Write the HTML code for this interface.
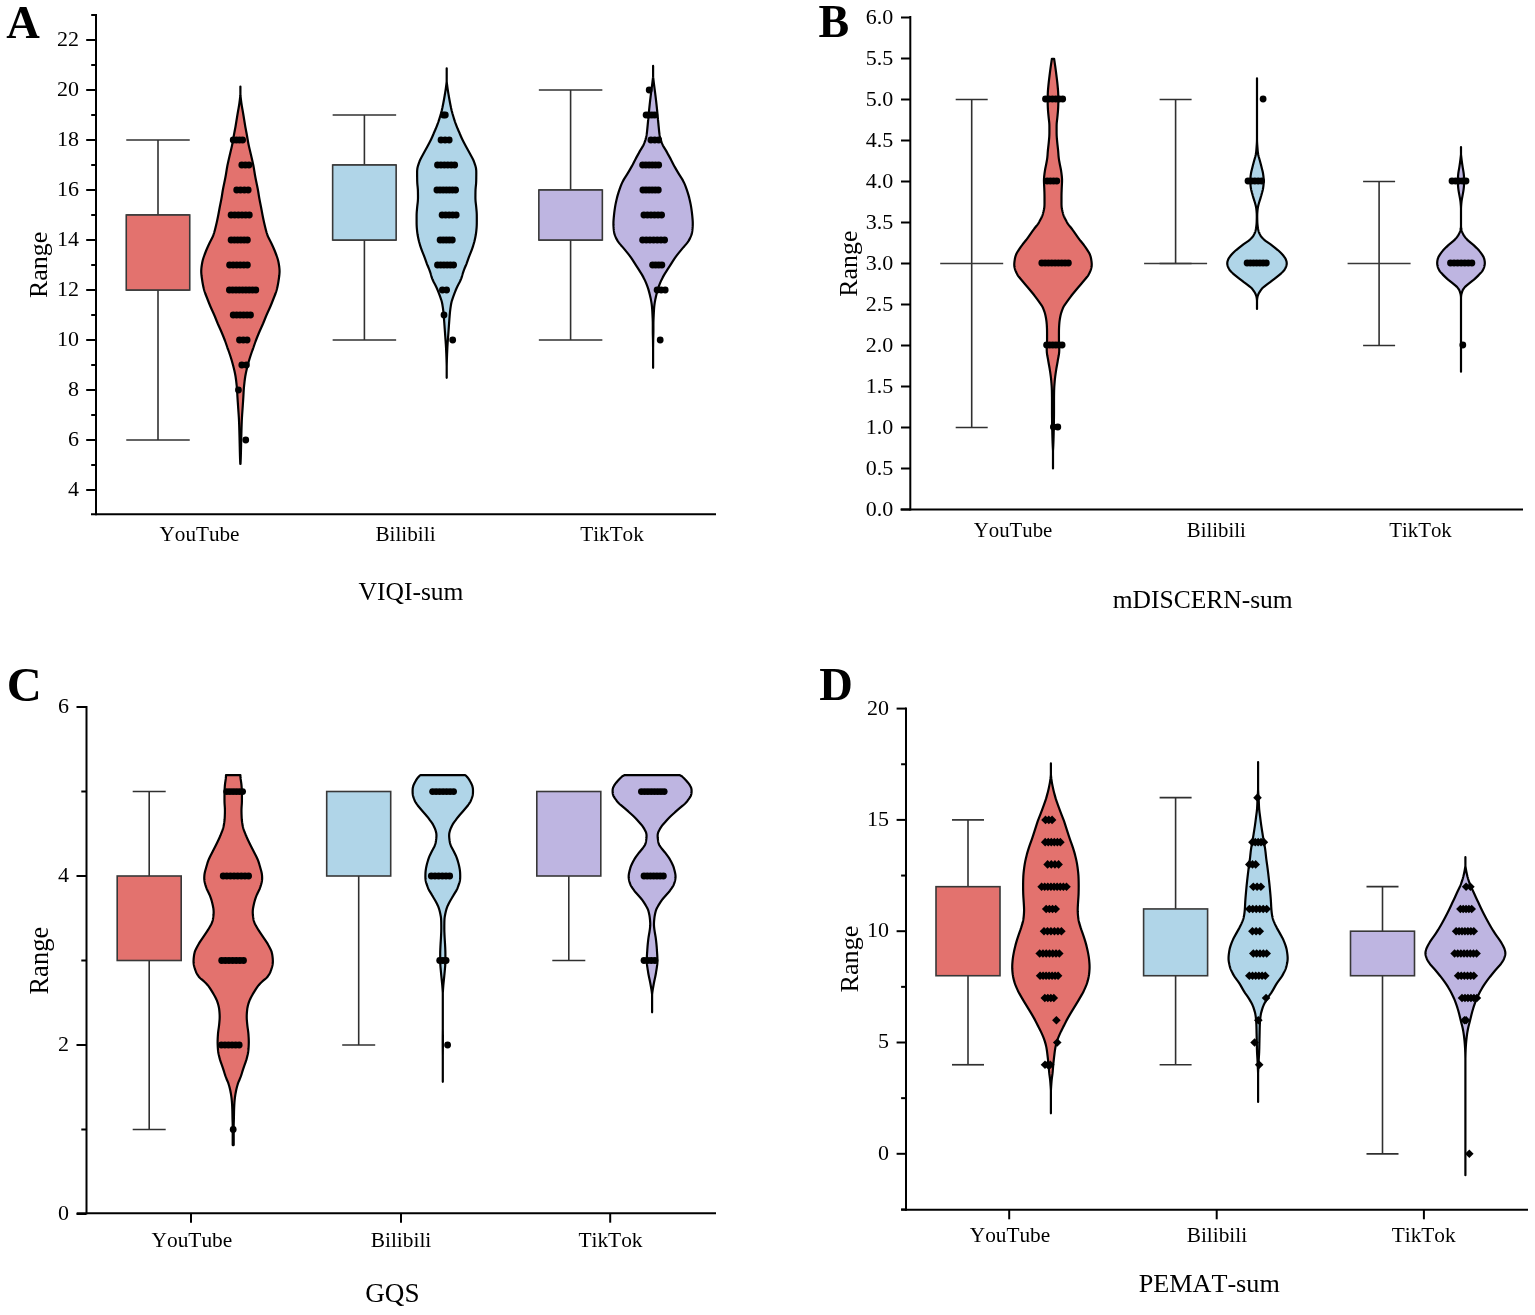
<!DOCTYPE html>
<html><head><meta charset="utf-8"><title>Violin plots</title>
<style>
html,body{margin:0;padding:0;background:#fff;}
body{width:1535px;height:1315px;overflow:hidden;}
svg{display:block;font-family:'Liberation Serif', 'Times New Roman', serif;fill:#000;font-kerning:none;}
</style></head><body>
<svg width="1535" height="1315" viewBox="0 0 1535 1315">
<rect width="1535" height="1315" fill="#fff"/>
<line x1="158" y1="140" x2="158" y2="215" stroke="#303030" stroke-width="1.6"/>
<line x1="126.25" y1="140" x2="189.75" y2="140" stroke="#303030" stroke-width="1.7"/>
<line x1="126.25" y1="215" x2="189.75" y2="215" stroke="#303030" stroke-width="1.7"/>
<line x1="158" y1="290" x2="158" y2="440" stroke="#303030" stroke-width="1.6"/>
<line x1="126.25" y1="290" x2="189.75" y2="290" stroke="#303030" stroke-width="1.7"/>
<line x1="126.25" y1="440" x2="189.75" y2="440" stroke="#303030" stroke-width="1.7"/>
<rect x="126.25" y="215" width="63.5" height="75" fill="#E3726E" stroke="#383838" stroke-width="1.6"/>
<line x1="364.4" y1="115" x2="364.4" y2="165" stroke="#303030" stroke-width="1.6"/>
<line x1="332.65" y1="115" x2="396.15" y2="115" stroke="#303030" stroke-width="1.7"/>
<line x1="332.65" y1="165" x2="396.15" y2="165" stroke="#303030" stroke-width="1.7"/>
<line x1="364.4" y1="240" x2="364.4" y2="340" stroke="#303030" stroke-width="1.6"/>
<line x1="332.65" y1="240" x2="396.15" y2="240" stroke="#303030" stroke-width="1.7"/>
<line x1="332.65" y1="340" x2="396.15" y2="340" stroke="#303030" stroke-width="1.7"/>
<rect x="332.65" y="165" width="63.5" height="75" fill="#B0D5E8" stroke="#383838" stroke-width="1.6"/>
<line x1="570.6" y1="90" x2="570.6" y2="190" stroke="#303030" stroke-width="1.6"/>
<line x1="538.85" y1="90" x2="602.35" y2="90" stroke="#303030" stroke-width="1.7"/>
<line x1="538.85" y1="190" x2="602.35" y2="190" stroke="#303030" stroke-width="1.7"/>
<line x1="570.6" y1="240" x2="570.6" y2="340" stroke="#303030" stroke-width="1.6"/>
<line x1="538.85" y1="240" x2="602.35" y2="240" stroke="#303030" stroke-width="1.7"/>
<line x1="538.85" y1="340" x2="602.35" y2="340" stroke="#303030" stroke-width="1.7"/>
<rect x="538.85" y="190" width="63.5" height="50" fill="#BEB5E1" stroke="#383838" stroke-width="1.6"/>
<path d="M240.4 86.5 L240.4 87.25 L240.4 88 L240.4 88.75 L240.4 89.5 L240.4 90.25 L240.4 91 L240.4 91.75 L240.4 92.5 L240.4 93.25 L240.4 94 L240.4 94.75 L240.44 95.5 L240.53 96.25 L240.62 97 L240.71 97.75 L240.8 98.5 L240.89 99.25 L240.98 100 L241.07 100.75 L241.17 101.5 L241.27 102.25 L241.37 103 L241.48 103.75 L241.59 104.5 L241.71 105.25 L241.83 106 L241.96 106.75 L242.09 107.5 L242.22 108.25 L242.36 109 L242.5 109.75 L242.63 110.5 L242.76 111.25 L242.89 112 L243.02 112.75 L243.15 113.5 L243.27 114.25 L243.4 115 L243.52 115.75 L243.65 116.5 L243.77 117.25 L243.89 118 L244.01 118.75 L244.13 119.5 L244.26 120.25 L244.38 121 L244.5 121.75 L244.62 122.5 L244.75 123.25 L244.87 124 L244.99 124.75 L245.11 125.5 L245.23 126.25 L245.36 127 L245.5 127.75 L245.65 128.5 L245.79 129.25 L245.93 130 L246.07 130.75 L246.21 131.5 L246.36 132.25 L246.5 133 L246.64 133.75 L246.78 134.5 L246.91 135.25 L247.05 136 L247.18 136.75 L247.31 137.5 L247.44 138.25 L247.56 139 L247.69 139.75 L247.82 140.5 L247.95 141.25 L248.08 142 L248.22 142.75 L248.36 143.5 L248.51 144.25 L248.67 145 L248.83 145.75 L249 146.5 L249.17 147.25 L249.34 148 L249.52 148.75 L249.7 149.5 L249.88 150.25 L250.06 151 L250.24 151.75 L250.42 152.5 L250.59 153.25 L250.77 154 L250.95 154.75 L251.13 155.5 L251.3 156.25 L251.48 157 L251.65 157.75 L251.83 158.5 L252 159.25 L252.17 160 L252.34 160.75 L252.51 161.5 L252.67 162.25 L252.84 163 L253 163.75 L253.17 164.5 L253.33 165.25 L253.47 166 L253.61 166.75 L253.74 167.5 L253.87 168.25 L254 169 L254.12 169.75 L254.24 170.5 L254.36 171.25 L254.48 172 L254.6 172.75 L254.72 173.5 L254.84 174.25 L254.97 175 L255.1 175.75 L255.24 176.5 L255.38 177.25 L255.52 178 L255.67 178.75 L255.82 179.5 L255.97 180.25 L256.12 181 L256.28 181.75 L256.43 182.5 L256.59 183.25 L256.74 184 L256.9 184.75 L257.06 185.5 L257.22 186.25 L257.37 187 L257.52 187.75 L257.67 188.5 L257.81 189.25 L257.95 190 L258.08 190.75 L258.21 191.5 L258.33 192.25 L258.45 193 L258.56 193.75 L258.68 194.5 L258.8 195.25 L258.92 196 L259.04 196.75 L259.17 197.5 L259.3 198.25 L259.44 199 L259.58 199.75 L259.72 200.5 L259.87 201.25 L260.02 202 L260.17 202.75 L260.32 203.5 L260.47 204.25 L260.62 205 L260.77 205.75 L260.92 206.5 L261.07 207.25 L261.21 208 L261.35 208.75 L261.49 209.5 L261.63 210.25 L261.77 211 L261.9 211.75 L262.04 212.5 L262.18 213.25 L262.32 214 L262.46 214.75 L262.61 215.5 L262.76 216.25 L262.91 217 L263.06 217.75 L263.21 218.5 L263.37 219.25 L263.53 220 L263.69 220.75 L263.86 221.5 L264.02 222.25 L264.19 223 L264.37 223.75 L264.54 224.5 L264.72 225.25 L264.9 226 L265.08 226.75 L265.26 227.5 L265.45 228.25 L265.63 229 L265.82 229.75 L266.02 230.5 L266.23 231.25 L266.44 232 L266.66 232.75 L266.9 233.5 L267.15 234.25 L267.42 235 L267.71 235.75 L268.03 236.5 L268.36 237.25 L268.72 238 L269.09 238.75 L269.47 239.5 L269.86 240.25 L270.24 241 L270.63 241.75 L271 242.5 L271.37 243.25 L271.73 244 L272.08 244.75 L272.42 245.5 L272.76 246.25 L273.1 247 L273.43 247.75 L273.76 248.5 L274.08 249.25 L274.4 250 L274.71 250.75 L275.01 251.5 L275.3 252.25 L275.59 253 L275.87 253.75 L276.15 254.5 L276.43 255.25 L276.7 256 L276.97 256.75 L277.23 257.5 L277.47 258.25 L277.7 259 L277.92 259.75 L278.12 260.5 L278.29 261.25 L278.45 262 L278.6 262.75 L278.73 263.5 L278.86 264.25 L278.98 265 L279.1 265.75 L279.2 266.5 L279.3 267.25 L279.38 268 L279.45 268.75 L279.5 269.5 L279.54 270.25 L279.56 271 L279.56 271.75 L279.53 272.5 L279.49 273.25 L279.44 274 L279.37 274.75 L279.29 275.5 L279.19 276.25 L279.09 277 L278.99 277.75 L278.88 278.5 L278.77 279.25 L278.66 280 L278.54 280.75 L278.43 281.5 L278.31 282.25 L278.18 283 L278.05 283.75 L277.91 284.5 L277.77 285.25 L277.62 286 L277.46 286.75 L277.29 287.5 L277.12 288.25 L276.93 289 L276.74 289.75 L276.53 290.5 L276.3 291.25 L276.06 292 L275.8 292.75 L275.53 293.5 L275.24 294.25 L274.95 295 L274.66 295.75 L274.36 296.5 L274.06 297.25 L273.76 298 L273.47 298.75 L273.18 299.5 L272.89 300.25 L272.6 301 L272.3 301.75 L272.01 302.5 L271.71 303.25 L271.41 304 L271.1 304.75 L270.79 305.5 L270.48 306.25 L270.16 307 L269.83 307.75 L269.5 308.5 L269.16 309.25 L268.82 310 L268.47 310.75 L268.13 311.5 L267.78 312.25 L267.44 313 L267.11 313.75 L266.78 314.5 L266.45 315.25 L266.13 316 L265.82 316.75 L265.52 317.5 L265.22 318.25 L264.92 319 L264.62 319.75 L264.32 320.5 L264.02 321.25 L263.71 322 L263.4 322.75 L263.09 323.5 L262.76 324.25 L262.44 325 L262.11 325.75 L261.77 326.5 L261.43 327.25 L261.09 328 L260.75 328.75 L260.42 329.5 L260.08 330.25 L259.75 331 L259.43 331.75 L259.11 332.5 L258.79 333.25 L258.48 334 L258.17 334.75 L257.86 335.5 L257.55 336.25 L257.25 337 L256.95 337.75 L256.66 338.5 L256.37 339.25 L256.08 340 L255.8 340.75 L255.53 341.5 L255.26 342.25 L254.99 343 L254.73 343.75 L254.47 344.5 L254.21 345.25 L253.96 346 L253.71 346.75 L253.46 347.5 L253.19 348.25 L252.91 349 L252.63 349.75 L252.36 350.5 L252.09 351.25 L251.82 352 L251.56 352.75 L251.3 353.5 L251.04 354.25 L250.79 355 L250.54 355.75 L250.3 356.5 L250.06 357.25 L249.82 358 L249.59 358.75 L249.37 359.5 L249.14 360.25 L248.92 361 L248.71 361.75 L248.5 362.5 L248.29 363.25 L248.08 364 L247.88 364.75 L247.68 365.5 L247.49 366.25 L247.3 367 L247.11 367.75 L246.92 368.5 L246.74 369.25 L246.56 370 L246.38 370.75 L246.21 371.5 L246.05 372.25 L245.9 373 L245.74 373.75 L245.6 374.5 L245.46 375.25 L245.32 376 L245.2 376.75 L245.09 377.5 L244.99 378.25 L244.88 379 L244.78 379.75 L244.69 380.5 L244.59 381.25 L244.51 382 L244.42 382.75 L244.34 383.5 L244.25 384.25 L244.18 385 L244.1 385.75 L244.03 386.5 L243.96 387.25 L243.89 388 L243.83 388.75 L243.77 389.5 L243.72 390.25 L243.67 391 L243.63 391.75 L243.58 392.5 L243.55 393.25 L243.51 394 L243.47 394.75 L243.43 395.5 L243.39 396.25 L243.34 397 L243.3 397.75 L243.25 398.5 L243.2 399.25 L243.16 400 L243.11 400.75 L243.06 401.5 L243 402.25 L242.95 403 L242.9 403.75 L242.85 404.5 L242.8 405.25 L242.75 406 L242.7 406.75 L242.65 407.5 L242.6 408.25 L242.54 409 L242.49 409.75 L242.44 410.5 L242.39 411.25 L242.33 412 L242.28 412.75 L242.22 413.5 L242.17 414.25 L242.12 415 L242.07 415.75 L242.02 416.5 L241.97 417.25 L241.93 418 L241.89 418.75 L241.85 419.5 L241.81 420.25 L241.78 421 L241.75 421.75 L241.72 422.5 L241.69 423.25 L241.66 424 L241.64 424.75 L241.61 425.5 L241.59 426.25 L241.56 427 L241.54 427.75 L241.52 428.5 L241.5 429.25 L241.47 430 L241.45 430.75 L241.43 431.5 L241.41 432.25 L241.39 433 L241.37 433.75 L241.35 434.5 L241.33 435.25 L241.31 436 L241.29 436.75 L241.27 437.5 L241.25 438.25 L241.24 439 L241.22 439.75 L241.2 440.5 L241.18 441.25 L241.17 442 L241.15 442.75 L241.13 443.5 L241.11 444.25 L241.09 445 L241.08 445.75 L241.06 446.5 L241.04 447.25 L241.02 448 L241.01 448.75 L240.99 449.5 L240.97 450.25 L240.96 451 L240.94 451.75 L240.92 452.5 L240.9 453.25 L240.88 454 L240.86 454.75 L240.84 455.5 L240.82 456.25 L240.79 457 L240.77 457.75 L240.74 458.5 L240.71 459.25 L240.68 460 L240.65 460.75 L240.62 461.5 L240.58 462.25 L240.55 463 L240.51 463.75 L240.5 463.9 L240.3 463.9 L240.29 463.75 L240.25 463 L240.22 462.25 L240.18 461.5 L240.15 460.75 L240.12 460 L240.09 459.25 L240.06 458.5 L240.03 457.75 L240.01 457 L239.98 456.25 L239.96 455.5 L239.94 454.75 L239.92 454 L239.9 453.25 L239.88 452.5 L239.86 451.75 L239.84 451 L239.83 450.25 L239.81 449.5 L239.79 448.75 L239.78 448 L239.76 447.25 L239.74 446.5 L239.72 445.75 L239.71 445 L239.69 444.25 L239.67 443.5 L239.65 442.75 L239.63 442 L239.62 441.25 L239.6 440.5 L239.58 439.75 L239.56 439 L239.55 438.25 L239.53 437.5 L239.51 436.75 L239.49 436 L239.47 435.25 L239.45 434.5 L239.43 433.75 L239.41 433 L239.39 432.25 L239.37 431.5 L239.35 430.75 L239.33 430 L239.3 429.25 L239.28 428.5 L239.26 427.75 L239.24 427 L239.21 426.25 L239.19 425.5 L239.16 424.75 L239.14 424 L239.11 423.25 L239.08 422.5 L239.05 421.75 L239.02 421 L238.99 420.25 L238.95 419.5 L238.91 418.75 L238.87 418 L238.83 417.25 L238.78 416.5 L238.73 415.75 L238.68 415 L238.63 414.25 L238.58 413.5 L238.52 412.75 L238.47 412 L238.41 411.25 L238.36 410.5 L238.31 409.75 L238.26 409 L238.2 408.25 L238.15 407.5 L238.1 406.75 L238.05 406 L238 405.25 L237.95 404.5 L237.9 403.75 L237.85 403 L237.8 402.25 L237.74 401.5 L237.69 400.75 L237.64 400 L237.6 399.25 L237.55 398.5 L237.5 397.75 L237.46 397 L237.41 396.25 L237.37 395.5 L237.33 394.75 L237.29 394 L237.25 393.25 L237.22 392.5 L237.17 391.75 L237.13 391 L237.08 390.25 L237.03 389.5 L236.97 388.75 L236.91 388 L236.84 387.25 L236.77 386.5 L236.7 385.75 L236.62 385 L236.55 384.25 L236.46 383.5 L236.38 382.75 L236.29 382 L236.21 381.25 L236.11 380.5 L236.02 379.75 L235.92 379 L235.81 378.25 L235.71 377.5 L235.6 376.75 L235.48 376 L235.34 375.25 L235.2 374.5 L235.06 373.75 L234.9 373 L234.75 372.25 L234.59 371.5 L234.42 370.75 L234.24 370 L234.06 369.25 L233.88 368.5 L233.69 367.75 L233.5 367 L233.31 366.25 L233.12 365.5 L232.92 364.75 L232.72 364 L232.51 363.25 L232.3 362.5 L232.09 361.75 L231.88 361 L231.66 360.25 L231.43 359.5 L231.21 358.75 L230.98 358 L230.74 357.25 L230.5 356.5 L230.26 355.75 L230.01 355 L229.76 354.25 L229.5 353.5 L229.24 352.75 L228.98 352 L228.71 351.25 L228.44 350.5 L228.17 349.75 L227.89 349 L227.61 348.25 L227.34 347.5 L227.09 346.75 L226.84 346 L226.59 345.25 L226.33 344.5 L226.07 343.75 L225.81 343 L225.54 342.25 L225.27 341.5 L225 340.75 L224.72 340 L224.43 339.25 L224.14 338.5 L223.85 337.75 L223.55 337 L223.25 336.25 L222.94 335.5 L222.63 334.75 L222.32 334 L222.01 333.25 L221.69 332.5 L221.37 331.75 L221.05 331 L220.72 330.25 L220.38 329.5 L220.05 328.75 L219.71 328 L219.37 327.25 L219.03 326.5 L218.69 325.75 L218.36 325 L218.04 324.25 L217.71 323.5 L217.4 322.75 L217.09 322 L216.78 321.25 L216.48 320.5 L216.18 319.75 L215.88 319 L215.58 318.25 L215.28 317.5 L214.98 316.75 L214.67 316 L214.35 315.25 L214.02 314.5 L213.69 313.75 L213.36 313 L213.02 312.25 L212.67 311.5 L212.33 310.75 L211.98 310 L211.64 309.25 L211.3 308.5 L210.97 307.75 L210.64 307 L210.32 306.25 L210.01 305.5 L209.7 304.75 L209.39 304 L209.09 303.25 L208.79 302.5 L208.5 301.75 L208.2 301 L207.91 300.25 L207.62 299.5 L207.33 298.75 L207.04 298 L206.74 297.25 L206.44 296.5 L206.14 295.75 L205.85 295 L205.56 294.25 L205.27 293.5 L205 292.75 L204.74 292 L204.5 291.25 L204.27 290.5 L204.06 289.75 L203.87 289 L203.68 288.25 L203.51 287.5 L203.34 286.75 L203.18 286 L203.03 285.25 L202.89 284.5 L202.75 283.75 L202.62 283 L202.49 282.25 L202.37 281.5 L202.26 280.75 L202.14 280 L202.03 279.25 L201.92 278.5 L201.81 277.75 L201.71 277 L201.61 276.25 L201.51 275.5 L201.43 274.75 L201.36 274 L201.31 273.25 L201.27 272.5 L201.24 271.75 L201.24 271 L201.26 270.25 L201.3 269.5 L201.35 268.75 L201.42 268 L201.5 267.25 L201.6 266.5 L201.7 265.75 L201.82 265 L201.94 264.25 L202.07 263.5 L202.2 262.75 L202.35 262 L202.51 261.25 L202.68 260.5 L202.88 259.75 L203.1 259 L203.33 258.25 L203.57 257.5 L203.83 256.75 L204.1 256 L204.37 255.25 L204.65 254.5 L204.93 253.75 L205.21 253 L205.5 252.25 L205.79 251.5 L206.09 250.75 L206.4 250 L206.72 249.25 L207.04 248.5 L207.37 247.75 L207.7 247 L208.04 246.25 L208.38 245.5 L208.72 244.75 L209.07 244 L209.43 243.25 L209.8 242.5 L210.17 241.75 L210.56 241 L210.94 240.25 L211.33 239.5 L211.71 238.75 L212.08 238 L212.44 237.25 L212.77 236.5 L213.09 235.75 L213.38 235 L213.65 234.25 L213.9 233.5 L214.14 232.75 L214.36 232 L214.57 231.25 L214.78 230.5 L214.98 229.75 L215.17 229 L215.35 228.25 L215.54 227.5 L215.72 226.75 L215.9 226 L216.08 225.25 L216.26 224.5 L216.43 223.75 L216.61 223 L216.78 222.25 L216.94 221.5 L217.11 220.75 L217.27 220 L217.43 219.25 L217.59 218.5 L217.74 217.75 L217.89 217 L218.04 216.25 L218.19 215.5 L218.34 214.75 L218.48 214 L218.62 213.25 L218.76 212.5 L218.9 211.75 L219.03 211 L219.17 210.25 L219.31 209.5 L219.45 208.75 L219.59 208 L219.73 207.25 L219.88 206.5 L220.03 205.75 L220.18 205 L220.33 204.25 L220.48 203.5 L220.63 202.75 L220.78 202 L220.93 201.25 L221.08 200.5 L221.22 199.75 L221.36 199 L221.5 198.25 L221.63 197.5 L221.76 196.75 L221.88 196 L222 195.25 L222.12 194.5 L222.24 193.75 L222.35 193 L222.47 192.25 L222.59 191.5 L222.72 190.75 L222.85 190 L222.99 189.25 L223.13 188.5 L223.28 187.75 L223.43 187 L223.58 186.25 L223.74 185.5 L223.9 184.75 L224.06 184 L224.21 183.25 L224.37 182.5 L224.52 181.75 L224.68 181 L224.83 180.25 L224.98 179.5 L225.13 178.75 L225.28 178 L225.42 177.25 L225.56 176.5 L225.7 175.75 L225.83 175 L225.96 174.25 L226.08 173.5 L226.2 172.75 L226.32 172 L226.44 171.25 L226.56 170.5 L226.68 169.75 L226.8 169 L226.93 168.25 L227.06 167.5 L227.19 166.75 L227.33 166 L227.47 165.25 L227.63 164.5 L227.8 163.75 L227.96 163 L228.13 162.25 L228.29 161.5 L228.46 160.75 L228.63 160 L228.8 159.25 L228.97 158.5 L229.15 157.75 L229.32 157 L229.5 156.25 L229.67 155.5 L229.85 154.75 L230.03 154 L230.21 153.25 L230.38 152.5 L230.56 151.75 L230.74 151 L230.92 150.25 L231.1 149.5 L231.28 148.75 L231.46 148 L231.63 147.25 L231.8 146.5 L231.97 145.75 L232.13 145 L232.29 144.25 L232.44 143.5 L232.58 142.75 L232.72 142 L232.85 141.25 L232.98 140.5 L233.11 139.75 L233.24 139 L233.36 138.25 L233.49 137.5 L233.62 136.75 L233.75 136 L233.89 135.25 L234.02 134.5 L234.16 133.75 L234.3 133 L234.44 132.25 L234.59 131.5 L234.73 130.75 L234.87 130 L235.01 129.25 L235.15 128.5 L235.3 127.75 L235.44 127 L235.57 126.25 L235.69 125.5 L235.81 124.75 L235.93 124 L236.05 123.25 L236.18 122.5 L236.3 121.75 L236.42 121 L236.54 120.25 L236.67 119.5 L236.79 118.75 L236.91 118 L237.03 117.25 L237.15 116.5 L237.28 115.75 L237.4 115 L237.53 114.25 L237.65 113.5 L237.78 112.75 L237.91 112 L238.04 111.25 L238.17 110.5 L238.3 109.75 L238.44 109 L238.58 108.25 L238.71 107.5 L238.84 106.75 L238.97 106 L239.09 105.25 L239.21 104.5 L239.32 103.75 L239.43 103 L239.53 102.25 L239.63 101.5 L239.73 100.75 L239.82 100 L239.91 99.25 L240 98.5 L240.09 97.75 L240.18 97 L240.27 96.25 L240.36 95.5 L240.4 94.75 L240.4 94 L240.4 93.25 L240.4 92.5 L240.4 91.75 L240.4 91 L240.4 90.25 L240.4 89.5 L240.4 88.75 L240.4 88 L240.4 87.25 L240.4 86.5 Z" fill="#E3726E" stroke="#000" stroke-width="2.2" stroke-linejoin="round"/>
<circle cx="233.2" cy="140" r="3.4"/>
<circle cx="236.33" cy="140" r="3.4"/>
<circle cx="239.47" cy="140" r="3.4"/>
<circle cx="242.6" cy="140" r="3.4"/>
<circle cx="241.8" cy="165" r="3.4"/>
<circle cx="245.4" cy="165" r="3.4"/>
<circle cx="249" cy="165" r="3.4"/>
<circle cx="236.7" cy="190" r="3.4"/>
<circle cx="240.53" cy="190" r="3.4"/>
<circle cx="244.37" cy="190" r="3.4"/>
<circle cx="248.2" cy="190" r="3.4"/>
<circle cx="231.1" cy="215" r="3.4"/>
<circle cx="234.74" cy="215" r="3.4"/>
<circle cx="238.38" cy="215" r="3.4"/>
<circle cx="242.02" cy="215" r="3.4"/>
<circle cx="245.66" cy="215" r="3.4"/>
<circle cx="249.3" cy="215" r="3.4"/>
<circle cx="231.1" cy="240" r="3.4"/>
<circle cx="234.36" cy="240" r="3.4"/>
<circle cx="237.62" cy="240" r="3.4"/>
<circle cx="240.88" cy="240" r="3.4"/>
<circle cx="244.14" cy="240" r="3.4"/>
<circle cx="247.4" cy="240" r="3.4"/>
<circle cx="229.6" cy="265" r="3.4"/>
<circle cx="233.16" cy="265" r="3.4"/>
<circle cx="236.72" cy="265" r="3.4"/>
<circle cx="240.28" cy="265" r="3.4"/>
<circle cx="243.84" cy="265" r="3.4"/>
<circle cx="247.4" cy="265" r="3.4"/>
<circle cx="229.4" cy="290" r="3.4"/>
<circle cx="232.7" cy="290" r="3.4"/>
<circle cx="236" cy="290" r="3.4"/>
<circle cx="239.3" cy="290" r="3.4"/>
<circle cx="242.6" cy="290" r="3.4"/>
<circle cx="245.9" cy="290" r="3.4"/>
<circle cx="249.2" cy="290" r="3.4"/>
<circle cx="252.5" cy="290" r="3.4"/>
<circle cx="255.8" cy="290" r="3.4"/>
<circle cx="233.2" cy="315" r="3.4"/>
<circle cx="236.66" cy="315" r="3.4"/>
<circle cx="240.12" cy="315" r="3.4"/>
<circle cx="243.58" cy="315" r="3.4"/>
<circle cx="247.04" cy="315" r="3.4"/>
<circle cx="250.5" cy="315" r="3.4"/>
<circle cx="239.5" cy="340" r="3.4"/>
<circle cx="243.3" cy="340" r="3.4"/>
<circle cx="247.1" cy="340" r="3.4"/>
<circle cx="241.8" cy="365" r="3.4"/>
<circle cx="246.4" cy="365" r="3.4"/>
<circle cx="238.45" cy="390" r="3.4"/>
<circle cx="245.75" cy="440" r="3.4"/>
<path d="M446.7 68.3 L446.7 69.05 L446.7 69.8 L446.7 70.55 L446.7 71.3 L446.7 72.05 L446.7 72.8 L446.7 73.55 L446.7 74.3 L446.7 75.05 L446.7 75.8 L446.7 76.55 L446.7 77.3 L446.7 78.05 L446.7 78.8 L446.7 79.55 L446.7 80.3 L446.7 81.05 L446.73 81.8 L446.82 82.55 L446.91 83.3 L447 84.05 L447.1 84.8 L447.2 85.55 L447.3 86.3 L447.4 87.05 L447.5 87.8 L447.61 88.55 L447.72 89.3 L447.83 90.05 L447.94 90.8 L448.06 91.55 L448.18 92.3 L448.3 93.05 L448.42 93.8 L448.54 94.55 L448.67 95.3 L448.8 96.05 L448.92 96.8 L449.05 97.55 L449.18 98.3 L449.32 99.05 L449.45 99.8 L449.59 100.55 L449.73 101.3 L449.87 102.05 L450.01 102.8 L450.16 103.55 L450.3 104.3 L450.45 105.05 L450.6 105.8 L450.76 106.55 L450.92 107.3 L451.07 108.05 L451.24 108.8 L451.4 109.55 L451.57 110.3 L451.76 111.05 L451.96 111.8 L452.17 112.55 L452.37 113.3 L452.59 114.05 L452.8 114.8 L453.02 115.55 L453.25 116.3 L453.48 117.05 L453.71 117.8 L453.95 118.55 L454.19 119.3 L454.44 120.05 L454.69 120.8 L454.94 121.55 L455.21 122.3 L455.47 123.05 L455.75 123.8 L456.03 124.55 L456.31 125.3 L456.6 126.05 L456.89 126.8 L457.19 127.55 L457.5 128.3 L457.8 129.05 L458.12 129.8 L458.43 130.55 L458.75 131.3 L459.08 132.05 L459.42 132.8 L459.75 133.55 L460.05 134.3 L460.35 135.05 L460.67 135.8 L460.99 136.55 L461.32 137.3 L461.66 138.05 L462.01 138.8 L462.37 139.55 L462.74 140.3 L463.12 141.05 L463.5 141.8 L463.89 142.55 L464.29 143.3 L464.68 144.05 L465.08 144.8 L465.48 145.55 L465.88 146.3 L466.29 147.05 L466.7 147.8 L467.11 148.55 L467.53 149.3 L467.94 150.05 L468.36 150.8 L468.77 151.55 L469.18 152.3 L469.59 153.05 L470 153.8 L470.4 154.55 L470.81 155.3 L471.22 156.05 L471.63 156.8 L472.04 157.55 L472.43 158.3 L472.82 159.05 L473.18 159.8 L473.52 160.55 L473.84 161.3 L474.14 162.05 L474.41 162.8 L474.67 163.55 L474.92 164.3 L475.16 165.05 L475.38 165.8 L475.59 166.55 L475.78 167.3 L475.94 168.05 L476.07 168.8 L476.16 169.55 L476.23 170.3 L476.27 171.05 L476.28 171.8 L476.29 172.55 L476.29 173.3 L476.29 174.05 L476.28 174.8 L476.28 175.55 L476.27 176.3 L476.26 177.05 L476.25 177.8 L476.25 178.55 L476.23 179.3 L476.22 180.05 L476.21 180.8 L476.18 181.55 L476.15 182.3 L476.11 183.05 L476.05 183.8 L475.99 184.55 L475.92 185.3 L475.84 186.05 L475.76 186.8 L475.69 187.55 L475.63 188.3 L475.57 189.05 L475.53 189.8 L475.5 190.55 L475.48 191.3 L475.47 192.05 L475.45 192.8 L475.44 193.55 L475.43 194.3 L475.42 195.05 L475.42 195.8 L475.41 196.55 L475.41 197.3 L475.42 198.05 L475.43 198.8 L475.46 199.55 L475.51 200.3 L475.56 201.05 L475.63 201.8 L475.71 202.55 L475.8 203.3 L475.89 204.05 L475.98 204.8 L476.06 205.55 L476.14 206.3 L476.22 207.05 L476.29 207.8 L476.36 208.55 L476.43 209.3 L476.49 210.05 L476.56 210.8 L476.62 211.55 L476.67 212.3 L476.71 213.05 L476.75 213.8 L476.77 214.55 L476.79 215.3 L476.79 216.05 L476.8 216.8 L476.8 217.55 L476.8 218.3 L476.8 219.05 L476.8 219.8 L476.8 220.55 L476.8 221.3 L476.8 222.05 L476.79 222.8 L476.79 223.55 L476.77 224.3 L476.75 225.05 L476.72 225.8 L476.68 226.55 L476.63 227.3 L476.57 228.05 L476.5 228.8 L476.43 229.55 L476.36 230.3 L476.28 231.05 L476.2 231.8 L476.11 232.55 L476.01 233.3 L475.9 234.05 L475.79 234.8 L475.66 235.55 L475.52 236.3 L475.38 237.05 L475.23 237.8 L475.07 238.55 L474.91 239.3 L474.74 240.05 L474.56 240.8 L474.38 241.55 L474.18 242.3 L473.97 243.05 L473.75 243.8 L473.52 244.55 L473.29 245.3 L473.05 246.05 L472.8 246.8 L472.55 247.55 L472.29 248.3 L472.02 249.05 L471.75 249.8 L471.47 250.55 L471.18 251.3 L470.88 252.05 L470.58 252.8 L470.28 253.55 L469.97 254.3 L469.67 255.05 L469.38 255.8 L469.09 256.55 L468.8 257.3 L468.53 258.05 L468.26 258.8 L468 259.55 L467.73 260.3 L467.47 261.05 L467.21 261.8 L466.94 262.55 L466.67 263.3 L466.4 264.05 L466.11 264.8 L465.81 265.55 L465.49 266.3 L465.17 267.05 L464.85 267.8 L464.53 268.55 L464.22 269.3 L463.93 270.05 L463.66 270.8 L463.4 271.55 L463.16 272.3 L462.94 273.05 L462.71 273.8 L462.5 274.55 L462.27 275.3 L462.05 276.05 L461.81 276.8 L461.56 277.55 L461.3 278.3 L461.01 279.05 L460.71 279.8 L460.39 280.55 L460.05 281.3 L459.71 282.05 L459.31 282.8 L458.9 283.55 L458.5 284.3 L458.11 285.05 L457.73 285.8 L457.37 286.55 L457.02 287.3 L456.67 288.05 L456.34 288.8 L456.01 289.55 L455.69 290.3 L455.38 291.05 L455.07 291.8 L454.77 292.55 L454.48 293.3 L454.2 294.05 L453.92 294.8 L453.64 295.55 L453.37 296.3 L453.11 297.05 L452.84 297.8 L452.59 298.55 L452.34 299.3 L452.1 300.05 L451.87 300.8 L451.66 301.55 L451.48 302.3 L451.31 303.05 L451.16 303.8 L451.02 304.55 L450.89 305.3 L450.77 306.05 L450.65 306.8 L450.54 307.55 L450.43 308.3 L450.33 309.05 L450.24 309.8 L450.15 310.55 L450.06 311.3 L449.98 312.05 L449.91 312.8 L449.84 313.55 L449.77 314.3 L449.7 315.05 L449.64 315.8 L449.58 316.55 L449.52 317.3 L449.46 318.05 L449.41 318.8 L449.35 319.55 L449.29 320.3 L449.24 321.05 L449.18 321.8 L449.13 322.55 L449.07 323.3 L449.02 324.05 L448.97 324.8 L448.91 325.55 L448.86 326.3 L448.81 327.05 L448.76 327.8 L448.7 328.55 L448.65 329.3 L448.6 330.05 L448.54 330.8 L448.49 331.55 L448.43 332.3 L448.38 333.05 L448.32 333.8 L448.27 334.55 L448.22 335.3 L448.16 336.05 L448.11 336.8 L448.05 337.55 L448 338.3 L447.94 339.05 L447.88 339.8 L447.83 340.55 L447.77 341.3 L447.72 342.05 L447.67 342.8 L447.61 343.55 L447.57 344.3 L447.52 345.05 L447.48 345.8 L447.43 346.55 L447.39 347.3 L447.35 348.05 L447.32 348.8 L447.28 349.55 L447.25 350.3 L447.21 351.05 L447.18 351.8 L447.15 352.55 L447.11 353.3 L447.08 354.05 L447.05 354.8 L447.02 355.55 L446.99 356.3 L446.97 357.05 L446.94 357.8 L446.91 358.55 L446.89 359.3 L446.86 360.05 L446.84 360.8 L446.82 361.55 L446.8 362.3 L446.78 363.05 L446.76 363.8 L446.74 364.55 L446.73 365.3 L446.71 366.05 L446.7 366.8 L446.7 367.55 L446.7 368.3 L446.7 369.05 L446.7 369.8 L446.7 370.55 L446.7 371.3 L446.7 372.05 L446.7 372.8 L446.7 373.55 L446.7 374.3 L446.7 375.05 L446.7 375.8 L446.7 376.55 L446.7 377.3 L446.7 377.8 L446.7 377.8 L446.7 377.3 L446.7 376.55 L446.7 375.8 L446.7 375.05 L446.7 374.3 L446.7 373.55 L446.7 372.8 L446.7 372.05 L446.7 371.3 L446.7 370.55 L446.7 369.8 L446.7 369.05 L446.7 368.3 L446.7 367.55 L446.7 366.8 L446.69 366.05 L446.67 365.3 L446.66 364.55 L446.64 363.8 L446.62 363.05 L446.6 362.3 L446.58 361.55 L446.56 360.8 L446.54 360.05 L446.51 359.3 L446.49 358.55 L446.46 357.8 L446.43 357.05 L446.41 356.3 L446.38 355.55 L446.35 354.8 L446.32 354.05 L446.29 353.3 L446.25 352.55 L446.22 351.8 L446.19 351.05 L446.15 350.3 L446.12 349.55 L446.08 348.8 L446.05 348.05 L446.01 347.3 L445.97 346.55 L445.92 345.8 L445.88 345.05 L445.83 344.3 L445.79 343.55 L445.73 342.8 L445.68 342.05 L445.63 341.3 L445.57 340.55 L445.52 339.8 L445.46 339.05 L445.4 338.3 L445.35 337.55 L445.29 336.8 L445.24 336.05 L445.18 335.3 L445.13 334.55 L445.08 333.8 L445.02 333.05 L444.97 332.3 L444.91 331.55 L444.86 330.8 L444.8 330.05 L444.75 329.3 L444.7 328.55 L444.64 327.8 L444.59 327.05 L444.54 326.3 L444.49 325.55 L444.43 324.8 L444.38 324.05 L444.33 323.3 L444.27 322.55 L444.22 321.8 L444.16 321.05 L444.11 320.3 L444.05 319.55 L443.99 318.8 L443.94 318.05 L443.88 317.3 L443.82 316.55 L443.76 315.8 L443.7 315.05 L443.63 314.3 L443.56 313.55 L443.49 312.8 L443.42 312.05 L443.34 311.3 L443.25 310.55 L443.16 309.8 L443.07 309.05 L442.97 308.3 L442.86 307.55 L442.75 306.8 L442.63 306.05 L442.51 305.3 L442.38 304.55 L442.24 303.8 L442.09 303.05 L441.92 302.3 L441.74 301.55 L441.53 300.8 L441.3 300.05 L441.06 299.3 L440.81 298.55 L440.56 297.8 L440.29 297.05 L440.03 296.3 L439.76 295.55 L439.48 294.8 L439.2 294.05 L438.92 293.3 L438.63 292.55 L438.33 291.8 L438.02 291.05 L437.71 290.3 L437.39 289.55 L437.06 288.8 L436.73 288.05 L436.38 287.3 L436.03 286.55 L435.67 285.8 L435.29 285.05 L434.9 284.3 L434.5 283.55 L434.09 282.8 L433.69 282.05 L433.35 281.3 L433.01 280.55 L432.69 279.8 L432.39 279.05 L432.1 278.3 L431.84 277.55 L431.59 276.8 L431.35 276.05 L431.13 275.3 L430.9 274.55 L430.69 273.8 L430.46 273.05 L430.24 272.3 L430 271.55 L429.74 270.8 L429.47 270.05 L429.18 269.3 L428.87 268.55 L428.55 267.8 L428.23 267.05 L427.91 266.3 L427.59 265.55 L427.29 264.8 L427 264.05 L426.73 263.3 L426.46 262.55 L426.19 261.8 L425.93 261.05 L425.67 260.3 L425.4 259.55 L425.14 258.8 L424.87 258.05 L424.6 257.3 L424.31 256.55 L424.02 255.8 L423.73 255.05 L423.43 254.3 L423.12 253.55 L422.82 252.8 L422.52 252.05 L422.22 251.3 L421.93 250.55 L421.65 249.8 L421.38 249.05 L421.11 248.3 L420.85 247.55 L420.6 246.8 L420.35 246.05 L420.11 245.3 L419.88 244.55 L419.65 243.8 L419.43 243.05 L419.22 242.3 L419.02 241.55 L418.84 240.8 L418.66 240.05 L418.49 239.3 L418.33 238.55 L418.17 237.8 L418.02 237.05 L417.88 236.3 L417.74 235.55 L417.61 234.8 L417.5 234.05 L417.39 233.3 L417.29 232.55 L417.2 231.8 L417.12 231.05 L417.04 230.3 L416.97 229.55 L416.9 228.8 L416.83 228.05 L416.77 227.3 L416.72 226.55 L416.68 225.8 L416.65 225.05 L416.63 224.3 L416.61 223.55 L416.61 222.8 L416.6 222.05 L416.6 221.3 L416.6 220.55 L416.6 219.8 L416.6 219.05 L416.6 218.3 L416.6 217.55 L416.6 216.8 L416.61 216.05 L416.61 215.3 L416.63 214.55 L416.65 213.8 L416.69 213.05 L416.73 212.3 L416.78 211.55 L416.84 210.8 L416.91 210.05 L416.97 209.3 L417.04 208.55 L417.11 207.8 L417.18 207.05 L417.26 206.3 L417.34 205.55 L417.42 204.8 L417.51 204.05 L417.6 203.3 L417.69 202.55 L417.77 201.8 L417.84 201.05 L417.89 200.3 L417.94 199.55 L417.97 198.8 L417.98 198.05 L417.99 197.3 L417.99 196.55 L417.98 195.8 L417.98 195.05 L417.97 194.3 L417.96 193.55 L417.95 192.8 L417.93 192.05 L417.92 191.3 L417.9 190.55 L417.87 189.8 L417.83 189.05 L417.77 188.3 L417.71 187.55 L417.64 186.8 L417.56 186.05 L417.48 185.3 L417.41 184.55 L417.35 183.8 L417.29 183.05 L417.25 182.3 L417.22 181.55 L417.19 180.8 L417.18 180.05 L417.17 179.3 L417.15 178.55 L417.15 177.8 L417.14 177.05 L417.13 176.3 L417.12 175.55 L417.12 174.8 L417.11 174.05 L417.11 173.3 L417.11 172.55 L417.12 171.8 L417.13 171.05 L417.17 170.3 L417.24 169.55 L417.33 168.8 L417.46 168.05 L417.62 167.3 L417.81 166.55 L418.02 165.8 L418.24 165.05 L418.48 164.3 L418.73 163.55 L418.99 162.8 L419.26 162.05 L419.56 161.3 L419.88 160.55 L420.22 159.8 L420.58 159.05 L420.97 158.3 L421.36 157.55 L421.77 156.8 L422.18 156.05 L422.59 155.3 L423 154.55 L423.4 153.8 L423.81 153.05 L424.22 152.3 L424.63 151.55 L425.04 150.8 L425.46 150.05 L425.87 149.3 L426.29 148.55 L426.7 147.8 L427.11 147.05 L427.52 146.3 L427.92 145.55 L428.32 144.8 L428.72 144.05 L429.11 143.3 L429.51 142.55 L429.9 141.8 L430.28 141.05 L430.66 140.3 L431.03 139.55 L431.39 138.8 L431.74 138.05 L432.08 137.3 L432.41 136.55 L432.73 135.8 L433.05 135.05 L433.35 134.3 L433.65 133.55 L433.98 132.8 L434.32 132.05 L434.65 131.3 L434.97 130.55 L435.28 129.8 L435.6 129.05 L435.9 128.3 L436.21 127.55 L436.51 126.8 L436.8 126.05 L437.09 125.3 L437.37 124.55 L437.65 123.8 L437.93 123.05 L438.19 122.3 L438.46 121.55 L438.71 120.8 L438.96 120.05 L439.21 119.3 L439.45 118.55 L439.69 117.8 L439.92 117.05 L440.15 116.3 L440.38 115.55 L440.6 114.8 L440.81 114.05 L441.03 113.3 L441.23 112.55 L441.44 111.8 L441.64 111.05 L441.83 110.3 L442 109.55 L442.16 108.8 L442.33 108.05 L442.48 107.3 L442.64 106.55 L442.8 105.8 L442.95 105.05 L443.1 104.3 L443.24 103.55 L443.39 102.8 L443.53 102.05 L443.67 101.3 L443.81 100.55 L443.95 99.8 L444.08 99.05 L444.22 98.3 L444.35 97.55 L444.48 96.8 L444.6 96.05 L444.73 95.3 L444.86 94.55 L444.98 93.8 L445.1 93.05 L445.22 92.3 L445.34 91.55 L445.46 90.8 L445.57 90.05 L445.68 89.3 L445.79 88.55 L445.9 87.8 L446 87.05 L446.1 86.3 L446.2 85.55 L446.3 84.8 L446.4 84.05 L446.49 83.3 L446.58 82.55 L446.67 81.8 L446.7 81.05 L446.7 80.3 L446.7 79.55 L446.7 78.8 L446.7 78.05 L446.7 77.3 L446.7 76.55 L446.7 75.8 L446.7 75.05 L446.7 74.3 L446.7 73.55 L446.7 72.8 L446.7 72.05 L446.7 71.3 L446.7 70.55 L446.7 69.8 L446.7 69.05 L446.7 68.3 Z" fill="#B0D5E8" stroke="#000" stroke-width="2.2" stroke-linejoin="round"/>
<circle cx="443.4" cy="115" r="3.4"/>
<circle cx="445.3" cy="115" r="3.4"/>
<circle cx="441" cy="140" r="3.4"/>
<circle cx="445.1" cy="140" r="3.4"/>
<circle cx="449.2" cy="140" r="3.4"/>
<circle cx="437.5" cy="165" r="3.4"/>
<circle cx="440.94" cy="165" r="3.4"/>
<circle cx="444.38" cy="165" r="3.4"/>
<circle cx="447.82" cy="165" r="3.4"/>
<circle cx="451.26" cy="165" r="3.4"/>
<circle cx="454.7" cy="165" r="3.4"/>
<circle cx="436.9" cy="190" r="3.4"/>
<circle cx="440.02" cy="190" r="3.4"/>
<circle cx="443.13" cy="190" r="3.4"/>
<circle cx="446.25" cy="190" r="3.4"/>
<circle cx="449.37" cy="190" r="3.4"/>
<circle cx="452.48" cy="190" r="3.4"/>
<circle cx="455.6" cy="190" r="3.4"/>
<circle cx="442.1" cy="215" r="3.4"/>
<circle cx="445.62" cy="215" r="3.4"/>
<circle cx="449.15" cy="215" r="3.4"/>
<circle cx="452.68" cy="215" r="3.4"/>
<circle cx="456.2" cy="215" r="3.4"/>
<circle cx="440.1" cy="240" r="3.4"/>
<circle cx="443.15" cy="240" r="3.4"/>
<circle cx="446.2" cy="240" r="3.4"/>
<circle cx="449.25" cy="240" r="3.4"/>
<circle cx="452.3" cy="240" r="3.4"/>
<circle cx="437.5" cy="265" r="3.4"/>
<circle cx="440.72" cy="265" r="3.4"/>
<circle cx="443.94" cy="265" r="3.4"/>
<circle cx="447.16" cy="265" r="3.4"/>
<circle cx="450.38" cy="265" r="3.4"/>
<circle cx="453.6" cy="265" r="3.4"/>
<circle cx="442.4" cy="290" r="3.4"/>
<circle cx="446.6" cy="290" r="3.4"/>
<circle cx="444" cy="315" r="3.4"/>
<circle cx="452.7" cy="340" r="3.4"/>
<path d="M653.1 65.9 L653.1 66.65 L653.1 67.4 L653.1 68.15 L653.1 68.9 L653.1 69.65 L653.1 70.4 L653.1 71.15 L653.1 71.9 L653.1 72.65 L653.1 73.4 L653.1 74.15 L653.1 74.9 L653.1 75.65 L653.1 76.4 L653.15 77.15 L653.24 77.9 L653.32 78.65 L653.41 79.4 L653.5 80.15 L653.59 80.9 L653.68 81.65 L653.77 82.4 L653.86 83.15 L653.95 83.9 L654.05 84.65 L654.14 85.4 L654.24 86.15 L654.33 86.9 L654.43 87.65 L654.53 88.4 L654.63 89.15 L654.73 89.9 L654.83 90.65 L654.93 91.4 L655.02 92.15 L655.12 92.9 L655.22 93.65 L655.31 94.4 L655.4 95.15 L655.5 95.9 L655.59 96.65 L655.68 97.4 L655.77 98.15 L655.86 98.9 L655.95 99.65 L656.04 100.4 L656.12 101.15 L656.21 101.9 L656.29 102.65 L656.38 103.4 L656.46 104.15 L656.54 104.9 L656.62 105.65 L656.7 106.4 L656.78 107.15 L656.86 107.9 L656.94 108.65 L657.02 109.4 L657.09 110.15 L657.17 110.9 L657.24 111.65 L657.32 112.4 L657.39 113.15 L657.46 113.9 L657.53 114.65 L657.61 115.4 L657.68 116.15 L657.74 116.9 L657.81 117.65 L657.88 118.4 L657.95 119.15 L658.01 119.9 L658.09 120.65 L658.16 121.4 L658.23 122.15 L658.3 122.9 L658.38 123.65 L658.45 124.4 L658.52 125.15 L658.59 125.9 L658.67 126.65 L658.74 127.4 L658.82 128.15 L658.89 128.9 L658.96 129.65 L659.03 130.4 L659.11 131.15 L659.19 131.9 L659.28 132.65 L659.37 133.4 L659.47 134.15 L659.59 134.9 L659.71 135.65 L659.86 136.4 L660.02 137.15 L660.2 137.9 L660.4 138.65 L660.61 139.4 L660.84 140.15 L661.09 140.9 L661.35 141.65 L661.62 142.4 L661.92 143.15 L662.23 143.9 L662.57 144.65 L662.93 145.4 L663.33 146.15 L663.75 146.9 L664.19 147.65 L664.65 148.4 L665.12 149.15 L665.59 149.9 L666.06 150.65 L666.47 151.4 L666.88 152.15 L667.29 152.9 L667.69 153.65 L668.1 154.4 L668.52 155.15 L668.94 155.9 L669.35 156.65 L669.77 157.4 L670.18 158.15 L670.59 158.9 L670.99 159.65 L671.38 160.4 L671.77 161.15 L672.15 161.9 L672.52 162.65 L672.9 163.4 L673.28 164.15 L673.67 164.9 L674.07 165.65 L674.47 166.4 L674.88 167.15 L675.3 167.9 L675.73 168.65 L676.16 169.4 L676.59 170.15 L677.03 170.9 L677.47 171.65 L677.92 172.4 L678.37 173.15 L678.83 173.9 L679.29 174.65 L679.77 175.4 L680.25 176.15 L680.73 176.9 L681.22 177.65 L681.69 178.4 L682.15 179.15 L682.59 179.9 L683.01 180.65 L683.4 181.4 L683.77 182.15 L684.12 182.9 L684.46 183.65 L684.78 184.4 L685.08 185.15 L685.38 185.9 L685.67 186.65 L685.94 187.4 L686.21 188.15 L686.48 188.9 L686.74 189.65 L686.99 190.4 L687.24 191.15 L687.49 191.9 L687.73 192.65 L687.96 193.4 L688.19 194.15 L688.42 194.9 L688.63 195.65 L688.84 196.4 L689.04 197.15 L689.24 197.9 L689.42 198.65 L689.6 199.4 L689.78 200.15 L689.95 200.9 L690.11 201.65 L690.27 202.4 L690.43 203.15 L690.57 203.9 L690.72 204.65 L690.85 205.4 L690.98 206.15 L691.11 206.9 L691.23 207.65 L691.34 208.4 L691.45 209.15 L691.56 209.9 L691.66 210.65 L691.76 211.4 L691.86 212.15 L691.95 212.9 L692.03 213.65 L692.11 214.4 L692.19 215.15 L692.27 215.9 L692.34 216.65 L692.41 217.4 L692.48 218.15 L692.54 218.9 L692.6 219.65 L692.66 220.4 L692.7 221.15 L692.74 221.9 L692.76 222.65 L692.77 223.4 L692.77 224.15 L692.76 224.9 L692.73 225.65 L692.7 226.4 L692.65 227.15 L692.6 227.9 L692.54 228.65 L692.46 229.4 L692.39 230.15 L692.3 230.9 L692.19 231.65 L692.06 232.4 L691.9 233.15 L691.71 233.9 L691.49 234.65 L691.23 235.4 L690.94 236.15 L690.63 236.9 L690.29 237.65 L689.93 238.4 L689.56 239.15 L689.15 239.9 L688.72 240.65 L688.25 241.4 L687.73 242.15 L687.17 242.9 L686.58 243.65 L685.95 244.4 L685.3 245.15 L684.65 245.9 L683.99 246.65 L683.34 247.4 L682.7 248.15 L682.07 248.9 L681.45 249.65 L680.83 250.4 L680.22 251.15 L679.6 251.9 L678.99 252.65 L678.39 253.4 L677.79 254.15 L677.2 254.9 L676.63 255.65 L676.07 256.4 L675.53 257.15 L675 257.9 L674.48 258.65 L673.98 259.4 L673.49 260.15 L673.01 260.9 L672.53 261.65 L672.06 262.4 L671.59 263.15 L671.11 263.9 L670.64 264.65 L670.16 265.4 L669.68 266.15 L669.19 266.9 L668.7 267.65 L668.21 268.4 L667.73 269.15 L667.25 269.9 L666.78 270.65 L666.32 271.4 L665.85 272.15 L665.36 272.9 L664.89 273.65 L664.43 274.4 L663.99 275.15 L663.57 275.9 L663.16 276.65 L662.75 277.4 L662.37 278.15 L661.99 278.9 L661.62 279.65 L661.27 280.4 L660.93 281.15 L660.6 281.9 L660.28 282.65 L659.97 283.4 L659.67 284.15 L659.38 284.9 L659.09 285.65 L658.82 286.4 L658.55 287.15 L658.28 287.9 L658.03 288.65 L657.81 289.4 L657.59 290.15 L657.38 290.9 L657.17 291.65 L656.97 292.4 L656.77 293.15 L656.57 293.9 L656.38 294.65 L656.2 295.4 L656.02 296.15 L655.85 296.9 L655.69 297.65 L655.53 298.4 L655.38 299.15 L655.24 299.9 L655.1 300.65 L654.97 301.4 L654.84 302.15 L654.71 302.9 L654.6 303.65 L654.49 304.4 L654.4 305.15 L654.31 305.9 L654.23 306.65 L654.16 307.4 L654.1 308.15 L654.05 308.9 L653.99 309.65 L653.95 310.4 L653.9 311.15 L653.86 311.9 L653.82 312.65 L653.79 313.4 L653.75 314.15 L653.71 314.9 L653.68 315.65 L653.64 316.4 L653.61 317.15 L653.57 317.9 L653.54 318.65 L653.51 319.4 L653.48 320.15 L653.46 320.9 L653.44 321.65 L653.42 322.4 L653.41 323.15 L653.41 323.9 L653.4 324.65 L653.4 325.4 L653.4 326.15 L653.4 326.9 L653.4 327.65 L653.4 328.4 L653.4 329.15 L653.4 329.9 L653.4 330.65 L653.4 331.4 L653.39 332.15 L653.38 332.9 L653.37 333.65 L653.36 334.4 L653.34 335.15 L653.32 335.9 L653.3 336.65 L653.28 337.4 L653.26 338.15 L653.24 338.9 L653.22 339.65 L653.2 340.4 L653.19 341.15 L653.18 341.9 L653.17 342.65 L653.16 343.4 L653.15 344.15 L653.15 344.9 L653.14 345.65 L653.13 346.4 L653.12 347.15 L653.11 347.9 L653.1 348.65 L653.1 349.4 L653.1 350.15 L653.1 350.9 L653.1 351.65 L653.1 352.4 L653.1 353.15 L653.1 353.9 L653.1 354.65 L653.1 355.4 L653.1 356.15 L653.1 356.9 L653.1 357.65 L653.1 358.4 L653.1 359.15 L653.1 359.9 L653.1 360.65 L653.1 361.4 L653.1 362.15 L653.1 362.9 L653.1 363.65 L653.1 364.4 L653.1 365.15 L653.1 365.9 L653.1 366.65 L653.1 367.4 L653.1 367.8 L653.1 367.8 L653.1 367.4 L653.1 366.65 L653.1 365.9 L653.1 365.15 L653.1 364.4 L653.1 363.65 L653.1 362.9 L653.1 362.15 L653.1 361.4 L653.1 360.65 L653.1 359.9 L653.1 359.15 L653.1 358.4 L653.1 357.65 L653.1 356.9 L653.1 356.15 L653.1 355.4 L653.1 354.65 L653.1 353.9 L653.1 353.15 L653.1 352.4 L653.1 351.65 L653.1 350.9 L653.1 350.15 L653.1 349.4 L653.1 348.65 L653.09 347.9 L653.08 347.15 L653.07 346.4 L653.06 345.65 L653.05 344.9 L653.05 344.15 L653.04 343.4 L653.03 342.65 L653.02 341.9 L653.01 341.15 L653 340.4 L652.98 339.65 L652.96 338.9 L652.94 338.15 L652.92 337.4 L652.9 336.65 L652.88 335.9 L652.86 335.15 L652.84 334.4 L652.83 333.65 L652.82 332.9 L652.81 332.15 L652.8 331.4 L652.8 330.65 L652.8 329.9 L652.8 329.15 L652.8 328.4 L652.8 327.65 L652.8 326.9 L652.8 326.15 L652.8 325.4 L652.8 324.65 L652.79 323.9 L652.79 323.15 L652.78 322.4 L652.76 321.65 L652.74 320.9 L652.72 320.15 L652.69 319.4 L652.66 318.65 L652.63 317.9 L652.59 317.15 L652.56 316.4 L652.52 315.65 L652.49 314.9 L652.45 314.15 L652.41 313.4 L652.38 312.65 L652.34 311.9 L652.3 311.15 L652.25 310.4 L652.21 309.65 L652.15 308.9 L652.1 308.15 L652.04 307.4 L651.97 306.65 L651.89 305.9 L651.8 305.15 L651.71 304.4 L651.6 303.65 L651.49 302.9 L651.36 302.15 L651.23 301.4 L651.1 300.65 L650.96 299.9 L650.82 299.15 L650.67 298.4 L650.51 297.65 L650.35 296.9 L650.18 296.15 L650 295.4 L649.82 294.65 L649.63 293.9 L649.43 293.15 L649.23 292.4 L649.03 291.65 L648.82 290.9 L648.61 290.15 L648.39 289.4 L648.17 288.65 L647.92 287.9 L647.65 287.15 L647.38 286.4 L647.11 285.65 L646.82 284.9 L646.53 284.15 L646.23 283.4 L645.92 282.65 L645.6 281.9 L645.27 281.15 L644.93 280.4 L644.58 279.65 L644.21 278.9 L643.83 278.15 L643.45 277.4 L643.04 276.65 L642.63 275.9 L642.21 275.15 L641.77 274.4 L641.31 273.65 L640.84 272.9 L640.35 272.15 L639.88 271.4 L639.42 270.65 L638.95 269.9 L638.47 269.15 L637.99 268.4 L637.5 267.65 L637.01 266.9 L636.52 266.15 L636.04 265.4 L635.56 264.65 L635.09 263.9 L634.61 263.15 L634.14 262.4 L633.67 261.65 L633.19 260.9 L632.71 260.15 L632.22 259.4 L631.72 258.65 L631.2 257.9 L630.67 257.15 L630.13 256.4 L629.57 255.65 L629 254.9 L628.41 254.15 L627.81 253.4 L627.21 252.65 L626.6 251.9 L625.98 251.15 L625.37 250.4 L624.75 249.65 L624.13 248.9 L623.5 248.15 L622.86 247.4 L622.21 246.65 L621.55 245.9 L620.9 245.15 L620.25 244.4 L619.62 243.65 L619.03 242.9 L618.47 242.15 L617.95 241.4 L617.48 240.65 L617.05 239.9 L616.64 239.15 L616.27 238.4 L615.91 237.65 L615.57 236.9 L615.26 236.15 L614.97 235.4 L614.71 234.65 L614.49 233.9 L614.3 233.15 L614.14 232.4 L614.01 231.65 L613.9 230.9 L613.81 230.15 L613.74 229.4 L613.66 228.65 L613.6 227.9 L613.55 227.15 L613.5 226.4 L613.47 225.65 L613.44 224.9 L613.43 224.15 L613.43 223.4 L613.44 222.65 L613.46 221.9 L613.5 221.15 L613.54 220.4 L613.6 219.65 L613.66 218.9 L613.72 218.15 L613.79 217.4 L613.86 216.65 L613.93 215.9 L614.01 215.15 L614.09 214.4 L614.17 213.65 L614.25 212.9 L614.34 212.15 L614.44 211.4 L614.54 210.65 L614.64 209.9 L614.75 209.15 L614.86 208.4 L614.97 207.65 L615.09 206.9 L615.22 206.15 L615.35 205.4 L615.48 204.65 L615.63 203.9 L615.77 203.15 L615.93 202.4 L616.09 201.65 L616.25 200.9 L616.42 200.15 L616.6 199.4 L616.78 198.65 L616.96 197.9 L617.16 197.15 L617.36 196.4 L617.57 195.65 L617.78 194.9 L618.01 194.15 L618.24 193.4 L618.47 192.65 L618.71 191.9 L618.96 191.15 L619.21 190.4 L619.46 189.65 L619.72 188.9 L619.99 188.15 L620.26 187.4 L620.53 186.65 L620.82 185.9 L621.12 185.15 L621.42 184.4 L621.74 183.65 L622.08 182.9 L622.43 182.15 L622.8 181.4 L623.19 180.65 L623.61 179.9 L624.05 179.15 L624.51 178.4 L624.98 177.65 L625.47 176.9 L625.95 176.15 L626.43 175.4 L626.91 174.65 L627.37 173.9 L627.83 173.15 L628.28 172.4 L628.73 171.65 L629.17 170.9 L629.61 170.15 L630.04 169.4 L630.47 168.65 L630.9 167.9 L631.32 167.15 L631.73 166.4 L632.13 165.65 L632.53 164.9 L632.92 164.15 L633.3 163.4 L633.68 162.65 L634.05 161.9 L634.43 161.15 L634.82 160.4 L635.21 159.65 L635.61 158.9 L636.02 158.15 L636.43 157.4 L636.85 156.65 L637.26 155.9 L637.68 155.15 L638.1 154.4 L638.51 153.65 L638.91 152.9 L639.32 152.15 L639.73 151.4 L640.14 150.65 L640.61 149.9 L641.08 149.15 L641.55 148.4 L642.01 147.65 L642.45 146.9 L642.87 146.15 L643.27 145.4 L643.63 144.65 L643.97 143.9 L644.28 143.15 L644.58 142.4 L644.85 141.65 L645.11 140.9 L645.36 140.15 L645.59 139.4 L645.8 138.65 L646 137.9 L646.18 137.15 L646.34 136.4 L646.49 135.65 L646.61 134.9 L646.73 134.15 L646.83 133.4 L646.92 132.65 L647.01 131.9 L647.09 131.15 L647.17 130.4 L647.24 129.65 L647.31 128.9 L647.38 128.15 L647.46 127.4 L647.53 126.65 L647.61 125.9 L647.68 125.15 L647.75 124.4 L647.82 123.65 L647.9 122.9 L647.97 122.15 L648.04 121.4 L648.11 120.65 L648.19 119.9 L648.25 119.15 L648.32 118.4 L648.39 117.65 L648.46 116.9 L648.52 116.15 L648.59 115.4 L648.67 114.65 L648.74 113.9 L648.81 113.15 L648.88 112.4 L648.96 111.65 L649.03 110.9 L649.11 110.15 L649.18 109.4 L649.26 108.65 L649.34 107.9 L649.42 107.15 L649.5 106.4 L649.58 105.65 L649.66 104.9 L649.74 104.15 L649.82 103.4 L649.91 102.65 L649.99 101.9 L650.08 101.15 L650.16 100.4 L650.25 99.65 L650.34 98.9 L650.43 98.15 L650.52 97.4 L650.61 96.65 L650.7 95.9 L650.8 95.15 L650.89 94.4 L650.98 93.65 L651.08 92.9 L651.18 92.15 L651.27 91.4 L651.37 90.65 L651.47 89.9 L651.57 89.15 L651.67 88.4 L651.77 87.65 L651.87 86.9 L651.96 86.15 L652.06 85.4 L652.15 84.65 L652.25 83.9 L652.34 83.15 L652.43 82.4 L652.52 81.65 L652.61 80.9 L652.7 80.15 L652.79 79.4 L652.88 78.65 L652.96 77.9 L653.05 77.15 L653.1 76.4 L653.1 75.65 L653.1 74.9 L653.1 74.15 L653.1 73.4 L653.1 72.65 L653.1 71.9 L653.1 71.15 L653.1 70.4 L653.1 69.65 L653.1 68.9 L653.1 68.15 L653.1 67.4 L653.1 66.65 L653.1 65.9 Z" fill="#BEB5E1" stroke="#000" stroke-width="2.2" stroke-linejoin="round"/>
<circle cx="649.2" cy="90" r="3.4"/>
<circle cx="646.1" cy="115" r="3.4"/>
<circle cx="649" cy="115" r="3.4"/>
<circle cx="651.9" cy="115" r="3.4"/>
<circle cx="654.8" cy="115" r="3.4"/>
<circle cx="650.9" cy="140" r="3.4"/>
<circle cx="654.8" cy="140" r="3.4"/>
<circle cx="658.7" cy="140" r="3.4"/>
<circle cx="642.6" cy="165" r="3.4"/>
<circle cx="645.82" cy="165" r="3.4"/>
<circle cx="649.04" cy="165" r="3.4"/>
<circle cx="652.26" cy="165" r="3.4"/>
<circle cx="655.48" cy="165" r="3.4"/>
<circle cx="658.7" cy="165" r="3.4"/>
<circle cx="642.9" cy="190" r="3.4"/>
<circle cx="645.98" cy="190" r="3.4"/>
<circle cx="649.06" cy="190" r="3.4"/>
<circle cx="652.14" cy="190" r="3.4"/>
<circle cx="655.22" cy="190" r="3.4"/>
<circle cx="658.3" cy="190" r="3.4"/>
<circle cx="643.9" cy="215" r="3.4"/>
<circle cx="647.44" cy="215" r="3.4"/>
<circle cx="650.98" cy="215" r="3.4"/>
<circle cx="654.52" cy="215" r="3.4"/>
<circle cx="658.06" cy="215" r="3.4"/>
<circle cx="661.6" cy="215" r="3.4"/>
<circle cx="642.6" cy="240" r="3.4"/>
<circle cx="646.27" cy="240" r="3.4"/>
<circle cx="649.93" cy="240" r="3.4"/>
<circle cx="653.6" cy="240" r="3.4"/>
<circle cx="657.27" cy="240" r="3.4"/>
<circle cx="660.93" cy="240" r="3.4"/>
<circle cx="664.6" cy="240" r="3.4"/>
<circle cx="652.6" cy="265" r="3.4"/>
<circle cx="655.7" cy="265" r="3.4"/>
<circle cx="658.8" cy="265" r="3.4"/>
<circle cx="661.9" cy="265" r="3.4"/>
<circle cx="657.1" cy="290" r="3.4"/>
<circle cx="661.15" cy="290" r="3.4"/>
<circle cx="665.2" cy="290" r="3.4"/>
<circle cx="660.2" cy="340" r="3.4"/>
<line x1="96" y1="14" x2="96" y2="515.3" stroke="#000" stroke-width="2"/>
<line x1="86.2" y1="490" x2="96" y2="490" stroke="#000" stroke-width="2"/>
<line x1="86.2" y1="440" x2="96" y2="440" stroke="#000" stroke-width="2"/>
<line x1="86.2" y1="390" x2="96" y2="390" stroke="#000" stroke-width="2"/>
<line x1="86.2" y1="340" x2="96" y2="340" stroke="#000" stroke-width="2"/>
<line x1="86.2" y1="290" x2="96" y2="290" stroke="#000" stroke-width="2"/>
<line x1="86.2" y1="240" x2="96" y2="240" stroke="#000" stroke-width="2"/>
<line x1="86.2" y1="190" x2="96" y2="190" stroke="#000" stroke-width="2"/>
<line x1="86.2" y1="140" x2="96" y2="140" stroke="#000" stroke-width="2"/>
<line x1="86.2" y1="90" x2="96" y2="90" stroke="#000" stroke-width="2"/>
<line x1="86.2" y1="40" x2="96" y2="40" stroke="#000" stroke-width="2"/>
<line x1="91.2" y1="465" x2="96" y2="465" stroke="#000" stroke-width="2"/>
<line x1="91.2" y1="415" x2="96" y2="415" stroke="#000" stroke-width="2"/>
<line x1="91.2" y1="365" x2="96" y2="365" stroke="#000" stroke-width="2"/>
<line x1="91.2" y1="315" x2="96" y2="315" stroke="#000" stroke-width="2"/>
<line x1="91.2" y1="265" x2="96" y2="265" stroke="#000" stroke-width="2"/>
<line x1="91.2" y1="215" x2="96" y2="215" stroke="#000" stroke-width="2"/>
<line x1="91.2" y1="165" x2="96" y2="165" stroke="#000" stroke-width="2"/>
<line x1="91.2" y1="115" x2="96" y2="115" stroke="#000" stroke-width="2"/>
<line x1="91.2" y1="65" x2="96" y2="65" stroke="#000" stroke-width="2"/>
<line x1="91.2" y1="15" x2="96" y2="15" stroke="#000" stroke-width="2"/>
<text x="78.9" y="496.1" text-anchor="end" font-size="22">4</text>
<text x="78.9" y="446.1" text-anchor="end" font-size="22">6</text>
<text x="78.9" y="396.1" text-anchor="end" font-size="22">8</text>
<text x="78.9" y="346.1" text-anchor="end" font-size="22">10</text>
<text x="78.9" y="296.1" text-anchor="end" font-size="22">12</text>
<text x="78.9" y="246.1" text-anchor="end" font-size="22">14</text>
<text x="78.9" y="196.1" text-anchor="end" font-size="22">16</text>
<text x="78.9" y="146.1" text-anchor="end" font-size="22">18</text>
<text x="78.9" y="96.1" text-anchor="end" font-size="22">20</text>
<text x="78.9" y="46.1" text-anchor="end" font-size="22">22</text>
<line x1="91" y1="514.3" x2="716" y2="514.3" stroke="#000" stroke-width="2"/>
<text x="199.5" y="541.2" text-anchor="middle" font-size="21.2">YouTube</text>
<text x="405.5" y="541.2" text-anchor="middle" font-size="21.2">Bilibili</text>
<text x="612" y="541.2" text-anchor="middle" font-size="21.2">TikTok</text>
<text x="411" y="600.3" text-anchor="middle" font-size="25.5">VIQI-sum</text>
<text x="47.2" y="264.8" text-anchor="middle" font-size="26" transform="rotate(-90 47.2 264.8)">Range</text>
<text x="6.3" y="37.7" text-anchor="start" font-size="46.5" font-weight="bold">A</text>
<line x1="971.7" y1="99.5" x2="971.7" y2="427.5" stroke="#303030" stroke-width="1.6"/>
<line x1="955.7" y1="99.5" x2="987.7" y2="99.5" stroke="#303030" stroke-width="1.7"/>
<line x1="955.7" y1="427.5" x2="987.7" y2="427.5" stroke="#303030" stroke-width="1.7"/>
<line x1="940.2" y1="263.5" x2="1003.2" y2="263.5" stroke="#383838" stroke-width="1.7"/>
<line x1="1175.6" y1="99.5" x2="1175.6" y2="263.5" stroke="#303030" stroke-width="1.6"/>
<line x1="1159.6" y1="99.5" x2="1191.6" y2="99.5" stroke="#303030" stroke-width="1.7"/>
<line x1="1159.6" y1="263.5" x2="1191.6" y2="263.5" stroke="#303030" stroke-width="1.7"/>
<line x1="1144.1" y1="263.5" x2="1207.1" y2="263.5" stroke="#383838" stroke-width="1.7"/>
<line x1="1379.1" y1="181.5" x2="1379.1" y2="345.5" stroke="#303030" stroke-width="1.6"/>
<line x1="1363.1" y1="181.5" x2="1395.1" y2="181.5" stroke="#303030" stroke-width="1.7"/>
<line x1="1363.1" y1="345.5" x2="1395.1" y2="345.5" stroke="#303030" stroke-width="1.7"/>
<line x1="1347.6" y1="263.5" x2="1410.6" y2="263.5" stroke="#383838" stroke-width="1.7"/>
<path d="M1054.1 58.8 L1054.23 59.55 L1054.35 60.3 L1054.46 61.05 L1054.57 61.8 L1054.69 62.55 L1054.8 63.3 L1054.91 64.05 L1055.02 64.8 L1055.13 65.55 L1055.24 66.3 L1055.35 67.05 L1055.45 67.8 L1055.55 68.55 L1055.65 69.3 L1055.75 70.05 L1055.85 70.8 L1055.95 71.55 L1056.05 72.3 L1056.14 73.05 L1056.24 73.8 L1056.33 74.55 L1056.43 75.3 L1056.52 76.05 L1056.61 76.8 L1056.71 77.55 L1056.8 78.3 L1056.89 79.05 L1056.98 79.8 L1057.07 80.55 L1057.16 81.3 L1057.24 82.05 L1057.32 82.8 L1057.4 83.55 L1057.48 84.3 L1057.56 85.05 L1057.63 85.8 L1057.7 86.55 L1057.77 87.3 L1057.84 88.05 L1057.9 88.8 L1057.97 89.55 L1058.03 90.3 L1058.08 91.05 L1058.12 91.8 L1058.16 92.55 L1058.19 93.3 L1058.22 94.05 L1058.25 94.8 L1058.27 95.55 L1058.3 96.3 L1058.31 97.05 L1058.33 97.8 L1058.34 98.55 L1058.35 99.3 L1058.35 100.05 L1058.35 100.8 L1058.35 101.55 L1058.34 102.3 L1058.32 103.05 L1058.3 103.8 L1058.28 104.55 L1058.26 105.3 L1058.23 106.05 L1058.2 106.8 L1058.17 107.55 L1058.13 108.3 L1058.09 109.05 L1058.04 109.8 L1057.99 110.55 L1057.92 111.3 L1057.86 112.05 L1057.79 112.8 L1057.72 113.55 L1057.65 114.3 L1057.58 115.05 L1057.5 115.8 L1057.43 116.55 L1057.35 117.3 L1057.27 118.05 L1057.19 118.8 L1057.1 119.55 L1057.01 120.3 L1056.92 121.05 L1056.84 121.8 L1056.77 122.55 L1056.71 123.3 L1056.67 124.05 L1056.64 124.8 L1056.62 125.55 L1056.61 126.3 L1056.6 127.05 L1056.6 127.8 L1056.6 128.55 L1056.6 129.3 L1056.6 130.05 L1056.6 130.8 L1056.6 131.55 L1056.6 132.3 L1056.61 133.05 L1056.62 133.8 L1056.64 134.55 L1056.66 135.3 L1056.7 136.05 L1056.75 136.8 L1056.8 137.55 L1056.86 138.3 L1056.93 139.05 L1057 139.8 L1057.07 140.55 L1057.14 141.3 L1057.21 142.05 L1057.28 142.8 L1057.36 143.55 L1057.44 144.3 L1057.53 145.05 L1057.61 145.8 L1057.7 146.55 L1057.78 147.3 L1057.86 148.05 L1057.95 148.8 L1058.03 149.55 L1058.1 150.3 L1058.17 151.05 L1058.23 151.8 L1058.29 152.55 L1058.34 153.3 L1058.39 154.05 L1058.44 154.8 L1058.5 155.55 L1058.57 156.3 L1058.65 157.05 L1058.73 157.8 L1058.83 158.55 L1058.94 159.3 L1059.06 160.05 L1059.18 160.8 L1059.31 161.55 L1059.44 162.3 L1059.58 163.05 L1059.72 163.8 L1059.87 164.55 L1060.02 165.3 L1060.17 166.05 L1060.33 166.8 L1060.49 167.55 L1060.64 168.3 L1060.79 169.05 L1060.93 169.8 L1061.06 170.55 L1061.18 171.3 L1061.29 172.05 L1061.4 172.8 L1061.5 173.55 L1061.59 174.3 L1061.68 175.05 L1061.77 175.8 L1061.84 176.55 L1061.91 177.3 L1061.96 178.05 L1062 178.8 L1062.03 179.55 L1062.04 180.3 L1062.03 181.05 L1062.02 181.8 L1062 182.55 L1061.97 183.3 L1061.93 184.05 L1061.9 184.8 L1061.86 185.55 L1061.82 186.3 L1061.79 187.05 L1061.75 187.8 L1061.72 188.55 L1061.69 189.3 L1061.66 190.05 L1061.64 190.8 L1061.61 191.55 L1061.58 192.3 L1061.56 193.05 L1061.54 193.8 L1061.52 194.55 L1061.51 195.3 L1061.5 196.05 L1061.49 196.8 L1061.49 197.55 L1061.49 198.3 L1061.49 199.05 L1061.49 199.8 L1061.49 200.55 L1061.49 201.3 L1061.49 202.05 L1061.49 202.8 L1061.49 203.55 L1061.5 204.3 L1061.52 205.05 L1061.55 205.8 L1061.6 206.55 L1061.67 207.3 L1061.77 208.05 L1061.89 208.8 L1062.03 209.55 L1062.19 210.3 L1062.36 211.05 L1062.54 211.8 L1062.74 212.55 L1062.94 213.3 L1063.16 214.05 L1063.4 214.8 L1063.67 215.55 L1063.96 216.3 L1064.27 217.05 L1064.61 217.8 L1064.98 218.55 L1065.37 219.3 L1065.77 220.05 L1066.18 220.8 L1066.57 221.55 L1067 222.3 L1067.46 223.05 L1067.95 223.8 L1068.48 224.55 L1069.04 225.3 L1069.62 226.05 L1070.22 226.8 L1070.82 227.55 L1071.42 228.3 L1072.01 229.05 L1072.59 229.8 L1073.15 230.55 L1073.69 231.3 L1074.23 232.05 L1074.75 232.8 L1075.28 233.55 L1075.79 234.3 L1076.31 235.05 L1076.83 235.8 L1077.35 236.55 L1077.88 237.3 L1078.42 238.05 L1078.96 238.8 L1079.52 239.55 L1080.09 240.3 L1080.68 241.05 L1081.28 241.8 L1081.88 242.55 L1082.49 243.3 L1083.1 244.05 L1083.69 244.8 L1084.27 245.55 L1084.84 246.3 L1085.38 247.05 L1085.9 247.8 L1086.41 248.55 L1086.9 249.3 L1087.38 250.05 L1087.85 250.8 L1088.31 251.55 L1088.75 252.3 L1089.17 253.05 L1089.55 253.8 L1089.89 254.55 L1090.19 255.3 L1090.44 256.05 L1090.66 256.8 L1090.84 257.55 L1091 258.3 L1091.14 259.05 L1091.27 259.8 L1091.39 260.55 L1091.5 261.3 L1091.58 262.05 L1091.65 262.8 L1091.7 263.55 L1091.73 264.3 L1091.72 265.05 L1091.68 265.8 L1091.6 266.55 L1091.47 267.3 L1091.3 268.05 L1091.1 268.8 L1090.86 269.55 L1090.59 270.3 L1090.31 271.05 L1090 271.8 L1089.68 272.55 L1089.32 273.3 L1088.94 274.05 L1088.51 274.8 L1088.04 275.55 L1087.52 276.3 L1086.96 277.05 L1086.36 277.8 L1085.75 278.55 L1085.12 279.3 L1084.48 280.05 L1083.85 280.8 L1083.22 281.55 L1082.59 282.3 L1081.97 283.05 L1081.34 283.8 L1080.71 284.55 L1080.07 285.3 L1079.43 286.05 L1078.78 286.8 L1078.14 287.55 L1077.5 288.3 L1076.87 289.05 L1076.24 289.8 L1075.62 290.55 L1074.99 291.3 L1074.38 292.05 L1073.76 292.8 L1073.14 293.55 L1072.54 294.3 L1071.93 295.05 L1071.34 295.8 L1070.76 296.55 L1070.18 297.3 L1069.62 298.05 L1069.06 298.8 L1068.51 299.55 L1067.96 300.3 L1067.42 301.05 L1066.88 301.8 L1066.36 302.55 L1065.83 303.3 L1065.28 304.05 L1064.76 304.8 L1064.29 305.55 L1063.85 306.3 L1063.45 307.05 L1063.09 307.8 L1062.75 308.55 L1062.44 309.3 L1062.15 310.05 L1061.87 310.8 L1061.62 311.55 L1061.38 312.3 L1061.15 313.05 L1060.95 313.8 L1060.76 314.55 L1060.58 315.3 L1060.42 316.05 L1060.27 316.8 L1060.12 317.55 L1059.99 318.3 L1059.86 319.05 L1059.74 319.8 L1059.63 320.55 L1059.53 321.3 L1059.45 322.05 L1059.37 322.8 L1059.31 323.55 L1059.25 324.3 L1059.2 325.05 L1059.16 325.8 L1059.12 326.55 L1059.08 327.3 L1059.04 328.05 L1059.02 328.8 L1058.99 329.55 L1058.97 330.3 L1058.96 331.05 L1058.95 331.8 L1058.95 332.55 L1058.94 333.3 L1058.94 334.05 L1058.94 334.8 L1058.94 335.55 L1058.94 336.3 L1058.94 337.05 L1058.94 337.8 L1058.94 338.55 L1058.94 339.3 L1058.95 340.05 L1058.96 340.8 L1058.97 341.55 L1058.99 342.3 L1059.02 343.05 L1059.05 343.8 L1059.08 344.55 L1059.12 345.3 L1059.15 346.05 L1059.19 346.8 L1059.21 347.55 L1059.24 348.3 L1059.25 349.05 L1059.26 349.8 L1059.25 350.55 L1059.22 351.3 L1059.17 352.05 L1059.1 352.8 L1059.01 353.55 L1058.91 354.3 L1058.79 355.05 L1058.67 355.8 L1058.53 356.55 L1058.39 357.3 L1058.25 358.05 L1058.1 358.8 L1057.96 359.55 L1057.83 360.3 L1057.71 361.05 L1057.59 361.8 L1057.46 362.55 L1057.33 363.3 L1057.19 364.05 L1057.06 364.8 L1056.92 365.55 L1056.78 366.3 L1056.64 367.05 L1056.51 367.8 L1056.37 368.55 L1056.25 369.3 L1056.13 370.05 L1056.01 370.8 L1055.89 371.55 L1055.78 372.3 L1055.67 373.05 L1055.57 373.8 L1055.46 374.55 L1055.36 375.3 L1055.26 376.05 L1055.16 376.8 L1055.07 377.55 L1054.98 378.3 L1054.9 379.05 L1054.83 379.8 L1054.76 380.55 L1054.69 381.3 L1054.63 382.05 L1054.57 382.8 L1054.51 383.55 L1054.46 384.3 L1054.4 385.05 L1054.35 385.8 L1054.3 386.55 L1054.26 387.3 L1054.22 388.05 L1054.19 388.8 L1054.16 389.55 L1054.13 390.3 L1054.11 391.05 L1054.1 391.8 L1054.08 392.55 L1054.07 393.3 L1054.06 394.05 L1054.05 394.8 L1054.04 395.55 L1054.03 396.3 L1054.02 397.05 L1054.02 397.8 L1054.01 398.55 L1054.01 399.3 L1054.01 400.05 L1054 400.8 L1054 401.55 L1054 402.3 L1054 403.05 L1054 403.8 L1054 404.55 L1054 405.3 L1054 406.05 L1054 406.8 L1054 407.55 L1054 408.3 L1054 409.05 L1054 409.8 L1054 410.55 L1054 411.3 L1054 412.05 L1054 412.8 L1053.99 413.55 L1053.99 414.3 L1053.98 415.05 L1053.98 415.8 L1053.97 416.55 L1053.96 417.3 L1053.95 418.05 L1053.94 418.8 L1053.93 419.55 L1053.92 420.3 L1053.91 421.05 L1053.9 421.8 L1053.89 422.55 L1053.88 423.3 L1053.87 424.05 L1053.86 424.8 L1053.84 425.55 L1053.83 426.3 L1053.82 427.05 L1053.8 427.8 L1053.79 428.55 L1053.77 429.3 L1053.75 430.05 L1053.74 430.8 L1053.72 431.55 L1053.7 432.3 L1053.68 433.05 L1053.67 433.8 L1053.65 434.55 L1053.63 435.3 L1053.61 436.05 L1053.59 436.8 L1053.57 437.55 L1053.54 438.3 L1053.52 439.05 L1053.5 439.8 L1053.47 440.55 L1053.45 441.3 L1053.42 442.05 L1053.39 442.8 L1053.36 443.55 L1053.33 444.3 L1053.3 445.05 L1053.27 445.8 L1053.23 446.55 L1053.2 447.3 L1053.16 448.05 L1053.12 448.8 L1053.08 449.55 L1053.04 450.3 L1053 451.05 L1053 451.8 L1053 452.55 L1053 453.3 L1053 454.05 L1053 454.8 L1053 455.55 L1053 456.3 L1053 457.05 L1053 457.8 L1053 458.55 L1053 459.3 L1053 460.05 L1053 460.8 L1053 461.55 L1053 462.3 L1053 463.05 L1053 463.8 L1053 464.55 L1053 465.3 L1053 466.05 L1053 466.8 L1053 467.55 L1053 468.3 L1053 468.4 L1053 468.4 L1053 468.3 L1053 467.55 L1053 466.8 L1053 466.05 L1053 465.3 L1053 464.55 L1053 463.8 L1053 463.05 L1053 462.3 L1053 461.55 L1053 460.8 L1053 460.05 L1053 459.3 L1053 458.55 L1053 457.8 L1053 457.05 L1053 456.3 L1053 455.55 L1053 454.8 L1053 454.05 L1053 453.3 L1053 452.55 L1053 451.8 L1053 451.05 L1052.96 450.3 L1052.92 449.55 L1052.88 448.8 L1052.84 448.05 L1052.8 447.3 L1052.77 446.55 L1052.73 445.8 L1052.7 445.05 L1052.67 444.3 L1052.64 443.55 L1052.61 442.8 L1052.58 442.05 L1052.55 441.3 L1052.53 440.55 L1052.5 439.8 L1052.48 439.05 L1052.46 438.3 L1052.43 437.55 L1052.41 436.8 L1052.39 436.05 L1052.37 435.3 L1052.35 434.55 L1052.33 433.8 L1052.32 433.05 L1052.3 432.3 L1052.28 431.55 L1052.26 430.8 L1052.25 430.05 L1052.23 429.3 L1052.21 428.55 L1052.2 427.8 L1052.18 427.05 L1052.17 426.3 L1052.16 425.55 L1052.14 424.8 L1052.13 424.05 L1052.12 423.3 L1052.11 422.55 L1052.1 421.8 L1052.09 421.05 L1052.08 420.3 L1052.07 419.55 L1052.06 418.8 L1052.05 418.05 L1052.04 417.3 L1052.03 416.55 L1052.02 415.8 L1052.02 415.05 L1052.01 414.3 L1052.01 413.55 L1052 412.8 L1052 412.05 L1052 411.3 L1052 410.55 L1052 409.8 L1052 409.05 L1052 408.3 L1052 407.55 L1052 406.8 L1052 406.05 L1052 405.3 L1052 404.55 L1052 403.8 L1052 403.05 L1052 402.3 L1052 401.55 L1052 400.8 L1051.99 400.05 L1051.99 399.3 L1051.99 398.55 L1051.98 397.8 L1051.98 397.05 L1051.97 396.3 L1051.96 395.55 L1051.95 394.8 L1051.94 394.05 L1051.93 393.3 L1051.92 392.55 L1051.9 391.8 L1051.89 391.05 L1051.87 390.3 L1051.84 389.55 L1051.81 388.8 L1051.78 388.05 L1051.74 387.3 L1051.7 386.55 L1051.65 385.8 L1051.6 385.05 L1051.54 384.3 L1051.49 383.55 L1051.43 382.8 L1051.37 382.05 L1051.31 381.3 L1051.24 380.55 L1051.17 379.8 L1051.1 379.05 L1051.02 378.3 L1050.93 377.55 L1050.84 376.8 L1050.74 376.05 L1050.64 375.3 L1050.54 374.55 L1050.43 373.8 L1050.33 373.05 L1050.22 372.3 L1050.11 371.55 L1049.99 370.8 L1049.87 370.05 L1049.75 369.3 L1049.63 368.55 L1049.49 367.8 L1049.36 367.05 L1049.22 366.3 L1049.08 365.55 L1048.94 364.8 L1048.81 364.05 L1048.67 363.3 L1048.54 362.55 L1048.41 361.8 L1048.29 361.05 L1048.17 360.3 L1048.04 359.55 L1047.9 358.8 L1047.75 358.05 L1047.61 357.3 L1047.47 356.55 L1047.33 355.8 L1047.21 355.05 L1047.09 354.3 L1046.99 353.55 L1046.9 352.8 L1046.83 352.05 L1046.78 351.3 L1046.75 350.55 L1046.74 349.8 L1046.75 349.05 L1046.76 348.3 L1046.79 347.55 L1046.81 346.8 L1046.85 346.05 L1046.88 345.3 L1046.92 344.55 L1046.95 343.8 L1046.98 343.05 L1047.01 342.3 L1047.03 341.55 L1047.04 340.8 L1047.05 340.05 L1047.06 339.3 L1047.06 338.55 L1047.06 337.8 L1047.06 337.05 L1047.06 336.3 L1047.06 335.55 L1047.06 334.8 L1047.06 334.05 L1047.06 333.3 L1047.05 332.55 L1047.05 331.8 L1047.04 331.05 L1047.03 330.3 L1047.01 329.55 L1046.98 328.8 L1046.96 328.05 L1046.92 327.3 L1046.88 326.55 L1046.84 325.8 L1046.8 325.05 L1046.75 324.3 L1046.69 323.55 L1046.63 322.8 L1046.55 322.05 L1046.47 321.3 L1046.37 320.55 L1046.26 319.8 L1046.14 319.05 L1046.01 318.3 L1045.88 317.55 L1045.73 316.8 L1045.58 316.05 L1045.42 315.3 L1045.24 314.55 L1045.05 313.8 L1044.85 313.05 L1044.62 312.3 L1044.38 311.55 L1044.13 310.8 L1043.85 310.05 L1043.56 309.3 L1043.25 308.55 L1042.91 307.8 L1042.55 307.05 L1042.15 306.3 L1041.71 305.55 L1041.24 304.8 L1040.72 304.05 L1040.17 303.3 L1039.64 302.55 L1039.12 301.8 L1038.58 301.05 L1038.04 300.3 L1037.49 299.55 L1036.94 298.8 L1036.38 298.05 L1035.82 297.3 L1035.24 296.55 L1034.66 295.8 L1034.07 295.05 L1033.46 294.3 L1032.86 293.55 L1032.24 292.8 L1031.62 292.05 L1031.01 291.3 L1030.38 290.55 L1029.76 289.8 L1029.13 289.05 L1028.5 288.3 L1027.86 287.55 L1027.22 286.8 L1026.57 286.05 L1025.93 285.3 L1025.29 284.55 L1024.66 283.8 L1024.03 283.05 L1023.41 282.3 L1022.78 281.55 L1022.15 280.8 L1021.52 280.05 L1020.88 279.3 L1020.25 278.55 L1019.64 277.8 L1019.04 277.05 L1018.48 276.3 L1017.96 275.55 L1017.49 274.8 L1017.06 274.05 L1016.68 273.3 L1016.32 272.55 L1016 271.8 L1015.69 271.05 L1015.41 270.3 L1015.14 269.55 L1014.9 268.8 L1014.7 268.05 L1014.53 267.3 L1014.4 266.55 L1014.32 265.8 L1014.28 265.05 L1014.27 264.3 L1014.3 263.55 L1014.35 262.8 L1014.42 262.05 L1014.5 261.3 L1014.61 260.55 L1014.73 259.8 L1014.86 259.05 L1015 258.3 L1015.16 257.55 L1015.34 256.8 L1015.56 256.05 L1015.81 255.3 L1016.11 254.55 L1016.45 253.8 L1016.83 253.05 L1017.25 252.3 L1017.69 251.55 L1018.15 250.8 L1018.62 250.05 L1019.1 249.3 L1019.59 248.55 L1020.1 247.8 L1020.62 247.05 L1021.16 246.3 L1021.73 245.55 L1022.31 244.8 L1022.9 244.05 L1023.51 243.3 L1024.12 242.55 L1024.72 241.8 L1025.32 241.05 L1025.91 240.3 L1026.48 239.55 L1027.04 238.8 L1027.58 238.05 L1028.12 237.3 L1028.65 236.55 L1029.17 235.8 L1029.69 235.05 L1030.21 234.3 L1030.72 233.55 L1031.25 232.8 L1031.77 232.05 L1032.31 231.3 L1032.85 230.55 L1033.41 229.8 L1033.99 229.05 L1034.58 228.3 L1035.18 227.55 L1035.78 226.8 L1036.38 226.05 L1036.96 225.3 L1037.52 224.55 L1038.05 223.8 L1038.54 223.05 L1039 222.3 L1039.43 221.55 L1039.82 220.8 L1040.23 220.05 L1040.63 219.3 L1041.02 218.55 L1041.39 217.8 L1041.73 217.05 L1042.04 216.3 L1042.33 215.55 L1042.6 214.8 L1042.84 214.05 L1043.06 213.3 L1043.26 212.55 L1043.46 211.8 L1043.64 211.05 L1043.81 210.3 L1043.97 209.55 L1044.11 208.8 L1044.23 208.05 L1044.33 207.3 L1044.4 206.55 L1044.45 205.8 L1044.48 205.05 L1044.5 204.3 L1044.51 203.55 L1044.51 202.8 L1044.51 202.05 L1044.51 201.3 L1044.51 200.55 L1044.51 199.8 L1044.51 199.05 L1044.51 198.3 L1044.51 197.55 L1044.51 196.8 L1044.5 196.05 L1044.49 195.3 L1044.48 194.55 L1044.46 193.8 L1044.44 193.05 L1044.42 192.3 L1044.39 191.55 L1044.36 190.8 L1044.34 190.05 L1044.31 189.3 L1044.28 188.55 L1044.25 187.8 L1044.21 187.05 L1044.18 186.3 L1044.14 185.55 L1044.1 184.8 L1044.07 184.05 L1044.03 183.3 L1044 182.55 L1043.98 181.8 L1043.97 181.05 L1043.96 180.3 L1043.97 179.55 L1044 178.8 L1044.04 178.05 L1044.09 177.3 L1044.16 176.55 L1044.23 175.8 L1044.32 175.05 L1044.41 174.3 L1044.5 173.55 L1044.6 172.8 L1044.71 172.05 L1044.82 171.3 L1044.94 170.55 L1045.07 169.8 L1045.21 169.05 L1045.36 168.3 L1045.51 167.55 L1045.67 166.8 L1045.83 166.05 L1045.98 165.3 L1046.13 164.55 L1046.28 163.8 L1046.42 163.05 L1046.56 162.3 L1046.69 161.55 L1046.82 160.8 L1046.94 160.05 L1047.06 159.3 L1047.17 158.55 L1047.27 157.8 L1047.35 157.05 L1047.43 156.3 L1047.5 155.55 L1047.56 154.8 L1047.61 154.05 L1047.66 153.3 L1047.71 152.55 L1047.77 151.8 L1047.83 151.05 L1047.9 150.3 L1047.97 149.55 L1048.05 148.8 L1048.14 148.05 L1048.22 147.3 L1048.3 146.55 L1048.39 145.8 L1048.47 145.05 L1048.56 144.3 L1048.64 143.55 L1048.72 142.8 L1048.79 142.05 L1048.86 141.3 L1048.93 140.55 L1049 139.8 L1049.07 139.05 L1049.14 138.3 L1049.2 137.55 L1049.25 136.8 L1049.3 136.05 L1049.34 135.3 L1049.36 134.55 L1049.38 133.8 L1049.39 133.05 L1049.4 132.3 L1049.4 131.55 L1049.4 130.8 L1049.4 130.05 L1049.4 129.3 L1049.4 128.55 L1049.4 127.8 L1049.4 127.05 L1049.39 126.3 L1049.38 125.55 L1049.36 124.8 L1049.33 124.05 L1049.29 123.3 L1049.23 122.55 L1049.16 121.8 L1049.08 121.05 L1048.99 120.3 L1048.9 119.55 L1048.81 118.8 L1048.73 118.05 L1048.65 117.3 L1048.57 116.55 L1048.5 115.8 L1048.42 115.05 L1048.35 114.3 L1048.28 113.55 L1048.21 112.8 L1048.14 112.05 L1048.08 111.3 L1048.01 110.55 L1047.96 109.8 L1047.91 109.05 L1047.87 108.3 L1047.83 107.55 L1047.8 106.8 L1047.77 106.05 L1047.74 105.3 L1047.72 104.55 L1047.7 103.8 L1047.68 103.05 L1047.66 102.3 L1047.65 101.55 L1047.65 100.8 L1047.65 100.05 L1047.65 99.3 L1047.66 98.55 L1047.67 97.8 L1047.69 97.05 L1047.7 96.3 L1047.73 95.55 L1047.75 94.8 L1047.78 94.05 L1047.81 93.3 L1047.84 92.55 L1047.88 91.8 L1047.92 91.05 L1047.97 90.3 L1048.03 89.55 L1048.1 88.8 L1048.16 88.05 L1048.23 87.3 L1048.3 86.55 L1048.37 85.8 L1048.44 85.05 L1048.52 84.3 L1048.6 83.55 L1048.68 82.8 L1048.76 82.05 L1048.84 81.3 L1048.93 80.55 L1049.02 79.8 L1049.11 79.05 L1049.2 78.3 L1049.29 77.55 L1049.39 76.8 L1049.48 76.05 L1049.57 75.3 L1049.67 74.55 L1049.76 73.8 L1049.86 73.05 L1049.95 72.3 L1050.05 71.55 L1050.15 70.8 L1050.25 70.05 L1050.35 69.3 L1050.45 68.55 L1050.55 67.8 L1050.65 67.05 L1050.76 66.3 L1050.87 65.55 L1050.98 64.8 L1051.09 64.05 L1051.2 63.3 L1051.31 62.55 L1051.43 61.8 L1051.54 61.05 L1051.65 60.3 L1051.77 59.55 L1051.9 58.8 Z" fill="#E3726E" stroke="#000" stroke-width="2.2" stroke-linejoin="round"/>
<circle cx="1045.5" cy="99" r="3.4"/>
<circle cx="1048.94" cy="99" r="3.4"/>
<circle cx="1052.38" cy="99" r="3.4"/>
<circle cx="1055.82" cy="99" r="3.4"/>
<circle cx="1059.26" cy="99" r="3.4"/>
<circle cx="1062.7" cy="99" r="3.4"/>
<circle cx="1047.1" cy="181" r="3.4"/>
<circle cx="1050.33" cy="181" r="3.4"/>
<circle cx="1053.57" cy="181" r="3.4"/>
<circle cx="1056.8" cy="181" r="3.4"/>
<circle cx="1041.8" cy="263" r="3.4"/>
<circle cx="1045.13" cy="263" r="3.4"/>
<circle cx="1048.45" cy="263" r="3.4"/>
<circle cx="1051.78" cy="263" r="3.4"/>
<circle cx="1055.1" cy="263" r="3.4"/>
<circle cx="1058.42" cy="263" r="3.4"/>
<circle cx="1061.75" cy="263" r="3.4"/>
<circle cx="1065.07" cy="263" r="3.4"/>
<circle cx="1068.4" cy="263" r="3.4"/>
<circle cx="1046.6" cy="345" r="3.4"/>
<circle cx="1049.7" cy="345" r="3.4"/>
<circle cx="1052.8" cy="345" r="3.4"/>
<circle cx="1055.9" cy="345" r="3.4"/>
<circle cx="1059" cy="345" r="3.4"/>
<circle cx="1062.1" cy="345" r="3.4"/>
<circle cx="1053.4" cy="427" r="3.4"/>
<circle cx="1057.8" cy="427" r="3.4"/>
<path d="M1257 78.3 L1257 79.05 L1257 79.8 L1257 80.55 L1257 81.3 L1257 82.05 L1257 82.8 L1257 83.55 L1257 84.3 L1257 85.05 L1257 85.8 L1257 86.55 L1257 87.3 L1257 88.05 L1257 88.8 L1257 89.55 L1257 90.3 L1257 91.05 L1257 91.8 L1257 92.55 L1257 93.3 L1257 94.05 L1257 94.8 L1257 95.55 L1257 96.3 L1257 97.05 L1257 97.8 L1257 98.55 L1257 99.3 L1257 100.05 L1257 100.8 L1257 101.55 L1257 102.3 L1257 103.05 L1257 103.8 L1257 104.55 L1257 105.3 L1257 106.05 L1257 106.8 L1257 107.55 L1257 108.3 L1257 109.05 L1257 109.8 L1257 110.55 L1257 111.3 L1257 112.05 L1257 112.8 L1257 113.55 L1257 114.3 L1257 115.05 L1257 115.8 L1257 116.55 L1257 117.3 L1257 118.05 L1257 118.8 L1257 119.55 L1257 120.3 L1257 121.05 L1257 121.8 L1257 122.55 L1257 123.3 L1257 124.05 L1257 124.8 L1257 125.55 L1257 126.3 L1257 127.05 L1257 127.8 L1257 128.55 L1257 129.3 L1257 130.05 L1257 130.8 L1257 131.55 L1257 132.3 L1257 133.05 L1257 133.8 L1257 134.55 L1257 135.3 L1257 136.05 L1257 136.8 L1257 137.55 L1257 138.3 L1257 139.05 L1257.01 139.8 L1257.03 140.55 L1257.05 141.3 L1257.08 142.05 L1257.12 142.8 L1257.16 143.55 L1257.21 144.3 L1257.27 145.05 L1257.32 145.8 L1257.38 146.55 L1257.43 147.3 L1257.49 148.05 L1257.54 148.8 L1257.6 149.55 L1257.66 150.3 L1257.73 151.05 L1257.8 151.8 L1257.89 152.55 L1257.99 153.3 L1258.1 154.05 L1258.24 154.8 L1258.41 155.55 L1258.59 156.3 L1258.8 157.05 L1259.01 157.8 L1259.23 158.55 L1259.45 159.3 L1259.66 160.05 L1259.87 160.8 L1260.08 161.55 L1260.28 162.3 L1260.48 163.05 L1260.68 163.8 L1260.88 164.55 L1261.07 165.3 L1261.26 166.05 L1261.45 166.8 L1261.63 167.55 L1261.81 168.3 L1262 169.05 L1262.2 169.8 L1262.4 170.55 L1262.58 171.3 L1262.75 172.05 L1262.9 172.8 L1263.04 173.55 L1263.16 174.3 L1263.26 175.05 L1263.36 175.8 L1263.44 176.55 L1263.52 177.3 L1263.58 178.05 L1263.64 178.8 L1263.68 179.55 L1263.71 180.3 L1263.71 181.05 L1263.71 181.8 L1263.68 182.55 L1263.64 183.3 L1263.59 184.05 L1263.52 184.8 L1263.44 185.55 L1263.36 186.3 L1263.26 187.05 L1263.16 187.8 L1263.04 188.55 L1262.9 189.3 L1262.74 190.05 L1262.56 190.8 L1262.37 191.55 L1262.17 192.3 L1261.95 193.05 L1261.75 193.8 L1261.55 194.55 L1261.34 195.3 L1261.13 196.05 L1260.9 196.8 L1260.67 197.55 L1260.43 198.3 L1260.19 199.05 L1259.96 199.8 L1259.72 200.55 L1259.5 201.3 L1259.27 202.05 L1259.05 202.8 L1258.84 203.55 L1258.63 204.3 L1258.42 205.05 L1258.24 205.8 L1258.07 206.55 L1257.92 207.3 L1257.79 208.05 L1257.68 208.8 L1257.59 209.55 L1257.51 210.3 L1257.44 211.05 L1257.38 211.8 L1257.32 212.55 L1257.28 213.3 L1257.25 214.05 L1257.23 214.8 L1257.22 215.55 L1257.21 216.3 L1257.21 217.05 L1257.22 217.8 L1257.23 218.55 L1257.24 219.3 L1257.26 220.05 L1257.28 220.8 L1257.3 221.55 L1257.33 222.3 L1257.37 223.05 L1257.43 223.8 L1257.49 224.55 L1257.57 225.3 L1257.66 226.05 L1257.75 226.8 L1257.86 227.55 L1257.98 228.3 L1258.11 229.05 L1258.26 229.8 L1258.43 230.55 L1258.63 231.3 L1258.87 232.05 L1259.15 232.8 L1259.47 233.55 L1259.85 234.3 L1260.27 235.05 L1260.73 235.8 L1261.24 236.55 L1261.79 237.3 L1262.46 238.05 L1263.21 238.8 L1264.03 239.55 L1264.94 240.3 L1265.93 241.05 L1266.99 241.8 L1268.09 242.55 L1269.22 243.3 L1270.3 244.05 L1271.28 244.8 L1272.23 245.55 L1273.18 246.3 L1274.13 247.05 L1275.06 247.8 L1275.99 248.55 L1276.9 249.3 L1277.79 250.05 L1278.64 250.8 L1279.46 251.55 L1280.24 252.3 L1280.99 253.05 L1281.71 253.8 L1282.4 254.55 L1283.07 255.3 L1283.69 256.05 L1284.26 256.8 L1284.78 257.55 L1285.23 258.3 L1285.62 259.05 L1285.95 259.8 L1286.23 260.55 L1286.45 261.3 L1286.61 262.05 L1286.71 262.8 L1286.73 263.55 L1286.67 264.3 L1286.54 265.05 L1286.35 265.8 L1286.1 266.55 L1285.8 267.3 L1285.46 268.05 L1285.07 268.8 L1284.62 269.55 L1284.1 270.3 L1283.49 271.05 L1282.8 271.8 L1282.03 272.55 L1281.2 273.3 L1280.32 274.05 L1279.42 274.8 L1278.5 275.55 L1277.58 276.3 L1276.64 277.05 L1275.68 277.8 L1274.71 278.55 L1273.72 279.3 L1272.73 280.05 L1271.74 280.8 L1270.78 281.55 L1269.82 282.3 L1268.77 283.05 L1267.75 283.8 L1266.76 284.55 L1265.79 285.3 L1264.86 286.05 L1263.96 286.8 L1263.11 287.55 L1262.31 288.3 L1261.62 289.05 L1261.04 289.8 L1260.5 290.55 L1260 291.3 L1259.54 292.05 L1259.1 292.8 L1258.71 293.55 L1258.35 294.3 L1258.04 295.05 L1257.78 295.8 L1257.57 296.55 L1257.41 297.3 L1257.28 298.05 L1257.18 298.8 L1257.09 299.55 L1257.02 300.3 L1257 301.05 L1257 301.8 L1257 302.55 L1257 303.3 L1257 304.05 L1257 304.8 L1257 305.55 L1257 306.3 L1257 307.05 L1257 307.8 L1257 308.55 L1257 309 L1257 309 L1257 308.55 L1257 307.8 L1257 307.05 L1257 306.3 L1257 305.55 L1257 304.8 L1257 304.05 L1257 303.3 L1257 302.55 L1257 301.8 L1257 301.05 L1256.98 300.3 L1256.91 299.55 L1256.82 298.8 L1256.72 298.05 L1256.59 297.3 L1256.43 296.55 L1256.22 295.8 L1255.96 295.05 L1255.65 294.3 L1255.29 293.55 L1254.9 292.8 L1254.46 292.05 L1254 291.3 L1253.5 290.55 L1252.96 289.8 L1252.38 289.05 L1251.69 288.3 L1250.89 287.55 L1250.04 286.8 L1249.14 286.05 L1248.21 285.3 L1247.24 284.55 L1246.25 283.8 L1245.23 283.05 L1244.18 282.3 L1243.22 281.55 L1242.26 280.8 L1241.27 280.05 L1240.28 279.3 L1239.29 278.55 L1238.32 277.8 L1237.36 277.05 L1236.42 276.3 L1235.5 275.55 L1234.58 274.8 L1233.68 274.05 L1232.8 273.3 L1231.97 272.55 L1231.2 271.8 L1230.51 271.05 L1229.9 270.3 L1229.38 269.55 L1228.93 268.8 L1228.54 268.05 L1228.2 267.3 L1227.9 266.55 L1227.65 265.8 L1227.46 265.05 L1227.33 264.3 L1227.27 263.55 L1227.29 262.8 L1227.39 262.05 L1227.55 261.3 L1227.77 260.55 L1228.05 259.8 L1228.38 259.05 L1228.77 258.3 L1229.22 257.55 L1229.74 256.8 L1230.31 256.05 L1230.93 255.3 L1231.6 254.55 L1232.29 253.8 L1233.01 253.05 L1233.76 252.3 L1234.54 251.55 L1235.36 250.8 L1236.21 250.05 L1237.1 249.3 L1238.01 248.55 L1238.94 247.8 L1239.87 247.05 L1240.82 246.3 L1241.77 245.55 L1242.72 244.8 L1243.7 244.05 L1244.78 243.3 L1245.91 242.55 L1247.01 241.8 L1248.07 241.05 L1249.06 240.3 L1249.97 239.55 L1250.79 238.8 L1251.54 238.05 L1252.21 237.3 L1252.76 236.55 L1253.27 235.8 L1253.73 235.05 L1254.15 234.3 L1254.53 233.55 L1254.85 232.8 L1255.13 232.05 L1255.37 231.3 L1255.57 230.55 L1255.74 229.8 L1255.89 229.05 L1256.02 228.3 L1256.14 227.55 L1256.25 226.8 L1256.34 226.05 L1256.43 225.3 L1256.51 224.55 L1256.57 223.8 L1256.63 223.05 L1256.67 222.3 L1256.7 221.55 L1256.72 220.8 L1256.74 220.05 L1256.76 219.3 L1256.77 218.55 L1256.78 217.8 L1256.79 217.05 L1256.79 216.3 L1256.78 215.55 L1256.77 214.8 L1256.75 214.05 L1256.72 213.3 L1256.68 212.55 L1256.62 211.8 L1256.56 211.05 L1256.49 210.3 L1256.41 209.55 L1256.32 208.8 L1256.21 208.05 L1256.08 207.3 L1255.93 206.55 L1255.76 205.8 L1255.58 205.05 L1255.37 204.3 L1255.16 203.55 L1254.95 202.8 L1254.73 202.05 L1254.5 201.3 L1254.28 200.55 L1254.04 199.8 L1253.81 199.05 L1253.57 198.3 L1253.33 197.55 L1253.1 196.8 L1252.87 196.05 L1252.66 195.3 L1252.45 194.55 L1252.25 193.8 L1252.05 193.05 L1251.83 192.3 L1251.63 191.55 L1251.44 190.8 L1251.26 190.05 L1251.1 189.3 L1250.96 188.55 L1250.84 187.8 L1250.74 187.05 L1250.64 186.3 L1250.56 185.55 L1250.48 184.8 L1250.41 184.05 L1250.36 183.3 L1250.32 182.55 L1250.29 181.8 L1250.29 181.05 L1250.29 180.3 L1250.32 179.55 L1250.36 178.8 L1250.42 178.05 L1250.48 177.3 L1250.56 176.55 L1250.64 175.8 L1250.74 175.05 L1250.84 174.3 L1250.96 173.55 L1251.1 172.8 L1251.25 172.05 L1251.42 171.3 L1251.6 170.55 L1251.8 169.8 L1252 169.05 L1252.19 168.3 L1252.37 167.55 L1252.55 166.8 L1252.74 166.05 L1252.93 165.3 L1253.12 164.55 L1253.32 163.8 L1253.52 163.05 L1253.72 162.3 L1253.92 161.55 L1254.13 160.8 L1254.34 160.05 L1254.55 159.3 L1254.77 158.55 L1254.99 157.8 L1255.2 157.05 L1255.41 156.3 L1255.59 155.55 L1255.76 154.8 L1255.9 154.05 L1256.01 153.3 L1256.11 152.55 L1256.2 151.8 L1256.27 151.05 L1256.34 150.3 L1256.4 149.55 L1256.46 148.8 L1256.51 148.05 L1256.57 147.3 L1256.62 146.55 L1256.68 145.8 L1256.73 145.05 L1256.79 144.3 L1256.84 143.55 L1256.88 142.8 L1256.92 142.05 L1256.95 141.3 L1256.97 140.55 L1256.99 139.8 L1257 139.05 L1257 138.3 L1257 137.55 L1257 136.8 L1257 136.05 L1257 135.3 L1257 134.55 L1257 133.8 L1257 133.05 L1257 132.3 L1257 131.55 L1257 130.8 L1257 130.05 L1257 129.3 L1257 128.55 L1257 127.8 L1257 127.05 L1257 126.3 L1257 125.55 L1257 124.8 L1257 124.05 L1257 123.3 L1257 122.55 L1257 121.8 L1257 121.05 L1257 120.3 L1257 119.55 L1257 118.8 L1257 118.05 L1257 117.3 L1257 116.55 L1257 115.8 L1257 115.05 L1257 114.3 L1257 113.55 L1257 112.8 L1257 112.05 L1257 111.3 L1257 110.55 L1257 109.8 L1257 109.05 L1257 108.3 L1257 107.55 L1257 106.8 L1257 106.05 L1257 105.3 L1257 104.55 L1257 103.8 L1257 103.05 L1257 102.3 L1257 101.55 L1257 100.8 L1257 100.05 L1257 99.3 L1257 98.55 L1257 97.8 L1257 97.05 L1257 96.3 L1257 95.55 L1257 94.8 L1257 94.05 L1257 93.3 L1257 92.55 L1257 91.8 L1257 91.05 L1257 90.3 L1257 89.55 L1257 88.8 L1257 88.05 L1257 87.3 L1257 86.55 L1257 85.8 L1257 85.05 L1257 84.3 L1257 83.55 L1257 82.8 L1257 82.05 L1257 81.3 L1257 80.55 L1257 79.8 L1257 79.05 L1257 78.3 Z" fill="#B0D5E8" stroke="#000" stroke-width="2.2" stroke-linejoin="round"/>
<circle cx="1263.1" cy="99" r="3.4"/>
<circle cx="1248" cy="181" r="3.4"/>
<circle cx="1251.4" cy="181" r="3.4"/>
<circle cx="1254.8" cy="181" r="3.4"/>
<circle cx="1258.2" cy="181" r="3.4"/>
<circle cx="1261.6" cy="181" r="3.4"/>
<circle cx="1247.1" cy="263" r="3.4"/>
<circle cx="1250.3" cy="263" r="3.4"/>
<circle cx="1253.5" cy="263" r="3.4"/>
<circle cx="1256.7" cy="263" r="3.4"/>
<circle cx="1259.9" cy="263" r="3.4"/>
<circle cx="1263.1" cy="263" r="3.4"/>
<circle cx="1266.3" cy="263" r="3.4"/>
<path d="M1461 147.1 L1461 147.85 L1461 148.6 L1461 149.35 L1461 150.1 L1461 150.85 L1461 151.6 L1461 152.35 L1461 153.1 L1461 153.85 L1461.01 154.6 L1461.1 155.35 L1461.19 156.1 L1461.27 156.85 L1461.36 157.6 L1461.45 158.35 L1461.53 159.1 L1461.63 159.85 L1461.72 160.6 L1461.82 161.35 L1461.92 162.1 L1462.03 162.85 L1462.13 163.6 L1462.24 164.35 L1462.35 165.1 L1462.47 165.85 L1462.58 166.6 L1462.7 167.35 L1462.83 168.1 L1462.96 168.85 L1463.09 169.6 L1463.22 170.35 L1463.35 171.1 L1463.47 171.85 L1463.58 172.6 L1463.68 173.35 L1463.77 174.1 L1463.84 174.85 L1463.91 175.6 L1463.97 176.35 L1464.02 177.1 L1464.07 177.85 L1464.11 178.6 L1464.14 179.35 L1464.16 180.1 L1464.17 180.85 L1464.17 181.6 L1464.16 182.35 L1464.13 183.1 L1464.1 183.85 L1464.05 184.6 L1464 185.35 L1463.94 186.1 L1463.88 186.85 L1463.81 187.6 L1463.73 188.35 L1463.64 189.1 L1463.54 189.85 L1463.43 190.6 L1463.31 191.35 L1463.18 192.1 L1463.05 192.85 L1462.91 193.6 L1462.78 194.35 L1462.64 195.1 L1462.5 195.85 L1462.36 196.6 L1462.22 197.35 L1462.07 198.1 L1461.94 198.85 L1461.81 199.6 L1461.69 200.35 L1461.59 201.1 L1461.49 201.85 L1461.41 202.6 L1461.34 203.35 L1461.27 204.1 L1461.21 204.85 L1461.15 205.6 L1461.1 206.35 L1461.06 207.1 L1461.03 207.85 L1461 208.6 L1461 209.35 L1461 210.1 L1461 210.85 L1461 211.6 L1461 212.35 L1461 213.1 L1461 213.85 L1461 214.6 L1461 215.35 L1461 216.1 L1461 216.85 L1461 217.6 L1461 218.35 L1461 219.1 L1461 219.85 L1461 220.6 L1461 221.35 L1461 222.1 L1461 222.85 L1461 223.6 L1461 224.35 L1461 225.1 L1461 225.85 L1461.02 226.6 L1461.08 227.35 L1461.17 228.1 L1461.29 228.85 L1461.45 229.6 L1461.63 230.35 L1461.85 231.1 L1462.1 231.85 L1462.39 232.6 L1462.72 233.35 L1463.11 234.1 L1463.54 234.85 L1464 235.6 L1464.51 236.35 L1465.04 237.1 L1465.6 237.85 L1466.24 238.6 L1466.97 239.35 L1467.74 240.1 L1468.56 240.85 L1469.42 241.6 L1470.31 242.35 L1471.22 243.1 L1472.13 243.85 L1473.03 244.6 L1473.92 245.35 L1474.69 246.1 L1475.45 246.85 L1476.21 247.6 L1476.95 248.35 L1477.68 249.1 L1478.39 249.85 L1479.07 250.6 L1479.71 251.35 L1480.31 252.1 L1480.88 252.85 L1481.42 253.6 L1481.93 254.35 L1482.42 255.1 L1482.88 255.85 L1483.29 256.6 L1483.65 257.35 L1483.96 258.1 L1484.2 258.85 L1484.4 259.6 L1484.55 260.35 L1484.67 261.1 L1484.75 261.85 L1484.8 262.6 L1484.8 263.35 L1484.76 264.1 L1484.66 264.85 L1484.53 265.6 L1484.35 266.35 L1484.13 267.1 L1483.87 267.85 L1483.58 268.6 L1483.25 269.35 L1482.86 270.1 L1482.4 270.85 L1481.86 271.6 L1481.26 272.35 L1480.61 273.1 L1479.91 273.85 L1479.18 274.6 L1478.43 275.35 L1477.68 276.1 L1476.91 276.85 L1476.12 277.6 L1475.32 278.35 L1474.5 279.1 L1473.61 279.85 L1472.64 280.6 L1471.69 281.35 L1470.74 282.1 L1469.81 282.85 L1468.89 283.6 L1467.97 284.35 L1467.06 285.1 L1466.17 285.85 L1465.39 286.6 L1464.69 287.35 L1464.07 288.1 L1463.52 288.85 L1463.06 289.6 L1462.68 290.35 L1462.35 291.1 L1462.07 291.85 L1461.83 292.6 L1461.62 293.35 L1461.44 294.1 L1461.29 294.85 L1461.17 295.6 L1461.09 296.35 L1461.03 297.1 L1461 297.85 L1461 298.6 L1461 299.35 L1461 300.1 L1461 300.85 L1461 301.6 L1461 302.35 L1461 303.1 L1461 303.85 L1461 304.6 L1461 305.35 L1461 306.1 L1461 306.85 L1461 307.6 L1461 308.35 L1461 309.1 L1461 309.85 L1461 310.6 L1461 311.35 L1461 312.1 L1461 312.85 L1461 313.6 L1461 314.35 L1461 315.1 L1461 315.85 L1461 316.6 L1461 317.35 L1461 318.1 L1461 318.85 L1461 319.6 L1461 320.35 L1461 321.1 L1461 321.85 L1461 322.6 L1461 323.35 L1461 324.1 L1461 324.85 L1461 325.6 L1461 326.35 L1461 327.1 L1461 327.85 L1461 328.6 L1461 329.35 L1461 330.1 L1461 330.85 L1461 331.6 L1461 332.35 L1461 333.1 L1461 333.85 L1461 334.6 L1461 335.35 L1461 336.1 L1461 336.85 L1461 337.6 L1461 338.35 L1461 339.1 L1461 339.85 L1461 340.6 L1461 341.35 L1461 342.1 L1461 342.85 L1461 343.6 L1461 344.35 L1461 345.1 L1461 345.85 L1461 346.6 L1461 347.35 L1461 348.1 L1461 348.85 L1461 349.6 L1461 350.35 L1461 351.1 L1461 351.85 L1461 352.6 L1461 353.35 L1461 354.1 L1461 354.85 L1461 355.6 L1461 356.35 L1461 357.1 L1461 357.85 L1461 358.6 L1461 359.35 L1461 360.1 L1461 360.85 L1461 361.6 L1461 362.35 L1461 363.1 L1461 363.85 L1461 364.6 L1461 365.35 L1461 366.1 L1461 366.85 L1461 367.6 L1461 368.35 L1461 369.1 L1461 369.85 L1461 370.6 L1461 371.35 L1461 371.7 L1461 371.7 L1461 371.35 L1461 370.6 L1461 369.85 L1461 369.1 L1461 368.35 L1461 367.6 L1461 366.85 L1461 366.1 L1461 365.35 L1461 364.6 L1461 363.85 L1461 363.1 L1461 362.35 L1461 361.6 L1461 360.85 L1461 360.1 L1461 359.35 L1461 358.6 L1461 357.85 L1461 357.1 L1461 356.35 L1461 355.6 L1461 354.85 L1461 354.1 L1461 353.35 L1461 352.6 L1461 351.85 L1461 351.1 L1461 350.35 L1461 349.6 L1461 348.85 L1461 348.1 L1461 347.35 L1461 346.6 L1461 345.85 L1461 345.1 L1461 344.35 L1461 343.6 L1461 342.85 L1461 342.1 L1461 341.35 L1461 340.6 L1461 339.85 L1461 339.1 L1461 338.35 L1461 337.6 L1461 336.85 L1461 336.1 L1461 335.35 L1461 334.6 L1461 333.85 L1461 333.1 L1461 332.35 L1461 331.6 L1461 330.85 L1461 330.1 L1461 329.35 L1461 328.6 L1461 327.85 L1461 327.1 L1461 326.35 L1461 325.6 L1461 324.85 L1461 324.1 L1461 323.35 L1461 322.6 L1461 321.85 L1461 321.1 L1461 320.35 L1461 319.6 L1461 318.85 L1461 318.1 L1461 317.35 L1461 316.6 L1461 315.85 L1461 315.1 L1461 314.35 L1461 313.6 L1461 312.85 L1461 312.1 L1461 311.35 L1461 310.6 L1461 309.85 L1461 309.1 L1461 308.35 L1461 307.6 L1461 306.85 L1461 306.1 L1461 305.35 L1461 304.6 L1461 303.85 L1461 303.1 L1461 302.35 L1461 301.6 L1461 300.85 L1461 300.1 L1461 299.35 L1461 298.6 L1461 297.85 L1460.97 297.1 L1460.91 296.35 L1460.83 295.6 L1460.71 294.85 L1460.56 294.1 L1460.38 293.35 L1460.17 292.6 L1459.93 291.85 L1459.65 291.1 L1459.32 290.35 L1458.94 289.6 L1458.48 288.85 L1457.93 288.1 L1457.31 287.35 L1456.61 286.6 L1455.83 285.85 L1454.94 285.1 L1454.03 284.35 L1453.11 283.6 L1452.19 282.85 L1451.26 282.1 L1450.31 281.35 L1449.36 280.6 L1448.39 279.85 L1447.5 279.1 L1446.68 278.35 L1445.88 277.6 L1445.09 276.85 L1444.32 276.1 L1443.57 275.35 L1442.82 274.6 L1442.09 273.85 L1441.39 273.1 L1440.74 272.35 L1440.14 271.6 L1439.6 270.85 L1439.14 270.1 L1438.75 269.35 L1438.42 268.6 L1438.13 267.85 L1437.87 267.1 L1437.65 266.35 L1437.47 265.6 L1437.34 264.85 L1437.24 264.1 L1437.2 263.35 L1437.2 262.6 L1437.25 261.85 L1437.33 261.1 L1437.45 260.35 L1437.6 259.6 L1437.8 258.85 L1438.04 258.1 L1438.35 257.35 L1438.71 256.6 L1439.12 255.85 L1439.58 255.1 L1440.07 254.35 L1440.58 253.6 L1441.12 252.85 L1441.69 252.1 L1442.29 251.35 L1442.93 250.6 L1443.61 249.85 L1444.32 249.1 L1445.05 248.35 L1445.79 247.6 L1446.55 246.85 L1447.31 246.1 L1448.08 245.35 L1448.97 244.6 L1449.87 243.85 L1450.78 243.1 L1451.69 242.35 L1452.58 241.6 L1453.44 240.85 L1454.26 240.1 L1455.03 239.35 L1455.76 238.6 L1456.4 237.85 L1456.96 237.1 L1457.49 236.35 L1458 235.6 L1458.46 234.85 L1458.89 234.1 L1459.28 233.35 L1459.61 232.6 L1459.9 231.85 L1460.15 231.1 L1460.37 230.35 L1460.55 229.6 L1460.71 228.85 L1460.83 228.1 L1460.92 227.35 L1460.98 226.6 L1461 225.85 L1461 225.1 L1461 224.35 L1461 223.6 L1461 222.85 L1461 222.1 L1461 221.35 L1461 220.6 L1461 219.85 L1461 219.1 L1461 218.35 L1461 217.6 L1461 216.85 L1461 216.1 L1461 215.35 L1461 214.6 L1461 213.85 L1461 213.1 L1461 212.35 L1461 211.6 L1461 210.85 L1461 210.1 L1461 209.35 L1461 208.6 L1460.97 207.85 L1460.94 207.1 L1460.9 206.35 L1460.85 205.6 L1460.79 204.85 L1460.73 204.1 L1460.66 203.35 L1460.59 202.6 L1460.51 201.85 L1460.41 201.1 L1460.31 200.35 L1460.19 199.6 L1460.06 198.85 L1459.93 198.1 L1459.78 197.35 L1459.64 196.6 L1459.5 195.85 L1459.36 195.1 L1459.22 194.35 L1459.09 193.6 L1458.95 192.85 L1458.82 192.1 L1458.69 191.35 L1458.57 190.6 L1458.46 189.85 L1458.36 189.1 L1458.27 188.35 L1458.19 187.6 L1458.12 186.85 L1458.06 186.1 L1458 185.35 L1457.95 184.6 L1457.9 183.85 L1457.87 183.1 L1457.84 182.35 L1457.83 181.6 L1457.83 180.85 L1457.84 180.1 L1457.86 179.35 L1457.89 178.6 L1457.93 177.85 L1457.98 177.1 L1458.03 176.35 L1458.09 175.6 L1458.16 174.85 L1458.23 174.1 L1458.32 173.35 L1458.42 172.6 L1458.53 171.85 L1458.65 171.1 L1458.78 170.35 L1458.91 169.6 L1459.04 168.85 L1459.17 168.1 L1459.3 167.35 L1459.42 166.6 L1459.53 165.85 L1459.65 165.1 L1459.76 164.35 L1459.87 163.6 L1459.97 162.85 L1460.08 162.1 L1460.18 161.35 L1460.28 160.6 L1460.37 159.85 L1460.47 159.1 L1460.55 158.35 L1460.64 157.6 L1460.73 156.85 L1460.81 156.1 L1460.9 155.35 L1460.99 154.6 L1461 153.85 L1461 153.1 L1461 152.35 L1461 151.6 L1461 150.85 L1461 150.1 L1461 149.35 L1461 148.6 L1461 147.85 L1461 147.1 Z" fill="#BEB5E1" stroke="#000" stroke-width="2.2" stroke-linejoin="round"/>
<circle cx="1452" cy="181" r="3.4"/>
<circle cx="1455.5" cy="181" r="3.4"/>
<circle cx="1459" cy="181" r="3.4"/>
<circle cx="1462.5" cy="181" r="3.4"/>
<circle cx="1466" cy="181" r="3.4"/>
<circle cx="1450.5" cy="263" r="3.4"/>
<circle cx="1454.07" cy="263" r="3.4"/>
<circle cx="1457.63" cy="263" r="3.4"/>
<circle cx="1461.2" cy="263" r="3.4"/>
<circle cx="1464.77" cy="263" r="3.4"/>
<circle cx="1468.33" cy="263" r="3.4"/>
<circle cx="1471.9" cy="263" r="3.4"/>
<circle cx="1462.8" cy="345" r="3.4"/>
<line x1="910.3" y1="16" x2="910.3" y2="510.6" stroke="#000" stroke-width="2"/>
<line x1="901" y1="509.5" x2="910.3" y2="509.5" stroke="#000" stroke-width="2"/>
<line x1="901" y1="468.5" x2="910.3" y2="468.5" stroke="#000" stroke-width="2"/>
<line x1="901" y1="427.5" x2="910.3" y2="427.5" stroke="#000" stroke-width="2"/>
<line x1="901" y1="386.5" x2="910.3" y2="386.5" stroke="#000" stroke-width="2"/>
<line x1="901" y1="345.5" x2="910.3" y2="345.5" stroke="#000" stroke-width="2"/>
<line x1="901" y1="304.5" x2="910.3" y2="304.5" stroke="#000" stroke-width="2"/>
<line x1="901" y1="263.5" x2="910.3" y2="263.5" stroke="#000" stroke-width="2"/>
<line x1="901" y1="222.5" x2="910.3" y2="222.5" stroke="#000" stroke-width="2"/>
<line x1="901" y1="181.5" x2="910.3" y2="181.5" stroke="#000" stroke-width="2"/>
<line x1="901" y1="140.5" x2="910.3" y2="140.5" stroke="#000" stroke-width="2"/>
<line x1="901" y1="99.5" x2="910.3" y2="99.5" stroke="#000" stroke-width="2"/>
<line x1="901" y1="58.5" x2="910.3" y2="58.5" stroke="#000" stroke-width="2"/>
<line x1="901" y1="17.5" x2="910.3" y2="17.5" stroke="#000" stroke-width="2"/>
<text x="893.3" y="515.6" text-anchor="end" font-size="22">0.0</text>
<text x="893.3" y="474.6" text-anchor="end" font-size="22">0.5</text>
<text x="893.3" y="433.6" text-anchor="end" font-size="22">1.0</text>
<text x="893.3" y="392.6" text-anchor="end" font-size="22">1.5</text>
<text x="893.3" y="351.6" text-anchor="end" font-size="22">2.0</text>
<text x="893.3" y="310.6" text-anchor="end" font-size="22">2.5</text>
<text x="893.3" y="269.6" text-anchor="end" font-size="22">3.0</text>
<text x="893.3" y="228.6" text-anchor="end" font-size="22">3.5</text>
<text x="893.3" y="187.6" text-anchor="end" font-size="22">4.0</text>
<text x="893.3" y="146.6" text-anchor="end" font-size="22">4.5</text>
<text x="893.3" y="105.6" text-anchor="end" font-size="22">5.0</text>
<text x="893.3" y="64.6" text-anchor="end" font-size="22">5.5</text>
<text x="893.3" y="23.6" text-anchor="end" font-size="22">6.0</text>
<line x1="900.5" y1="509.6" x2="1523" y2="509.6" stroke="#000" stroke-width="2"/>
<text x="1013" y="536.7" text-anchor="middle" font-size="20.8">YouTube</text>
<text x="1216.3" y="536.7" text-anchor="middle" font-size="20.8">Bilibili</text>
<text x="1420.5" y="536.7" text-anchor="middle" font-size="20.8">TikTok</text>
<text x="1202.7" y="607.5" text-anchor="middle" font-size="25.5">mDISCERN-sum</text>
<text x="857" y="263.6" text-anchor="middle" font-size="25.9" transform="rotate(-90 857 263.6)">Range</text>
<text x="818.5" y="37.3" text-anchor="start" font-size="46" font-weight="bold">B</text>
<line x1="149.2" y1="791.5" x2="149.2" y2="876" stroke="#303030" stroke-width="1.6"/>
<line x1="132.7" y1="791.5" x2="165.7" y2="791.5" stroke="#303030" stroke-width="1.7"/>
<line x1="149.2" y1="960.5" x2="149.2" y2="1129.5" stroke="#303030" stroke-width="1.6"/>
<line x1="132.7" y1="1129.5" x2="165.7" y2="1129.5" stroke="#303030" stroke-width="1.7"/>
<rect x="117.2" y="876" width="64" height="84.5" fill="#E3726E" stroke="#383838" stroke-width="1.6"/>
<line x1="358.7" y1="876" x2="358.7" y2="1045" stroke="#303030" stroke-width="1.6"/>
<line x1="342.2" y1="1045" x2="375.2" y2="1045" stroke="#303030" stroke-width="1.7"/>
<rect x="326.7" y="791.5" width="64" height="84.5" fill="#B0D5E8" stroke="#383838" stroke-width="1.6"/>
<line x1="568.8" y1="876" x2="568.8" y2="960.5" stroke="#303030" stroke-width="1.6"/>
<line x1="552.3" y1="960.5" x2="585.3" y2="960.5" stroke="#303030" stroke-width="1.7"/>
<rect x="536.8" y="791.5" width="64" height="84.5" fill="#BEB5E1" stroke="#383838" stroke-width="1.6"/>
<path d="M240.41 775.2 L240.42 775.95 L240.43 776.7 L240.48 777.45 L240.55 778.2 L240.64 778.95 L240.74 779.7 L240.85 780.45 L240.97 781.2 L241.08 781.95 L241.19 782.7 L241.29 783.45 L241.38 784.2 L241.46 784.95 L241.53 785.7 L241.59 786.45 L241.64 787.2 L241.7 787.95 L241.75 788.7 L241.79 789.45 L241.83 790.2 L241.86 790.95 L241.88 791.7 L241.9 792.45 L241.91 793.2 L241.91 793.95 L241.92 794.7 L241.92 795.45 L241.92 796.2 L241.92 796.95 L241.92 797.7 L241.92 798.45 L241.92 799.2 L241.92 799.95 L241.91 800.7 L241.9 801.45 L241.88 802.2 L241.86 802.95 L241.82 803.7 L241.77 804.45 L241.72 805.2 L241.67 805.95 L241.61 806.7 L241.56 807.45 L241.53 808.2 L241.5 808.95 L241.48 809.7 L241.47 810.45 L241.47 811.2 L241.48 811.95 L241.5 812.7 L241.51 813.45 L241.54 814.2 L241.56 814.95 L241.59 815.7 L241.62 816.45 L241.65 817.2 L241.69 817.95 L241.74 818.7 L241.79 819.45 L241.86 820.2 L241.94 820.95 L242.03 821.7 L242.13 822.45 L242.25 823.2 L242.37 823.95 L242.5 824.7 L242.64 825.45 L242.79 826.2 L242.96 826.95 L243.14 827.7 L243.34 828.45 L243.57 829.2 L243.81 829.95 L244.07 830.7 L244.35 831.45 L244.64 832.2 L244.94 832.95 L245.25 833.7 L245.56 834.45 L245.89 835.2 L246.23 835.95 L246.53 836.7 L246.85 837.45 L247.18 838.2 L247.52 838.95 L247.87 839.7 L248.23 840.45 L248.59 841.2 L248.95 841.95 L249.31 842.7 L249.68 843.45 L250.05 844.2 L250.42 844.95 L250.79 845.7 L251.17 846.45 L251.55 847.2 L251.94 847.95 L252.32 848.7 L252.71 849.45 L253.09 850.2 L253.47 850.95 L253.85 851.7 L254.24 852.45 L254.62 853.2 L255.01 853.95 L255.4 854.7 L255.78 855.45 L256.16 856.2 L256.53 856.95 L256.88 857.7 L257.22 858.45 L257.54 859.2 L257.84 859.95 L258.13 860.7 L258.4 861.45 L258.66 862.2 L258.9 862.95 L259.14 863.7 L259.37 864.45 L259.59 865.2 L259.81 865.95 L260.03 866.7 L260.24 867.45 L260.45 868.2 L260.66 868.95 L260.88 869.7 L261.09 870.45 L261.29 871.2 L261.47 871.95 L261.63 872.7 L261.77 873.45 L261.88 874.2 L261.97 874.95 L262.04 875.7 L262.09 876.45 L262.13 877.2 L262.14 877.95 L262.13 878.7 L262.09 879.45 L262.02 880.2 L261.91 880.95 L261.78 881.7 L261.63 882.45 L261.45 883.2 L261.26 883.95 L261.06 884.7 L260.84 885.45 L260.62 886.2 L260.37 886.95 L260.1 887.7 L259.81 888.45 L259.49 889.2 L259.14 889.95 L258.78 890.7 L258.42 891.45 L258.05 892.2 L257.68 892.95 L257.34 893.7 L257.01 894.45 L256.7 895.2 L256.4 895.95 L256.11 896.7 L255.84 897.45 L255.57 898.2 L255.32 898.95 L255.07 899.7 L254.83 900.45 L254.61 901.2 L254.4 901.95 L254.21 902.7 L254.03 903.45 L253.86 904.2 L253.69 904.95 L253.53 905.7 L253.38 906.45 L253.24 907.2 L253.11 907.95 L252.99 908.7 L252.9 909.45 L252.83 910.2 L252.78 910.95 L252.75 911.7 L252.75 912.45 L252.77 913.2 L252.81 913.95 L252.86 914.7 L252.93 915.45 L253.01 916.2 L253.11 916.95 L253.21 917.7 L253.33 918.45 L253.46 919.2 L253.61 919.95 L253.79 920.7 L254.01 921.45 L254.27 922.2 L254.57 922.95 L254.91 923.7 L255.28 924.45 L255.68 925.2 L256.09 925.95 L256.52 926.7 L256.94 927.45 L257.38 928.2 L257.82 928.95 L258.26 929.7 L258.72 930.45 L259.19 931.2 L259.68 931.95 L260.17 932.7 L260.68 933.45 L261.18 934.2 L261.69 934.95 L262.2 935.7 L262.7 936.45 L263.21 937.2 L263.72 937.95 L264.23 938.7 L264.74 939.45 L265.26 940.2 L265.77 940.95 L266.27 941.7 L266.76 942.45 L267.24 943.2 L267.7 943.95 L268.14 944.7 L268.56 945.45 L268.97 946.2 L269.37 946.95 L269.77 947.7 L270.15 948.45 L270.51 949.2 L270.86 949.95 L271.17 950.7 L271.45 951.45 L271.69 952.2 L271.89 952.95 L272.06 953.7 L272.2 954.45 L272.32 955.2 L272.43 955.95 L272.52 956.7 L272.61 957.45 L272.68 958.2 L272.75 958.95 L272.8 959.7 L272.83 960.45 L272.85 961.2 L272.84 961.95 L272.81 962.7 L272.74 963.45 L272.65 964.2 L272.52 964.95 L272.36 965.7 L272.18 966.45 L271.98 967.2 L271.76 967.95 L271.53 968.7 L271.29 969.45 L271.03 970.2 L270.76 970.95 L270.46 971.7 L270.13 972.45 L269.77 973.2 L269.37 973.95 L268.94 974.7 L268.46 975.45 L267.92 976.2 L267.31 976.95 L266.63 977.7 L265.86 978.45 L265.02 979.2 L264.13 979.95 L263.22 980.7 L262.33 981.45 L261.48 982.2 L260.69 982.95 L259.97 983.7 L259.3 984.45 L258.69 985.2 L258.11 985.95 L257.56 986.7 L257.04 987.45 L256.53 988.2 L256.03 988.95 L255.55 989.7 L255.08 990.45 L254.61 991.2 L254.15 991.95 L253.69 992.7 L253.23 993.45 L252.77 994.2 L252.33 994.95 L251.89 995.7 L251.48 996.45 L251.08 997.2 L250.7 997.95 L250.34 998.7 L250.01 999.45 L249.7 1000.2 L249.4 1000.95 L249.13 1001.7 L248.86 1002.45 L248.61 1003.2 L248.37 1003.95 L248.14 1004.7 L247.94 1005.45 L247.76 1006.2 L247.6 1006.95 L247.46 1007.7 L247.34 1008.45 L247.24 1009.2 L247.15 1009.95 L247.07 1010.7 L247 1011.45 L246.93 1012.2 L246.87 1012.95 L246.82 1013.7 L246.78 1014.45 L246.75 1015.2 L246.73 1015.95 L246.73 1016.7 L246.73 1017.45 L246.75 1018.2 L246.78 1018.95 L246.82 1019.7 L246.87 1020.45 L246.93 1021.2 L247 1021.95 L247.06 1022.7 L247.13 1023.45 L247.21 1024.2 L247.29 1024.95 L247.37 1025.7 L247.46 1026.45 L247.56 1027.2 L247.66 1027.95 L247.77 1028.7 L247.88 1029.45 L247.99 1030.2 L248.09 1030.95 L248.18 1031.7 L248.27 1032.45 L248.35 1033.2 L248.41 1033.95 L248.47 1034.7 L248.52 1035.45 L248.57 1036.2 L248.62 1036.95 L248.66 1037.7 L248.7 1038.45 L248.73 1039.2 L248.75 1039.95 L248.77 1040.7 L248.78 1041.45 L248.78 1042.2 L248.78 1042.95 L248.76 1043.7 L248.74 1044.45 L248.71 1045.2 L248.68 1045.95 L248.64 1046.7 L248.59 1047.45 L248.55 1048.2 L248.49 1048.95 L248.43 1049.7 L248.36 1050.45 L248.27 1051.2 L248.17 1051.95 L248.04 1052.7 L247.91 1053.45 L247.75 1054.2 L247.59 1054.95 L247.41 1055.7 L247.23 1056.45 L247.05 1057.2 L246.86 1057.95 L246.66 1058.7 L246.47 1059.45 L246.26 1060.2 L246.02 1060.95 L245.77 1061.7 L245.51 1062.45 L245.24 1063.2 L244.97 1063.95 L244.7 1064.7 L244.43 1065.45 L244.17 1066.2 L243.91 1066.95 L243.66 1067.7 L243.4 1068.45 L243.15 1069.2 L242.91 1069.95 L242.66 1070.7 L242.42 1071.45 L242.18 1072.2 L241.95 1072.95 L241.72 1073.7 L241.49 1074.45 L241.25 1075.2 L241 1075.95 L240.73 1076.7 L240.44 1077.45 L240.14 1078.2 L239.83 1078.95 L239.51 1079.7 L239.19 1080.45 L238.87 1081.2 L238.57 1081.95 L238.27 1082.7 L238 1083.45 L237.76 1084.2 L237.53 1084.95 L237.3 1085.7 L237.08 1086.45 L236.88 1087.2 L236.69 1087.95 L236.5 1088.7 L236.33 1089.45 L236.17 1090.2 L236.01 1090.95 L235.87 1091.7 L235.73 1092.45 L235.59 1093.2 L235.47 1093.95 L235.35 1094.7 L235.23 1095.45 L235.12 1096.2 L235.01 1096.95 L234.91 1097.7 L234.82 1098.45 L234.74 1099.2 L234.66 1099.95 L234.59 1100.7 L234.52 1101.45 L234.46 1102.2 L234.41 1102.95 L234.36 1103.7 L234.31 1104.45 L234.27 1105.2 L234.23 1105.95 L234.2 1106.7 L234.16 1107.45 L234.14 1108.2 L234.11 1108.95 L234.08 1109.7 L234.06 1110.45 L234.04 1111.2 L234.02 1111.95 L234 1112.7 L233.99 1113.45 L233.97 1114.2 L233.96 1114.95 L233.95 1115.7 L233.94 1116.45 L233.92 1117.2 L233.91 1117.95 L233.89 1118.7 L233.87 1119.45 L233.84 1120.2 L233.82 1120.95 L233.79 1121.7 L233.76 1122.45 L233.74 1123.2 L233.72 1123.95 L233.71 1124.7 L233.7 1125.45 L233.7 1126.2 L233.7 1126.95 L233.7 1127.7 L233.7 1128.45 L233.7 1129.2 L233.7 1129.95 L233.7 1130.7 L233.7 1131.45 L233.7 1132.2 L233.7 1132.95 L233.7 1133.7 L233.7 1134.45 L233.7 1135.2 L233.7 1135.95 L233.7 1136.7 L233.7 1137.45 L233.7 1138.2 L233.7 1138.95 L233.7 1139.7 L233.7 1140.45 L233.7 1141.2 L233.7 1141.95 L233.7 1142.7 L233.7 1143.45 L233.7 1144.2 L233.7 1144.95 L233.7 1145.1 L232.7 1145.1 L232.7 1144.95 L232.7 1144.2 L232.7 1143.45 L232.7 1142.7 L232.7 1141.95 L232.7 1141.2 L232.7 1140.45 L232.7 1139.7 L232.7 1138.95 L232.7 1138.2 L232.7 1137.45 L232.7 1136.7 L232.7 1135.95 L232.7 1135.2 L232.7 1134.45 L232.7 1133.7 L232.7 1132.95 L232.7 1132.2 L232.7 1131.45 L232.7 1130.7 L232.7 1129.95 L232.7 1129.2 L232.7 1128.45 L232.7 1127.7 L232.7 1126.95 L232.7 1126.2 L232.7 1125.45 L232.69 1124.7 L232.68 1123.95 L232.66 1123.2 L232.64 1122.45 L232.61 1121.7 L232.58 1120.95 L232.56 1120.2 L232.53 1119.45 L232.51 1118.7 L232.49 1117.95 L232.48 1117.2 L232.46 1116.45 L232.45 1115.7 L232.44 1114.95 L232.43 1114.2 L232.41 1113.45 L232.4 1112.7 L232.38 1111.95 L232.36 1111.2 L232.34 1110.45 L232.32 1109.7 L232.29 1108.95 L232.26 1108.2 L232.24 1107.45 L232.2 1106.7 L232.17 1105.95 L232.13 1105.2 L232.09 1104.45 L232.04 1103.7 L231.99 1102.95 L231.94 1102.2 L231.88 1101.45 L231.81 1100.7 L231.74 1099.95 L231.66 1099.2 L231.58 1098.45 L231.49 1097.7 L231.39 1096.95 L231.28 1096.2 L231.17 1095.45 L231.05 1094.7 L230.93 1093.95 L230.81 1093.2 L230.67 1092.45 L230.53 1091.7 L230.39 1090.95 L230.23 1090.2 L230.07 1089.45 L229.9 1088.7 L229.71 1087.95 L229.52 1087.2 L229.32 1086.45 L229.1 1085.7 L228.87 1084.95 L228.64 1084.2 L228.4 1083.45 L228.13 1082.7 L227.83 1081.95 L227.53 1081.2 L227.21 1080.45 L226.89 1079.7 L226.57 1078.95 L226.26 1078.2 L225.96 1077.45 L225.67 1076.7 L225.4 1075.95 L225.15 1075.2 L224.91 1074.45 L224.68 1073.7 L224.45 1072.95 L224.22 1072.2 L223.98 1071.45 L223.74 1070.7 L223.49 1069.95 L223.25 1069.2 L223 1068.45 L222.74 1067.7 L222.49 1066.95 L222.23 1066.2 L221.97 1065.45 L221.7 1064.7 L221.43 1063.95 L221.16 1063.2 L220.89 1062.45 L220.63 1061.7 L220.38 1060.95 L220.14 1060.2 L219.93 1059.45 L219.74 1058.7 L219.54 1057.95 L219.35 1057.2 L219.17 1056.45 L218.99 1055.7 L218.81 1054.95 L218.65 1054.2 L218.49 1053.45 L218.36 1052.7 L218.23 1051.95 L218.13 1051.2 L218.04 1050.45 L217.97 1049.7 L217.91 1048.95 L217.85 1048.2 L217.81 1047.45 L217.76 1046.7 L217.72 1045.95 L217.69 1045.2 L217.66 1044.45 L217.64 1043.7 L217.62 1042.95 L217.62 1042.2 L217.62 1041.45 L217.63 1040.7 L217.65 1039.95 L217.67 1039.2 L217.7 1038.45 L217.74 1037.7 L217.78 1036.95 L217.83 1036.2 L217.88 1035.45 L217.93 1034.7 L217.99 1033.95 L218.05 1033.2 L218.13 1032.45 L218.22 1031.7 L218.31 1030.95 L218.41 1030.2 L218.52 1029.45 L218.63 1028.7 L218.74 1027.95 L218.84 1027.2 L218.94 1026.45 L219.03 1025.7 L219.11 1024.95 L219.19 1024.2 L219.27 1023.45 L219.34 1022.7 L219.4 1021.95 L219.47 1021.2 L219.53 1020.45 L219.58 1019.7 L219.62 1018.95 L219.65 1018.2 L219.67 1017.45 L219.67 1016.7 L219.67 1015.95 L219.65 1015.2 L219.62 1014.45 L219.58 1013.7 L219.53 1012.95 L219.47 1012.2 L219.4 1011.45 L219.33 1010.7 L219.25 1009.95 L219.16 1009.2 L219.06 1008.45 L218.94 1007.7 L218.8 1006.95 L218.64 1006.2 L218.46 1005.45 L218.26 1004.7 L218.03 1003.95 L217.79 1003.2 L217.54 1002.45 L217.27 1001.7 L217 1000.95 L216.7 1000.2 L216.39 999.45 L216.06 998.7 L215.7 997.95 L215.32 997.2 L214.92 996.45 L214.51 995.7 L214.07 994.95 L213.63 994.2 L213.17 993.45 L212.71 992.7 L212.25 991.95 L211.79 991.2 L211.32 990.45 L210.85 989.7 L210.37 988.95 L209.87 988.2 L209.36 987.45 L208.84 986.7 L208.29 985.95 L207.71 985.2 L207.1 984.45 L206.43 983.7 L205.71 982.95 L204.92 982.2 L204.07 981.45 L203.18 980.7 L202.27 979.95 L201.38 979.2 L200.54 978.45 L199.77 977.7 L199.09 976.95 L198.48 976.2 L197.94 975.45 L197.46 974.7 L197.03 973.95 L196.63 973.2 L196.27 972.45 L195.94 971.7 L195.64 970.95 L195.37 970.2 L195.11 969.45 L194.87 968.7 L194.64 967.95 L194.42 967.2 L194.22 966.45 L194.04 965.7 L193.88 964.95 L193.75 964.2 L193.66 963.45 L193.59 962.7 L193.56 961.95 L193.55 961.2 L193.57 960.45 L193.6 959.7 L193.65 958.95 L193.72 958.2 L193.79 957.45 L193.88 956.7 L193.97 955.95 L194.08 955.2 L194.2 954.45 L194.34 953.7 L194.51 952.95 L194.71 952.2 L194.95 951.45 L195.23 950.7 L195.54 949.95 L195.89 949.2 L196.25 948.45 L196.63 947.7 L197.03 946.95 L197.43 946.2 L197.84 945.45 L198.26 944.7 L198.7 943.95 L199.16 943.2 L199.64 942.45 L200.13 941.7 L200.63 940.95 L201.14 940.2 L201.66 939.45 L202.17 938.7 L202.68 937.95 L203.19 937.2 L203.7 936.45 L204.2 935.7 L204.71 934.95 L205.22 934.2 L205.72 933.45 L206.23 932.7 L206.72 931.95 L207.21 931.2 L207.68 930.45 L208.14 929.7 L208.58 928.95 L209.02 928.2 L209.46 927.45 L209.88 926.7 L210.31 925.95 L210.72 925.2 L211.12 924.45 L211.49 923.7 L211.83 922.95 L212.13 922.2 L212.39 921.45 L212.61 920.7 L212.79 919.95 L212.94 919.2 L213.07 918.45 L213.19 917.7 L213.29 916.95 L213.39 916.2 L213.47 915.45 L213.54 914.7 L213.59 913.95 L213.63 913.2 L213.65 912.45 L213.65 911.7 L213.62 910.95 L213.57 910.2 L213.5 909.45 L213.41 908.7 L213.29 907.95 L213.16 907.2 L213.02 906.45 L212.87 905.7 L212.71 904.95 L212.54 904.2 L212.37 903.45 L212.19 902.7 L212 901.95 L211.79 901.2 L211.57 900.45 L211.33 899.7 L211.08 898.95 L210.83 898.2 L210.56 897.45 L210.29 896.7 L210 895.95 L209.7 895.2 L209.39 894.45 L209.06 893.7 L208.72 892.95 L208.35 892.2 L207.98 891.45 L207.62 890.7 L207.26 889.95 L206.91 889.2 L206.59 888.45 L206.3 887.7 L206.03 886.95 L205.78 886.2 L205.56 885.45 L205.34 884.7 L205.14 883.95 L204.95 883.2 L204.77 882.45 L204.62 881.7 L204.49 880.95 L204.38 880.2 L204.31 879.45 L204.27 878.7 L204.26 877.95 L204.27 877.2 L204.31 876.45 L204.36 875.7 L204.43 874.95 L204.52 874.2 L204.63 873.45 L204.77 872.7 L204.93 871.95 L205.11 871.2 L205.31 870.45 L205.52 869.7 L205.74 868.95 L205.95 868.2 L206.16 867.45 L206.37 866.7 L206.59 865.95 L206.81 865.2 L207.03 864.45 L207.26 863.7 L207.5 862.95 L207.74 862.2 L208 861.45 L208.27 860.7 L208.56 859.95 L208.86 859.2 L209.18 858.45 L209.52 857.7 L209.87 856.95 L210.24 856.2 L210.62 855.45 L211 854.7 L211.39 853.95 L211.78 853.2 L212.16 852.45 L212.55 851.7 L212.93 850.95 L213.31 850.2 L213.69 849.45 L214.08 848.7 L214.46 847.95 L214.85 847.2 L215.23 846.45 L215.61 845.7 L215.98 844.95 L216.35 844.2 L216.72 843.45 L217.09 842.7 L217.45 841.95 L217.81 841.2 L218.17 840.45 L218.53 839.7 L218.88 838.95 L219.22 838.2 L219.55 837.45 L219.87 836.7 L220.17 835.95 L220.51 835.2 L220.84 834.45 L221.15 833.7 L221.46 832.95 L221.76 832.2 L222.05 831.45 L222.33 830.7 L222.59 829.95 L222.83 829.2 L223.06 828.45 L223.26 827.7 L223.44 826.95 L223.61 826.2 L223.76 825.45 L223.9 824.7 L224.03 823.95 L224.15 823.2 L224.27 822.45 L224.37 821.7 L224.46 820.95 L224.54 820.2 L224.61 819.45 L224.66 818.7 L224.71 817.95 L224.75 817.2 L224.78 816.45 L224.81 815.7 L224.84 814.95 L224.86 814.2 L224.89 813.45 L224.9 812.7 L224.92 811.95 L224.93 811.2 L224.93 810.45 L224.92 809.7 L224.9 808.95 L224.87 808.2 L224.84 807.45 L224.79 806.7 L224.73 805.95 L224.68 805.2 L224.63 804.45 L224.58 803.7 L224.54 802.95 L224.52 802.2 L224.5 801.45 L224.49 800.7 L224.48 799.95 L224.48 799.2 L224.48 798.45 L224.48 797.7 L224.48 796.95 L224.48 796.2 L224.48 795.45 L224.48 794.7 L224.49 793.95 L224.49 793.2 L224.5 792.45 L224.52 791.7 L224.54 790.95 L224.57 790.2 L224.61 789.45 L224.65 788.7 L224.7 787.95 L224.76 787.2 L224.81 786.45 L224.87 785.7 L224.94 784.95 L225.02 784.2 L225.11 783.45 L225.21 782.7 L225.32 781.95 L225.43 781.2 L225.55 780.45 L225.66 779.7 L225.76 778.95 L225.85 778.2 L225.92 777.45 L225.97 776.7 L225.98 775.95 L225.99 775.2 Z" fill="#E3726E" stroke="#000" stroke-width="2.2" stroke-linejoin="round"/>
<circle cx="226.7" cy="791.6" r="3.4"/>
<circle cx="229.88" cy="791.6" r="3.4"/>
<circle cx="233.06" cy="791.6" r="3.4"/>
<circle cx="236.24" cy="791.6" r="3.4"/>
<circle cx="239.42" cy="791.6" r="3.4"/>
<circle cx="242.6" cy="791.6" r="3.4"/>
<circle cx="223.2" cy="876" r="3.4"/>
<circle cx="226.83" cy="876" r="3.4"/>
<circle cx="230.46" cy="876" r="3.4"/>
<circle cx="234.09" cy="876" r="3.4"/>
<circle cx="237.71" cy="876" r="3.4"/>
<circle cx="241.34" cy="876" r="3.4"/>
<circle cx="244.97" cy="876" r="3.4"/>
<circle cx="248.6" cy="876" r="3.4"/>
<circle cx="221.7" cy="960.5" r="3.4"/>
<circle cx="225.33" cy="960.5" r="3.4"/>
<circle cx="228.97" cy="960.5" r="3.4"/>
<circle cx="232.6" cy="960.5" r="3.4"/>
<circle cx="236.23" cy="960.5" r="3.4"/>
<circle cx="239.87" cy="960.5" r="3.4"/>
<circle cx="243.5" cy="960.5" r="3.4"/>
<circle cx="221.4" cy="1045" r="3.4"/>
<circle cx="224.96" cy="1045" r="3.4"/>
<circle cx="228.52" cy="1045" r="3.4"/>
<circle cx="232.08" cy="1045" r="3.4"/>
<circle cx="235.64" cy="1045" r="3.4"/>
<circle cx="239.2" cy="1045" r="3.4"/>
<circle cx="233.2" cy="1129.5" r="3.4"/>
<path d="M465.1 775.2 L466.2 775.95 L466.95 776.7 L467.56 777.45 L468.13 778.2 L468.65 778.95 L469.16 779.7 L469.64 780.45 L470.09 781.2 L470.52 781.95 L470.92 782.7 L471.29 783.45 L471.63 784.2 L471.94 784.95 L472.21 785.7 L472.45 786.45 L472.64 787.2 L472.79 787.95 L472.89 788.7 L472.95 789.45 L472.98 790.2 L472.99 790.95 L472.99 791.7 L472.97 792.45 L472.94 793.2 L472.88 793.95 L472.78 794.7 L472.64 795.45 L472.46 796.2 L472.25 796.95 L472.01 797.7 L471.74 798.45 L471.45 799.2 L471.14 799.95 L470.81 800.7 L470.45 801.45 L470.06 802.2 L469.62 802.95 L469.14 803.7 L468.61 804.45 L468.04 805.2 L467.44 805.95 L466.82 806.7 L466.19 807.45 L465.55 808.2 L464.92 808.95 L464.28 809.7 L463.65 810.45 L463.01 811.2 L462.36 811.95 L461.7 812.7 L461.04 813.45 L460.38 814.2 L459.73 814.95 L459.1 815.7 L458.48 816.45 L457.89 817.2 L457.32 817.95 L456.77 818.7 L456.24 819.45 L455.71 820.2 L455.13 820.95 L454.56 821.7 L454.01 822.45 L453.49 823.2 L453.01 823.95 L452.55 824.7 L452.14 825.45 L451.76 826.2 L451.41 826.95 L451.08 827.7 L450.77 828.45 L450.48 829.2 L450.2 829.95 L449.95 830.7 L449.72 831.45 L449.53 832.2 L449.37 832.95 L449.26 833.7 L449.19 834.45 L449.15 835.2 L449.15 835.95 L449.18 836.7 L449.23 837.45 L449.29 838.2 L449.37 838.95 L449.46 839.7 L449.56 840.45 L449.68 841.2 L449.81 841.95 L449.95 842.7 L450.13 843.45 L450.34 844.2 L450.59 844.95 L450.89 845.7 L451.22 846.45 L451.6 847.2 L451.99 847.95 L452.39 848.7 L452.8 849.45 L453.2 850.2 L453.6 850.95 L453.98 851.7 L454.35 852.45 L454.71 853.2 L455.08 853.95 L455.44 854.7 L455.79 855.45 L456.1 856.2 L456.39 856.95 L456.68 857.7 L456.95 858.45 L457.21 859.2 L457.46 859.95 L457.7 860.7 L457.93 861.45 L458.15 862.2 L458.36 862.95 L458.57 863.7 L458.76 864.45 L458.94 865.2 L459.11 865.95 L459.27 866.7 L459.42 867.45 L459.55 868.2 L459.67 868.95 L459.78 869.7 L459.88 870.45 L459.97 871.2 L460.05 871.95 L460.11 872.7 L460.15 873.45 L460.18 874.2 L460.19 874.95 L460.2 875.7 L460.2 876.45 L460.19 877.2 L460.17 877.95 L460.13 878.7 L460.07 879.45 L459.97 880.2 L459.84 880.95 L459.67 881.7 L459.48 882.45 L459.26 883.2 L459.03 883.95 L458.78 884.7 L458.52 885.45 L458.25 886.2 L457.97 886.95 L457.67 887.7 L457.35 888.45 L457.01 889.2 L456.64 889.95 L456.26 890.7 L455.86 891.45 L455.4 892.2 L454.93 892.95 L454.47 893.7 L454.01 894.45 L453.55 895.2 L453.1 895.95 L452.64 896.7 L452.19 897.45 L451.74 898.2 L451.29 898.95 L450.84 899.7 L450.4 900.45 L449.98 901.2 L449.57 901.95 L449.17 902.7 L448.79 903.45 L448.42 904.2 L448.07 904.95 L447.72 905.7 L447.42 906.45 L447.14 907.2 L446.87 907.95 L446.61 908.7 L446.37 909.45 L446.14 910.2 L445.94 910.95 L445.75 911.7 L445.58 912.45 L445.41 913.2 L445.25 913.95 L445.11 914.7 L444.97 915.45 L444.84 916.2 L444.73 916.95 L444.63 917.7 L444.55 918.45 L444.48 919.2 L444.44 919.95 L444.41 920.7 L444.38 921.45 L444.36 922.2 L444.35 922.95 L444.34 923.7 L444.33 924.45 L444.32 925.2 L444.31 925.95 L444.31 926.7 L444.31 927.45 L444.31 928.2 L444.31 928.95 L444.32 929.7 L444.34 930.45 L444.35 931.2 L444.38 931.95 L444.41 932.7 L444.44 933.45 L444.47 934.2 L444.51 934.95 L444.54 935.7 L444.58 936.45 L444.62 937.2 L444.66 937.95 L444.7 938.7 L444.75 939.45 L444.79 940.2 L444.84 940.95 L444.89 941.7 L444.94 942.45 L444.98 943.2 L445.02 943.95 L445.07 944.7 L445.1 945.45 L445.14 946.2 L445.18 946.95 L445.21 947.7 L445.25 948.45 L445.28 949.2 L445.31 949.95 L445.34 950.7 L445.36 951.45 L445.37 952.2 L445.39 952.95 L445.39 953.7 L445.4 954.45 L445.4 955.2 L445.4 955.95 L445.4 956.7 L445.4 957.45 L445.4 958.2 L445.4 958.95 L445.4 959.7 L445.4 960.45 L445.39 961.2 L445.39 961.95 L445.37 962.7 L445.35 963.45 L445.31 964.2 L445.27 964.95 L445.21 965.7 L445.15 966.45 L445.09 967.2 L445.02 967.95 L444.95 968.7 L444.89 969.45 L444.82 970.2 L444.75 970.95 L444.68 971.7 L444.61 972.45 L444.54 973.2 L444.47 973.95 L444.4 974.7 L444.32 975.45 L444.25 976.2 L444.17 976.95 L444.1 977.7 L444.02 978.45 L443.95 979.2 L443.87 979.95 L443.8 980.7 L443.72 981.45 L443.64 982.2 L443.57 982.95 L443.49 983.7 L443.42 984.45 L443.35 985.2 L443.29 985.95 L443.23 986.7 L443.17 987.45 L443.11 988.2 L443.06 988.95 L443 989.7 L442.95 990.45 L442.9 991.2 L442.85 991.95 L442.81 992.7 L442.8 993.45 L442.8 994.2 L442.8 994.95 L442.8 995.7 L442.8 996.45 L442.8 997.2 L442.8 997.95 L442.8 998.7 L442.8 999.45 L442.8 1000.2 L442.8 1000.95 L442.8 1001.7 L442.8 1002.45 L442.8 1003.2 L442.8 1003.95 L442.8 1004.7 L442.8 1005.45 L442.8 1006.2 L442.8 1006.95 L442.8 1007.7 L442.8 1008.45 L442.8 1009.2 L442.8 1009.95 L442.8 1010.7 L442.8 1011.45 L442.8 1012.2 L442.8 1012.95 L442.8 1013.7 L442.8 1014.45 L442.8 1015.2 L442.8 1015.95 L442.8 1016.7 L442.8 1017.45 L442.8 1018.2 L442.8 1018.95 L442.8 1019.7 L442.8 1020.45 L442.8 1021.2 L442.8 1021.95 L442.8 1022.7 L442.8 1023.45 L442.8 1024.2 L442.8 1024.95 L442.8 1025.7 L442.8 1026.45 L442.8 1027.2 L442.8 1027.95 L442.8 1028.7 L442.81 1029.45 L442.82 1030.2 L442.83 1030.95 L442.84 1031.7 L442.84 1032.45 L442.85 1033.2 L442.86 1033.95 L442.87 1034.7 L442.87 1035.45 L442.88 1036.2 L442.88 1036.95 L442.89 1037.7 L442.89 1038.45 L442.89 1039.2 L442.9 1039.95 L442.9 1040.7 L442.9 1041.45 L442.9 1042.2 L442.9 1042.95 L442.9 1043.7 L442.89 1044.45 L442.89 1045.2 L442.89 1045.95 L442.88 1046.7 L442.88 1047.45 L442.87 1048.2 L442.87 1048.95 L442.86 1049.7 L442.86 1050.45 L442.85 1051.2 L442.84 1051.95 L442.83 1052.7 L442.83 1053.45 L442.82 1054.2 L442.81 1054.95 L442.8 1055.7 L442.8 1056.45 L442.8 1057.2 L442.8 1057.95 L442.8 1058.7 L442.8 1059.45 L442.8 1060.2 L442.8 1060.95 L442.8 1061.7 L442.8 1062.45 L442.8 1063.2 L442.8 1063.95 L442.8 1064.7 L442.8 1065.45 L442.8 1066.2 L442.8 1066.95 L442.8 1067.7 L442.8 1068.45 L442.8 1069.2 L442.8 1069.95 L442.8 1070.7 L442.8 1071.45 L442.8 1072.2 L442.8 1072.95 L442.8 1073.7 L442.8 1074.45 L442.8 1075.2 L442.8 1075.95 L442.8 1076.7 L442.8 1077.45 L442.8 1078.2 L442.8 1078.95 L442.8 1079.7 L442.8 1080.45 L442.8 1081.2 L442.8 1081.8 L442.8 1081.8 L442.8 1081.2 L442.8 1080.45 L442.8 1079.7 L442.8 1078.95 L442.8 1078.2 L442.8 1077.45 L442.8 1076.7 L442.8 1075.95 L442.8 1075.2 L442.8 1074.45 L442.8 1073.7 L442.8 1072.95 L442.8 1072.2 L442.8 1071.45 L442.8 1070.7 L442.8 1069.95 L442.8 1069.2 L442.8 1068.45 L442.8 1067.7 L442.8 1066.95 L442.8 1066.2 L442.8 1065.45 L442.8 1064.7 L442.8 1063.95 L442.8 1063.2 L442.8 1062.45 L442.8 1061.7 L442.8 1060.95 L442.8 1060.2 L442.8 1059.45 L442.8 1058.7 L442.8 1057.95 L442.8 1057.2 L442.8 1056.45 L442.8 1055.7 L442.79 1054.95 L442.78 1054.2 L442.77 1053.45 L442.77 1052.7 L442.76 1051.95 L442.75 1051.2 L442.74 1050.45 L442.74 1049.7 L442.73 1048.95 L442.73 1048.2 L442.72 1047.45 L442.72 1046.7 L442.71 1045.95 L442.71 1045.2 L442.71 1044.45 L442.7 1043.7 L442.7 1042.95 L442.7 1042.2 L442.7 1041.45 L442.7 1040.7 L442.7 1039.95 L442.71 1039.2 L442.71 1038.45 L442.71 1037.7 L442.72 1036.95 L442.72 1036.2 L442.73 1035.45 L442.73 1034.7 L442.74 1033.95 L442.75 1033.2 L442.76 1032.45 L442.76 1031.7 L442.77 1030.95 L442.78 1030.2 L442.79 1029.45 L442.8 1028.7 L442.8 1027.95 L442.8 1027.2 L442.8 1026.45 L442.8 1025.7 L442.8 1024.95 L442.8 1024.2 L442.8 1023.45 L442.8 1022.7 L442.8 1021.95 L442.8 1021.2 L442.8 1020.45 L442.8 1019.7 L442.8 1018.95 L442.8 1018.2 L442.8 1017.45 L442.8 1016.7 L442.8 1015.95 L442.8 1015.2 L442.8 1014.45 L442.8 1013.7 L442.8 1012.95 L442.8 1012.2 L442.8 1011.45 L442.8 1010.7 L442.8 1009.95 L442.8 1009.2 L442.8 1008.45 L442.8 1007.7 L442.8 1006.95 L442.8 1006.2 L442.8 1005.45 L442.8 1004.7 L442.8 1003.95 L442.8 1003.2 L442.8 1002.45 L442.8 1001.7 L442.8 1000.95 L442.8 1000.2 L442.8 999.45 L442.8 998.7 L442.8 997.95 L442.8 997.2 L442.8 996.45 L442.8 995.7 L442.8 994.95 L442.8 994.2 L442.8 993.45 L442.79 992.7 L442.75 991.95 L442.7 991.2 L442.65 990.45 L442.6 989.7 L442.54 988.95 L442.49 988.2 L442.43 987.45 L442.37 986.7 L442.31 985.95 L442.25 985.2 L442.18 984.45 L442.11 983.7 L442.03 982.95 L441.96 982.2 L441.88 981.45 L441.8 980.7 L441.73 979.95 L441.65 979.2 L441.58 978.45 L441.5 977.7 L441.43 976.95 L441.35 976.2 L441.28 975.45 L441.2 974.7 L441.13 973.95 L441.06 973.2 L440.99 972.45 L440.92 971.7 L440.85 970.95 L440.78 970.2 L440.71 969.45 L440.65 968.7 L440.58 967.95 L440.51 967.2 L440.45 966.45 L440.39 965.7 L440.33 964.95 L440.29 964.2 L440.25 963.45 L440.23 962.7 L440.21 961.95 L440.21 961.2 L440.2 960.45 L440.2 959.7 L440.2 958.95 L440.2 958.2 L440.2 957.45 L440.2 956.7 L440.2 955.95 L440.2 955.2 L440.2 954.45 L440.21 953.7 L440.21 952.95 L440.23 952.2 L440.24 951.45 L440.26 950.7 L440.29 949.95 L440.32 949.2 L440.35 948.45 L440.39 947.7 L440.42 946.95 L440.46 946.2 L440.5 945.45 L440.53 944.7 L440.58 943.95 L440.62 943.2 L440.66 942.45 L440.71 941.7 L440.76 940.95 L440.81 940.2 L440.85 939.45 L440.9 938.7 L440.94 937.95 L440.98 937.2 L441.02 936.45 L441.06 935.7 L441.09 934.95 L441.13 934.2 L441.16 933.45 L441.19 932.7 L441.22 931.95 L441.25 931.2 L441.26 930.45 L441.28 929.7 L441.29 928.95 L441.29 928.2 L441.29 927.45 L441.29 926.7 L441.29 925.95 L441.28 925.2 L441.27 924.45 L441.26 923.7 L441.25 922.95 L441.24 922.2 L441.22 921.45 L441.19 920.7 L441.16 919.95 L441.12 919.2 L441.05 918.45 L440.97 917.7 L440.87 916.95 L440.76 916.2 L440.63 915.45 L440.49 914.7 L440.35 913.95 L440.19 913.2 L440.02 912.45 L439.85 911.7 L439.66 910.95 L439.46 910.2 L439.23 909.45 L438.99 908.7 L438.73 907.95 L438.46 907.2 L438.18 906.45 L437.88 905.7 L437.53 904.95 L437.18 904.2 L436.81 903.45 L436.43 902.7 L436.03 901.95 L435.62 901.2 L435.2 900.45 L434.76 899.7 L434.31 898.95 L433.86 898.2 L433.41 897.45 L432.96 896.7 L432.5 895.95 L432.05 895.2 L431.59 894.45 L431.13 893.7 L430.67 892.95 L430.2 892.2 L429.74 891.45 L429.34 890.7 L428.96 889.95 L428.59 889.2 L428.25 888.45 L427.93 887.7 L427.63 886.95 L427.35 886.2 L427.08 885.45 L426.82 884.7 L426.57 883.95 L426.34 883.2 L426.12 882.45 L425.93 881.7 L425.76 880.95 L425.63 880.2 L425.53 879.45 L425.47 878.7 L425.43 877.95 L425.41 877.2 L425.4 876.45 L425.4 875.7 L425.41 874.95 L425.42 874.2 L425.45 873.45 L425.49 872.7 L425.55 871.95 L425.63 871.2 L425.72 870.45 L425.82 869.7 L425.93 868.95 L426.05 868.2 L426.18 867.45 L426.33 866.7 L426.49 865.95 L426.66 865.2 L426.84 864.45 L427.03 863.7 L427.24 862.95 L427.45 862.2 L427.67 861.45 L427.9 860.7 L428.14 859.95 L428.39 859.2 L428.65 858.45 L428.92 857.7 L429.21 856.95 L429.5 856.2 L429.81 855.45 L430.16 854.7 L430.52 853.95 L430.89 853.2 L431.25 852.45 L431.62 851.7 L432 850.95 L432.4 850.2 L432.8 849.45 L433.21 848.7 L433.61 847.95 L434 847.2 L434.38 846.45 L434.71 845.7 L435.01 844.95 L435.26 844.2 L435.47 843.45 L435.65 842.7 L435.79 841.95 L435.92 841.2 L436.04 840.45 L436.14 839.7 L436.23 838.95 L436.31 838.2 L436.37 837.45 L436.42 836.7 L436.45 835.95 L436.45 835.2 L436.41 834.45 L436.34 833.7 L436.23 832.95 L436.07 832.2 L435.88 831.45 L435.65 830.7 L435.4 829.95 L435.12 829.2 L434.83 828.45 L434.52 827.7 L434.19 826.95 L433.84 826.2 L433.46 825.45 L433.05 824.7 L432.59 823.95 L432.11 823.2 L431.59 822.45 L431.04 821.7 L430.47 820.95 L429.89 820.2 L429.36 819.45 L428.83 818.7 L428.28 817.95 L427.71 817.2 L427.12 816.45 L426.5 815.7 L425.87 814.95 L425.22 814.2 L424.56 813.45 L423.9 812.7 L423.24 811.95 L422.59 811.2 L421.95 810.45 L421.32 809.7 L420.68 808.95 L420.05 808.2 L419.41 807.45 L418.78 806.7 L418.16 805.95 L417.56 805.2 L416.99 804.45 L416.46 803.7 L415.98 802.95 L415.54 802.2 L415.15 801.45 L414.79 800.7 L414.46 799.95 L414.15 799.2 L413.86 798.45 L413.59 797.7 L413.35 796.95 L413.14 796.2 L412.96 795.45 L412.82 794.7 L412.72 793.95 L412.66 793.2 L412.63 792.45 L412.61 791.7 L412.61 790.95 L412.62 790.2 L412.65 789.45 L412.71 788.7 L412.81 787.95 L412.96 787.2 L413.15 786.45 L413.39 785.7 L413.66 784.95 L413.97 784.2 L414.31 783.45 L414.68 782.7 L415.08 781.95 L415.51 781.2 L415.96 780.45 L416.44 779.7 L416.95 778.95 L417.47 778.2 L418.04 777.45 L418.65 776.7 L419.4 775.95 L420.5 775.2 Z" fill="#B0D5E8" stroke="#000" stroke-width="2.2" stroke-linejoin="round"/>
<circle cx="432.6" cy="791.6" r="3.4"/>
<circle cx="436.1" cy="791.6" r="3.4"/>
<circle cx="439.6" cy="791.6" r="3.4"/>
<circle cx="443.1" cy="791.6" r="3.4"/>
<circle cx="446.6" cy="791.6" r="3.4"/>
<circle cx="450.1" cy="791.6" r="3.4"/>
<circle cx="453.6" cy="791.6" r="3.4"/>
<circle cx="431.3" cy="876" r="3.4"/>
<circle cx="434.98" cy="876" r="3.4"/>
<circle cx="438.66" cy="876" r="3.4"/>
<circle cx="442.34" cy="876" r="3.4"/>
<circle cx="446.02" cy="876" r="3.4"/>
<circle cx="449.7" cy="876" r="3.4"/>
<circle cx="439.7" cy="960.5" r="3.4"/>
<circle cx="442.9" cy="960.5" r="3.4"/>
<circle cx="446.1" cy="960.5" r="3.4"/>
<circle cx="447.6" cy="1045" r="3.4"/>
<path d="M679.9 775.2 L681.34 775.95 L682.35 776.7 L683.2 777.45 L683.98 778.2 L684.72 778.95 L685.44 779.7 L686.12 780.45 L686.78 781.2 L687.41 781.95 L688.01 782.7 L688.58 783.45 L689.12 784.2 L689.63 784.95 L690.1 785.7 L690.53 786.45 L690.9 787.2 L691.19 787.95 L691.38 788.7 L691.5 789.45 L691.56 790.2 L691.58 790.95 L691.58 791.7 L691.55 792.45 L691.48 793.2 L691.36 793.95 L691.17 794.7 L690.91 795.45 L690.58 796.2 L690.18 796.95 L689.72 797.7 L689.23 798.45 L688.7 799.2 L688.14 799.95 L687.57 800.7 L686.96 801.45 L686.32 802.2 L685.63 802.95 L684.89 803.7 L684.09 804.45 L683.25 805.2 L682.38 805.95 L681.49 806.7 L680.59 807.45 L679.69 808.2 L678.81 808.95 L677.94 809.7 L677.08 810.45 L676.22 811.2 L675.36 811.95 L674.51 812.7 L673.66 813.45 L672.81 814.2 L671.98 814.95 L671.17 815.7 L670.38 816.45 L669.62 817.2 L668.88 817.95 L668.17 818.7 L667.47 819.45 L666.79 820.2 L666.12 820.95 L665.47 821.7 L664.81 822.45 L664.12 823.2 L663.46 823.95 L662.84 824.7 L662.26 825.45 L661.72 826.2 L661.21 826.95 L660.72 827.7 L660.25 828.45 L659.79 829.2 L659.36 829.95 L658.96 830.7 L658.6 831.45 L658.29 832.2 L658.04 832.95 L657.85 833.7 L657.73 834.45 L657.67 835.2 L657.65 835.95 L657.67 836.7 L657.71 837.45 L657.77 838.2 L657.85 838.95 L657.94 839.7 L658.04 840.45 L658.16 841.2 L658.3 841.95 L658.46 842.7 L658.67 843.45 L658.94 844.2 L659.27 844.95 L659.69 845.7 L660.17 846.45 L660.7 847.2 L661.28 847.95 L661.89 848.7 L662.51 849.45 L663.13 850.2 L663.75 850.95 L664.37 851.7 L664.98 852.45 L665.54 853.2 L666.08 853.95 L666.63 854.7 L667.19 855.45 L667.74 856.2 L668.28 856.95 L668.8 857.7 L669.3 858.45 L669.78 859.2 L670.22 859.95 L670.65 860.7 L671.05 861.45 L671.44 862.2 L671.81 862.95 L672.17 863.7 L672.51 864.45 L672.84 865.2 L673.14 865.95 L673.42 866.7 L673.67 867.45 L673.91 868.2 L674.13 868.95 L674.34 869.7 L674.54 870.45 L674.72 871.2 L674.9 871.95 L675.06 872.7 L675.21 873.45 L675.33 874.2 L675.42 874.95 L675.49 875.7 L675.52 876.45 L675.51 877.2 L675.47 877.95 L675.38 878.7 L675.27 879.45 L675.12 880.2 L674.95 880.95 L674.76 881.7 L674.54 882.45 L674.3 883.2 L674.03 883.95 L673.72 884.7 L673.37 885.45 L672.96 886.2 L672.52 886.95 L672.04 887.7 L671.54 888.45 L671.01 889.2 L670.46 889.95 L669.89 890.7 L669.29 891.45 L668.66 892.2 L668 892.95 L667.33 893.7 L666.65 894.45 L665.98 895.2 L665.33 895.95 L664.66 896.7 L663.99 897.45 L663.36 898.2 L662.77 898.95 L662.21 899.7 L661.67 900.45 L661.15 901.2 L660.64 901.95 L660.15 902.7 L659.68 903.45 L659.2 904.2 L658.74 904.95 L658.28 905.7 L657.83 906.45 L657.39 907.2 L656.98 907.95 L656.64 908.7 L656.33 909.45 L656.05 910.2 L655.8 910.95 L655.58 911.7 L655.39 912.45 L655.21 913.2 L655.05 913.95 L654.9 914.7 L654.77 915.45 L654.65 916.2 L654.54 916.95 L654.44 917.7 L654.35 918.45 L654.27 919.2 L654.2 919.95 L654.13 920.7 L654.07 921.45 L654.01 922.2 L653.98 922.95 L653.95 923.7 L653.95 924.45 L653.96 925.2 L654 925.95 L654.06 926.7 L654.13 927.45 L654.21 928.2 L654.3 928.95 L654.4 929.7 L654.51 930.45 L654.62 931.2 L654.74 931.95 L654.87 932.7 L655 933.45 L655.13 934.2 L655.26 934.95 L655.38 935.7 L655.51 936.45 L655.62 937.2 L655.73 937.95 L655.83 938.7 L655.92 939.45 L656.01 940.2 L656.1 940.95 L656.18 941.7 L656.26 942.45 L656.34 943.2 L656.42 943.95 L656.49 944.7 L656.56 945.45 L656.63 946.2 L656.69 946.95 L656.75 947.7 L656.8 948.45 L656.86 949.2 L656.91 949.95 L656.95 950.7 L657 951.45 L657.05 952.2 L657.1 952.95 L657.15 953.7 L657.2 954.45 L657.25 955.2 L657.29 955.95 L657.33 956.7 L657.36 957.45 L657.39 958.2 L657.41 958.95 L657.43 959.7 L657.44 960.45 L657.43 961.2 L657.42 961.95 L657.38 962.7 L657.33 963.45 L657.27 964.2 L657.18 964.95 L657.08 965.7 L656.98 966.45 L656.87 967.2 L656.76 967.95 L656.65 968.7 L656.53 969.45 L656.4 970.2 L656.28 970.95 L656.16 971.7 L656.04 972.45 L655.91 973.2 L655.78 973.95 L655.64 974.7 L655.49 975.45 L655.34 976.2 L655.19 976.95 L655.03 977.7 L654.86 978.45 L654.7 979.2 L654.54 979.95 L654.38 980.7 L654.22 981.45 L654.07 982.2 L653.92 982.95 L653.78 983.7 L653.65 984.45 L653.51 985.2 L653.38 985.95 L653.25 986.7 L653.12 987.45 L653 988.2 L652.87 988.95 L652.75 989.7 L652.64 990.45 L652.53 991.2 L652.42 991.95 L652.32 992.7 L652.23 993.45 L652.14 994.2 L652.1 994.95 L652.1 995.7 L652.1 996.45 L652.1 997.2 L652.1 997.95 L652.1 998.7 L652.1 999.45 L652.1 1000.2 L652.1 1000.95 L652.1 1001.7 L652.1 1002.45 L652.1 1003.2 L652.1 1003.95 L652.1 1004.7 L652.1 1005.45 L652.1 1006.2 L652.1 1006.95 L652.1 1007.7 L652.1 1008.45 L652.1 1009.2 L652.1 1009.95 L652.1 1010.7 L652.1 1011.45 L652.1 1012.2 L652.1 1012.3 L652.1 1012.3 L652.1 1012.2 L652.1 1011.45 L652.1 1010.7 L652.1 1009.95 L652.1 1009.2 L652.1 1008.45 L652.1 1007.7 L652.1 1006.95 L652.1 1006.2 L652.1 1005.45 L652.1 1004.7 L652.1 1003.95 L652.1 1003.2 L652.1 1002.45 L652.1 1001.7 L652.1 1000.95 L652.1 1000.2 L652.1 999.45 L652.1 998.7 L652.1 997.95 L652.1 997.2 L652.1 996.45 L652.1 995.7 L652.1 994.95 L652.06 994.2 L651.97 993.45 L651.88 992.7 L651.78 991.95 L651.67 991.2 L651.56 990.45 L651.45 989.7 L651.33 988.95 L651.2 988.2 L651.08 987.45 L650.95 986.7 L650.82 985.95 L650.69 985.2 L650.55 984.45 L650.42 983.7 L650.28 982.95 L650.13 982.2 L649.98 981.45 L649.82 980.7 L649.66 979.95 L649.5 979.2 L649.34 978.45 L649.17 977.7 L649.01 976.95 L648.86 976.2 L648.71 975.45 L648.56 974.7 L648.42 973.95 L648.29 973.2 L648.16 972.45 L648.04 971.7 L647.92 970.95 L647.8 970.2 L647.67 969.45 L647.55 968.7 L647.44 967.95 L647.33 967.2 L647.22 966.45 L647.12 965.7 L647.02 964.95 L646.93 964.2 L646.87 963.45 L646.82 962.7 L646.78 961.95 L646.77 961.2 L646.76 960.45 L646.77 959.7 L646.79 958.95 L646.81 958.2 L646.84 957.45 L646.87 956.7 L646.91 955.95 L646.95 955.2 L647 954.45 L647.05 953.7 L647.1 952.95 L647.15 952.2 L647.2 951.45 L647.25 950.7 L647.29 949.95 L647.34 949.2 L647.4 948.45 L647.45 947.7 L647.51 946.95 L647.57 946.2 L647.64 945.45 L647.71 944.7 L647.78 943.95 L647.86 943.2 L647.94 942.45 L648.02 941.7 L648.1 940.95 L648.19 940.2 L648.28 939.45 L648.37 938.7 L648.47 937.95 L648.58 937.2 L648.69 936.45 L648.82 935.7 L648.94 934.95 L649.07 934.2 L649.2 933.45 L649.33 932.7 L649.46 931.95 L649.58 931.2 L649.69 930.45 L649.8 929.7 L649.9 928.95 L649.99 928.2 L650.07 927.45 L650.14 926.7 L650.2 925.95 L650.24 925.2 L650.25 924.45 L650.25 923.7 L650.22 922.95 L650.19 922.2 L650.13 921.45 L650.07 920.7 L650 919.95 L649.93 919.2 L649.85 918.45 L649.76 917.7 L649.66 916.95 L649.55 916.2 L649.43 915.45 L649.3 914.7 L649.15 913.95 L648.99 913.2 L648.81 912.45 L648.62 911.7 L648.4 910.95 L648.15 910.2 L647.87 909.45 L647.56 908.7 L647.22 907.95 L646.81 907.2 L646.37 906.45 L645.92 905.7 L645.46 904.95 L645 904.2 L644.52 903.45 L644.05 902.7 L643.56 901.95 L643.05 901.2 L642.53 900.45 L641.99 899.7 L641.43 898.95 L640.84 898.2 L640.21 897.45 L639.54 896.7 L638.87 895.95 L638.22 895.2 L637.55 894.45 L636.87 893.7 L636.2 892.95 L635.54 892.2 L634.91 891.45 L634.31 890.7 L633.74 889.95 L633.19 889.2 L632.66 888.45 L632.16 887.7 L631.68 886.95 L631.24 886.2 L630.83 885.45 L630.48 884.7 L630.17 883.95 L629.9 883.2 L629.66 882.45 L629.44 881.7 L629.25 880.95 L629.08 880.2 L628.93 879.45 L628.82 878.7 L628.73 877.95 L628.69 877.2 L628.68 876.45 L628.71 875.7 L628.78 874.95 L628.87 874.2 L628.99 873.45 L629.14 872.7 L629.3 871.95 L629.48 871.2 L629.66 870.45 L629.86 869.7 L630.07 868.95 L630.29 868.2 L630.53 867.45 L630.78 866.7 L631.06 865.95 L631.36 865.2 L631.69 864.45 L632.03 863.7 L632.39 862.95 L632.76 862.2 L633.15 861.45 L633.55 860.7 L633.98 859.95 L634.42 859.2 L634.9 858.45 L635.4 857.7 L635.92 856.95 L636.46 856.2 L637.01 855.45 L637.57 854.7 L638.12 853.95 L638.66 853.2 L639.22 852.45 L639.83 851.7 L640.45 850.95 L641.07 850.2 L641.69 849.45 L642.31 848.7 L642.92 847.95 L643.5 847.2 L644.03 846.45 L644.51 845.7 L644.93 844.95 L645.26 844.2 L645.53 843.45 L645.74 842.7 L645.9 841.95 L646.04 841.2 L646.16 840.45 L646.26 839.7 L646.35 838.95 L646.43 838.2 L646.49 837.45 L646.53 836.7 L646.55 835.95 L646.53 835.2 L646.47 834.45 L646.35 833.7 L646.16 832.95 L645.91 832.2 L645.6 831.45 L645.24 830.7 L644.84 829.95 L644.41 829.2 L643.95 828.45 L643.48 827.7 L642.99 826.95 L642.48 826.2 L641.94 825.45 L641.36 824.7 L640.74 823.95 L640.08 823.2 L639.39 822.45 L638.73 821.7 L638.08 820.95 L637.41 820.2 L636.73 819.45 L636.03 818.7 L635.32 817.95 L634.58 817.2 L633.82 816.45 L633.03 815.7 L632.22 814.95 L631.39 814.2 L630.54 813.45 L629.69 812.7 L628.84 811.95 L627.98 811.2 L627.12 810.45 L626.26 809.7 L625.39 808.95 L624.51 808.2 L623.61 807.45 L622.71 806.7 L621.82 805.95 L620.95 805.2 L620.11 804.45 L619.31 803.7 L618.57 802.95 L617.88 802.2 L617.24 801.45 L616.63 800.7 L616.06 799.95 L615.5 799.2 L614.97 798.45 L614.48 797.7 L614.02 796.95 L613.62 796.2 L613.29 795.45 L613.03 794.7 L612.84 793.95 L612.72 793.2 L612.65 792.45 L612.62 791.7 L612.62 790.95 L612.64 790.2 L612.7 789.45 L612.82 788.7 L613.01 787.95 L613.3 787.2 L613.67 786.45 L614.1 785.7 L614.57 784.95 L615.08 784.2 L615.62 783.45 L616.19 782.7 L616.79 781.95 L617.42 781.2 L618.08 780.45 L618.76 779.7 L619.48 778.95 L620.22 778.2 L621 777.45 L621.85 776.7 L622.86 775.95 L624.3 775.2 Z" fill="#BEB5E1" stroke="#000" stroke-width="2.2" stroke-linejoin="round"/>
<circle cx="641.4" cy="791.6" r="3.4"/>
<circle cx="644.66" cy="791.6" r="3.4"/>
<circle cx="647.91" cy="791.6" r="3.4"/>
<circle cx="651.17" cy="791.6" r="3.4"/>
<circle cx="654.43" cy="791.6" r="3.4"/>
<circle cx="657.69" cy="791.6" r="3.4"/>
<circle cx="660.94" cy="791.6" r="3.4"/>
<circle cx="664.2" cy="791.6" r="3.4"/>
<circle cx="644" cy="876" r="3.4"/>
<circle cx="647.23" cy="876" r="3.4"/>
<circle cx="650.47" cy="876" r="3.4"/>
<circle cx="653.7" cy="876" r="3.4"/>
<circle cx="656.93" cy="876" r="3.4"/>
<circle cx="660.17" cy="876" r="3.4"/>
<circle cx="663.4" cy="876" r="3.4"/>
<circle cx="644" cy="960.5" r="3.4"/>
<circle cx="647.63" cy="960.5" r="3.4"/>
<circle cx="651.27" cy="960.5" r="3.4"/>
<circle cx="654.9" cy="960.5" r="3.4"/>
<line x1="86.5" y1="706" x2="86.5" y2="1214.2" stroke="#000" stroke-width="2"/>
<line x1="76.5" y1="1214" x2="86.5" y2="1214" stroke="#000" stroke-width="2"/>
<line x1="76.5" y1="1045" x2="86.5" y2="1045" stroke="#000" stroke-width="2"/>
<line x1="76.5" y1="876" x2="86.5" y2="876" stroke="#000" stroke-width="2"/>
<line x1="76.5" y1="707" x2="86.5" y2="707" stroke="#000" stroke-width="2"/>
<line x1="81.3" y1="1129.5" x2="86.5" y2="1129.5" stroke="#000" stroke-width="2"/>
<line x1="81.3" y1="960.5" x2="86.5" y2="960.5" stroke="#000" stroke-width="2"/>
<line x1="81.3" y1="791.5" x2="86.5" y2="791.5" stroke="#000" stroke-width="2"/>
<text x="68.9" y="1219.8" text-anchor="end" font-size="22">0</text>
<text x="68.9" y="1050.8" text-anchor="end" font-size="22">2</text>
<text x="68.9" y="881.8" text-anchor="end" font-size="22">4</text>
<text x="68.9" y="712.8" text-anchor="end" font-size="22">6</text>
<line x1="76.7" y1="1213.2" x2="716" y2="1213.2" stroke="#000" stroke-width="2"/>
<line x1="191" y1="1213.2" x2="191" y2="1222.7" stroke="#000" stroke-width="2"/>
<line x1="401" y1="1213.2" x2="401" y2="1222.7" stroke="#000" stroke-width="2"/>
<line x1="610.2" y1="1213.2" x2="610.2" y2="1222.7" stroke="#000" stroke-width="2"/>
<text x="191.9" y="1246.7" text-anchor="middle" font-size="21.4">YouTube</text>
<text x="401" y="1246.7" text-anchor="middle" font-size="21.4">Bilibili</text>
<text x="610.5" y="1246.7" text-anchor="middle" font-size="21.4">TikTok</text>
<text x="392.4" y="1302.4" text-anchor="middle" font-size="27.1">GQS</text>
<text x="48" y="960.7" text-anchor="middle" font-size="26.5" transform="rotate(-90 48 960.7)">Range</text>
<text x="6.8" y="700.6" text-anchor="start" font-size="48.5" font-weight="bold">C</text>
<line x1="968" y1="819.9" x2="968" y2="886.68" stroke="#303030" stroke-width="1.6"/>
<line x1="952" y1="819.9" x2="984" y2="819.9" stroke="#303030" stroke-width="1.7"/>
<line x1="968" y1="975.72" x2="968" y2="1064.76" stroke="#303030" stroke-width="1.6"/>
<line x1="952" y1="1064.76" x2="984" y2="1064.76" stroke="#303030" stroke-width="1.7"/>
<rect x="936" y="886.68" width="64" height="89.04" fill="#E3726E" stroke="#383838" stroke-width="1.6"/>
<line x1="1175.6" y1="797.64" x2="1175.6" y2="908.94" stroke="#303030" stroke-width="1.6"/>
<line x1="1159.6" y1="797.64" x2="1191.6" y2="797.64" stroke="#303030" stroke-width="1.7"/>
<line x1="1175.6" y1="975.72" x2="1175.6" y2="1064.76" stroke="#303030" stroke-width="1.6"/>
<line x1="1159.6" y1="1064.76" x2="1191.6" y2="1064.76" stroke="#303030" stroke-width="1.7"/>
<rect x="1143.6" y="908.94" width="64" height="66.78" fill="#B0D5E8" stroke="#383838" stroke-width="1.6"/>
<line x1="1382.5" y1="886.68" x2="1382.5" y2="931.2" stroke="#303030" stroke-width="1.6"/>
<line x1="1366.5" y1="886.68" x2="1398.5" y2="886.68" stroke="#303030" stroke-width="1.7"/>
<line x1="1382.5" y1="975.72" x2="1382.5" y2="1153.8" stroke="#303030" stroke-width="1.6"/>
<line x1="1366.5" y1="1153.8" x2="1398.5" y2="1153.8" stroke="#303030" stroke-width="1.7"/>
<rect x="1350.5" y="931.2" width="64" height="44.52" fill="#BEB5E1" stroke="#383838" stroke-width="1.6"/>
<path d="M1050.9 763.4 L1050.9 764.15 L1050.9 764.9 L1050.9 765.65 L1050.9 766.4 L1050.9 767.15 L1050.9 767.9 L1050.9 768.65 L1050.9 769.4 L1050.9 770.15 L1050.9 770.9 L1050.9 771.65 L1050.9 772.4 L1050.9 773.15 L1050.9 773.9 L1050.9 774.65 L1050.97 775.4 L1051.04 776.15 L1051.12 776.9 L1051.21 777.65 L1051.29 778.4 L1051.39 779.15 L1051.49 779.9 L1051.6 780.65 L1051.71 781.4 L1051.83 782.15 L1051.96 782.9 L1052.1 783.65 L1052.25 784.4 L1052.4 785.15 L1052.55 785.9 L1052.71 786.65 L1052.87 787.4 L1053.03 788.15 L1053.2 788.9 L1053.37 789.65 L1053.54 790.4 L1053.72 791.15 L1053.91 791.9 L1054.1 792.65 L1054.29 793.4 L1054.49 794.15 L1054.69 794.9 L1054.89 795.65 L1055.1 796.4 L1055.3 797.15 L1055.51 797.9 L1055.73 798.65 L1055.97 799.4 L1056.22 800.15 L1056.48 800.9 L1056.74 801.65 L1057 802.4 L1057.27 803.15 L1057.54 803.9 L1057.8 804.65 L1058.07 805.4 L1058.34 806.15 L1058.62 806.9 L1058.89 807.65 L1059.17 808.4 L1059.45 809.15 L1059.73 809.9 L1060.01 810.65 L1060.29 811.4 L1060.57 812.15 L1060.86 812.9 L1061.15 813.65 L1061.43 814.4 L1061.72 815.15 L1062.02 815.9 L1062.31 816.65 L1062.61 817.4 L1062.9 818.15 L1063.19 818.9 L1063.49 819.65 L1063.78 820.4 L1064.05 821.15 L1064.3 821.9 L1064.54 822.65 L1064.79 823.4 L1065.03 824.15 L1065.27 824.9 L1065.51 825.65 L1065.75 826.4 L1065.99 827.15 L1066.23 827.9 L1066.47 828.65 L1066.71 829.4 L1066.95 830.15 L1067.19 830.9 L1067.43 831.65 L1067.67 832.4 L1067.92 833.15 L1068.16 833.9 L1068.4 834.65 L1068.64 835.4 L1068.89 836.15 L1069.14 836.9 L1069.39 837.65 L1069.64 838.4 L1069.9 839.15 L1070.16 839.9 L1070.43 840.65 L1070.7 841.4 L1070.98 842.15 L1071.25 842.9 L1071.52 843.65 L1071.79 844.4 L1072.06 845.15 L1072.32 845.9 L1072.57 846.65 L1072.82 847.4 L1073.06 848.15 L1073.3 848.9 L1073.54 849.65 L1073.77 850.4 L1074 851.15 L1074.22 851.9 L1074.44 852.65 L1074.65 853.4 L1074.86 854.15 L1075.06 854.9 L1075.25 855.65 L1075.44 856.4 L1075.63 857.15 L1075.81 857.9 L1075.99 858.65 L1076.15 859.4 L1076.32 860.15 L1076.47 860.9 L1076.62 861.65 L1076.76 862.4 L1076.9 863.15 L1077.03 863.9 L1077.15 864.65 L1077.27 865.4 L1077.38 866.15 L1077.49 866.9 L1077.6 867.65 L1077.69 868.4 L1077.79 869.15 L1077.88 869.9 L1077.97 870.65 L1078.05 871.4 L1078.13 872.15 L1078.21 872.9 L1078.28 873.65 L1078.34 874.4 L1078.4 875.15 L1078.45 875.9 L1078.49 876.65 L1078.52 877.4 L1078.55 878.15 L1078.58 878.9 L1078.6 879.65 L1078.62 880.4 L1078.64 881.15 L1078.66 881.9 L1078.67 882.65 L1078.68 883.4 L1078.69 884.15 L1078.69 884.9 L1078.69 885.65 L1078.69 886.4 L1078.69 887.15 L1078.68 887.9 L1078.68 888.65 L1078.67 889.4 L1078.66 890.15 L1078.65 890.9 L1078.63 891.65 L1078.62 892.4 L1078.6 893.15 L1078.58 893.9 L1078.55 894.65 L1078.51 895.4 L1078.47 896.15 L1078.43 896.9 L1078.38 897.65 L1078.33 898.4 L1078.28 899.15 L1078.22 899.9 L1078.18 900.65 L1078.13 901.4 L1078.08 902.15 L1078.03 902.9 L1077.99 903.65 L1077.94 904.4 L1077.9 905.15 L1077.86 905.9 L1077.82 906.65 L1077.78 907.4 L1077.76 908.15 L1077.74 908.9 L1077.72 909.65 L1077.72 910.4 L1077.73 911.15 L1077.76 911.9 L1077.79 912.65 L1077.83 913.4 L1077.88 914.15 L1077.94 914.9 L1078 915.65 L1078.07 916.4 L1078.15 917.15 L1078.24 917.9 L1078.34 918.65 L1078.45 919.4 L1078.58 920.15 L1078.74 920.9 L1078.91 921.65 L1079.09 922.4 L1079.3 923.15 L1079.51 923.9 L1079.73 924.65 L1079.95 925.4 L1080.18 926.15 L1080.41 926.9 L1080.64 927.65 L1080.89 928.4 L1081.14 929.15 L1081.39 929.9 L1081.66 930.65 L1081.92 931.4 L1082.19 932.15 L1082.46 932.9 L1082.72 933.65 L1082.98 934.4 L1083.24 935.15 L1083.49 935.9 L1083.74 936.65 L1083.99 937.4 L1084.23 938.15 L1084.48 938.9 L1084.72 939.65 L1084.95 940.4 L1085.18 941.15 L1085.4 941.9 L1085.62 942.65 L1085.83 943.4 L1086.04 944.15 L1086.24 944.9 L1086.44 945.65 L1086.63 946.4 L1086.82 947.15 L1087 947.9 L1087.18 948.65 L1087.35 949.4 L1087.51 950.15 L1087.67 950.9 L1087.82 951.65 L1087.97 952.4 L1088.11 953.15 L1088.25 953.9 L1088.38 954.65 L1088.51 955.4 L1088.64 956.15 L1088.75 956.9 L1088.86 957.65 L1088.96 958.4 L1089.05 959.15 L1089.14 959.9 L1089.21 960.65 L1089.28 961.4 L1089.34 962.15 L1089.4 962.9 L1089.45 963.65 L1089.5 964.4 L1089.53 965.15 L1089.56 965.9 L1089.57 966.65 L1089.57 967.4 L1089.56 968.15 L1089.53 968.9 L1089.49 969.65 L1089.44 970.4 L1089.39 971.15 L1089.33 971.9 L1089.26 972.65 L1089.18 973.4 L1089.09 974.15 L1088.99 974.9 L1088.87 975.65 L1088.74 976.4 L1088.59 977.15 L1088.43 977.9 L1088.26 978.65 L1088.08 979.4 L1087.89 980.15 L1087.7 980.9 L1087.49 981.65 L1087.27 982.4 L1087.03 983.15 L1086.78 983.9 L1086.51 984.65 L1086.22 985.4 L1085.92 986.15 L1085.61 986.9 L1085.29 987.65 L1084.96 988.4 L1084.62 989.15 L1084.27 989.9 L1083.92 990.65 L1083.55 991.4 L1083.17 992.15 L1082.77 992.9 L1082.37 993.65 L1081.95 994.4 L1081.53 995.15 L1081.1 995.9 L1080.67 996.65 L1080.24 997.4 L1079.8 998.15 L1079.36 998.9 L1078.92 999.65 L1078.48 1000.4 L1078.03 1001.15 L1077.58 1001.9 L1077.13 1002.65 L1076.67 1003.4 L1076.22 1004.15 L1075.76 1004.9 L1075.3 1005.65 L1074.84 1006.4 L1074.38 1007.15 L1073.93 1007.9 L1073.47 1008.65 L1073.01 1009.4 L1072.54 1010.15 L1072.08 1010.9 L1071.63 1011.65 L1071.17 1012.4 L1070.72 1013.15 L1070.27 1013.9 L1069.83 1014.65 L1069.39 1015.4 L1068.96 1016.15 L1068.53 1016.9 L1068.1 1017.65 L1067.68 1018.4 L1067.26 1019.15 L1066.85 1019.9 L1066.44 1020.65 L1066.04 1021.4 L1065.65 1022.15 L1065.27 1022.9 L1064.89 1023.65 L1064.52 1024.4 L1064.16 1025.15 L1063.8 1025.9 L1063.39 1026.65 L1063 1027.4 L1062.61 1028.15 L1062.23 1028.9 L1061.86 1029.65 L1061.5 1030.4 L1061.14 1031.15 L1060.79 1031.9 L1060.44 1032.65 L1060.1 1033.4 L1059.76 1034.15 L1059.43 1034.9 L1059.11 1035.65 L1058.79 1036.4 L1058.48 1037.15 L1058.19 1037.9 L1057.91 1038.65 L1057.64 1039.4 L1057.38 1040.15 L1057.13 1040.9 L1056.89 1041.65 L1056.67 1042.4 L1056.45 1043.15 L1056.24 1043.9 L1056.03 1044.65 L1055.84 1045.4 L1055.68 1046.15 L1055.53 1046.9 L1055.38 1047.65 L1055.25 1048.4 L1055.13 1049.15 L1055.01 1049.9 L1054.9 1050.65 L1054.79 1051.4 L1054.69 1052.15 L1054.59 1052.9 L1054.5 1053.65 L1054.41 1054.4 L1054.32 1055.15 L1054.23 1055.9 L1054.14 1056.65 L1054.05 1057.4 L1053.97 1058.15 L1053.88 1058.9 L1053.8 1059.65 L1053.72 1060.4 L1053.63 1061.15 L1053.55 1061.9 L1053.48 1062.65 L1053.4 1063.4 L1053.32 1064.15 L1053.25 1064.9 L1053.18 1065.65 L1053.12 1066.4 L1053.05 1067.15 L1052.99 1067.9 L1052.93 1068.65 L1052.87 1069.4 L1052.81 1070.15 L1052.75 1070.9 L1052.69 1071.65 L1052.62 1072.4 L1052.54 1073.15 L1052.46 1073.9 L1052.36 1074.65 L1052.26 1075.4 L1052.16 1076.15 L1052.05 1076.9 L1051.95 1077.65 L1051.85 1078.4 L1051.76 1079.15 L1051.68 1079.9 L1051.6 1080.65 L1051.53 1081.4 L1051.47 1082.15 L1051.41 1082.9 L1051.35 1083.65 L1051.29 1084.4 L1051.24 1085.15 L1051.19 1085.9 L1051.14 1086.65 L1051.09 1087.4 L1051.04 1088.15 L1050.99 1088.9 L1050.95 1089.65 L1050.91 1090.4 L1050.9 1091.15 L1050.9 1091.9 L1050.9 1092.65 L1050.9 1093.4 L1050.9 1094.15 L1050.9 1094.9 L1050.9 1095.65 L1050.9 1096.4 L1050.9 1097.15 L1050.9 1097.9 L1050.9 1098.65 L1050.9 1099.4 L1050.9 1100.15 L1050.9 1100.9 L1050.9 1101.65 L1050.9 1102.4 L1050.9 1103.15 L1050.9 1103.9 L1050.9 1104.65 L1050.9 1105.4 L1050.9 1106.15 L1050.9 1106.9 L1050.9 1107.65 L1050.9 1108.4 L1050.9 1109.15 L1050.9 1109.9 L1050.9 1110.65 L1050.9 1111.4 L1050.9 1112.15 L1050.9 1112.9 L1050.9 1113.3 L1050.9 1113.3 L1050.9 1112.9 L1050.9 1112.15 L1050.9 1111.4 L1050.9 1110.65 L1050.9 1109.9 L1050.9 1109.15 L1050.9 1108.4 L1050.9 1107.65 L1050.9 1106.9 L1050.9 1106.15 L1050.9 1105.4 L1050.9 1104.65 L1050.9 1103.9 L1050.9 1103.15 L1050.9 1102.4 L1050.9 1101.65 L1050.9 1100.9 L1050.9 1100.15 L1050.9 1099.4 L1050.9 1098.65 L1050.9 1097.9 L1050.9 1097.15 L1050.9 1096.4 L1050.9 1095.65 L1050.9 1094.9 L1050.9 1094.15 L1050.9 1093.4 L1050.9 1092.65 L1050.9 1091.9 L1050.9 1091.15 L1050.89 1090.4 L1050.85 1089.65 L1050.81 1088.9 L1050.76 1088.15 L1050.71 1087.4 L1050.66 1086.65 L1050.61 1085.9 L1050.56 1085.15 L1050.51 1084.4 L1050.45 1083.65 L1050.39 1082.9 L1050.33 1082.15 L1050.27 1081.4 L1050.2 1080.65 L1050.12 1079.9 L1050.04 1079.15 L1049.95 1078.4 L1049.85 1077.65 L1049.75 1076.9 L1049.64 1076.15 L1049.54 1075.4 L1049.44 1074.65 L1049.34 1073.9 L1049.26 1073.15 L1049.18 1072.4 L1049.11 1071.65 L1049.05 1070.9 L1048.99 1070.15 L1048.93 1069.4 L1048.87 1068.65 L1048.81 1067.9 L1048.75 1067.15 L1048.68 1066.4 L1048.62 1065.65 L1048.55 1064.9 L1048.48 1064.15 L1048.4 1063.4 L1048.32 1062.65 L1048.25 1061.9 L1048.17 1061.15 L1048.08 1060.4 L1048 1059.65 L1047.92 1058.9 L1047.83 1058.15 L1047.75 1057.4 L1047.66 1056.65 L1047.57 1055.9 L1047.48 1055.15 L1047.39 1054.4 L1047.3 1053.65 L1047.21 1052.9 L1047.11 1052.15 L1047.01 1051.4 L1046.9 1050.65 L1046.79 1049.9 L1046.67 1049.15 L1046.55 1048.4 L1046.42 1047.65 L1046.27 1046.9 L1046.12 1046.15 L1045.96 1045.4 L1045.77 1044.65 L1045.56 1043.9 L1045.35 1043.15 L1045.13 1042.4 L1044.91 1041.65 L1044.67 1040.9 L1044.42 1040.15 L1044.16 1039.4 L1043.89 1038.65 L1043.61 1037.9 L1043.32 1037.15 L1043.01 1036.4 L1042.69 1035.65 L1042.37 1034.9 L1042.04 1034.15 L1041.7 1033.4 L1041.36 1032.65 L1041.01 1031.9 L1040.66 1031.15 L1040.3 1030.4 L1039.94 1029.65 L1039.57 1028.9 L1039.19 1028.15 L1038.8 1027.4 L1038.41 1026.65 L1038 1025.9 L1037.64 1025.15 L1037.28 1024.4 L1036.91 1023.65 L1036.53 1022.9 L1036.15 1022.15 L1035.76 1021.4 L1035.36 1020.65 L1034.95 1019.9 L1034.54 1019.15 L1034.12 1018.4 L1033.7 1017.65 L1033.27 1016.9 L1032.84 1016.15 L1032.41 1015.4 L1031.97 1014.65 L1031.53 1013.9 L1031.08 1013.15 L1030.63 1012.4 L1030.17 1011.65 L1029.72 1010.9 L1029.26 1010.15 L1028.79 1009.4 L1028.33 1008.65 L1027.87 1007.9 L1027.42 1007.15 L1026.96 1006.4 L1026.5 1005.65 L1026.04 1004.9 L1025.58 1004.15 L1025.13 1003.4 L1024.67 1002.65 L1024.22 1001.9 L1023.77 1001.15 L1023.32 1000.4 L1022.88 999.65 L1022.44 998.9 L1022 998.15 L1021.56 997.4 L1021.13 996.65 L1020.7 995.9 L1020.27 995.15 L1019.85 994.4 L1019.43 993.65 L1019.03 992.9 L1018.63 992.15 L1018.25 991.4 L1017.88 990.65 L1017.53 989.9 L1017.18 989.15 L1016.84 988.4 L1016.51 987.65 L1016.19 986.9 L1015.88 986.15 L1015.58 985.4 L1015.29 984.65 L1015.02 983.9 L1014.77 983.15 L1014.53 982.4 L1014.31 981.65 L1014.1 980.9 L1013.91 980.15 L1013.72 979.4 L1013.54 978.65 L1013.37 977.9 L1013.21 977.15 L1013.06 976.4 L1012.93 975.65 L1012.81 974.9 L1012.71 974.15 L1012.62 973.4 L1012.54 972.65 L1012.47 971.9 L1012.41 971.15 L1012.36 970.4 L1012.31 969.65 L1012.27 968.9 L1012.24 968.15 L1012.23 967.4 L1012.23 966.65 L1012.24 965.9 L1012.27 965.15 L1012.3 964.4 L1012.35 963.65 L1012.4 962.9 L1012.46 962.15 L1012.52 961.4 L1012.59 960.65 L1012.66 959.9 L1012.75 959.15 L1012.84 958.4 L1012.94 957.65 L1013.05 956.9 L1013.16 956.15 L1013.29 955.4 L1013.42 954.65 L1013.55 953.9 L1013.69 953.15 L1013.83 952.4 L1013.98 951.65 L1014.13 950.9 L1014.29 950.15 L1014.45 949.4 L1014.62 948.65 L1014.8 947.9 L1014.98 947.15 L1015.17 946.4 L1015.36 945.65 L1015.56 944.9 L1015.76 944.15 L1015.97 943.4 L1016.18 942.65 L1016.4 941.9 L1016.62 941.15 L1016.85 940.4 L1017.08 939.65 L1017.32 938.9 L1017.57 938.15 L1017.81 937.4 L1018.06 936.65 L1018.31 935.9 L1018.56 935.15 L1018.82 934.4 L1019.08 933.65 L1019.34 932.9 L1019.61 932.15 L1019.88 931.4 L1020.14 930.65 L1020.41 929.9 L1020.66 929.15 L1020.91 928.4 L1021.16 927.65 L1021.39 926.9 L1021.62 926.15 L1021.85 925.4 L1022.07 924.65 L1022.29 923.9 L1022.5 923.15 L1022.71 922.4 L1022.89 921.65 L1023.06 920.9 L1023.22 920.15 L1023.35 919.4 L1023.46 918.65 L1023.56 917.9 L1023.65 917.15 L1023.73 916.4 L1023.8 915.65 L1023.86 914.9 L1023.92 914.15 L1023.97 913.4 L1024.01 912.65 L1024.04 911.9 L1024.07 911.15 L1024.08 910.4 L1024.08 909.65 L1024.06 908.9 L1024.04 908.15 L1024.02 907.4 L1023.98 906.65 L1023.94 905.9 L1023.9 905.15 L1023.86 904.4 L1023.81 903.65 L1023.77 902.9 L1023.72 902.15 L1023.67 901.4 L1023.62 900.65 L1023.58 899.9 L1023.52 899.15 L1023.47 898.4 L1023.42 897.65 L1023.37 896.9 L1023.33 896.15 L1023.29 895.4 L1023.25 894.65 L1023.22 893.9 L1023.2 893.15 L1023.18 892.4 L1023.17 891.65 L1023.15 890.9 L1023.14 890.15 L1023.13 889.4 L1023.12 888.65 L1023.12 887.9 L1023.11 887.15 L1023.11 886.4 L1023.11 885.65 L1023.11 884.9 L1023.11 884.15 L1023.12 883.4 L1023.13 882.65 L1023.14 881.9 L1023.16 881.15 L1023.18 880.4 L1023.2 879.65 L1023.22 878.9 L1023.25 878.15 L1023.28 877.4 L1023.31 876.65 L1023.35 875.9 L1023.4 875.15 L1023.46 874.4 L1023.52 873.65 L1023.59 872.9 L1023.67 872.15 L1023.75 871.4 L1023.83 870.65 L1023.92 869.9 L1024.01 869.15 L1024.11 868.4 L1024.2 867.65 L1024.31 866.9 L1024.42 866.15 L1024.53 865.4 L1024.65 864.65 L1024.77 863.9 L1024.9 863.15 L1025.04 862.4 L1025.18 861.65 L1025.33 860.9 L1025.48 860.15 L1025.65 859.4 L1025.81 858.65 L1025.99 857.9 L1026.17 857.15 L1026.36 856.4 L1026.55 855.65 L1026.74 854.9 L1026.94 854.15 L1027.15 853.4 L1027.36 852.65 L1027.58 851.9 L1027.8 851.15 L1028.03 850.4 L1028.26 849.65 L1028.5 848.9 L1028.74 848.15 L1028.98 847.4 L1029.23 846.65 L1029.48 845.9 L1029.74 845.15 L1030.01 844.4 L1030.28 843.65 L1030.55 842.9 L1030.82 842.15 L1031.1 841.4 L1031.37 840.65 L1031.64 839.9 L1031.9 839.15 L1032.16 838.4 L1032.41 837.65 L1032.66 836.9 L1032.91 836.15 L1033.16 835.4 L1033.4 834.65 L1033.64 833.9 L1033.88 833.15 L1034.13 832.4 L1034.37 831.65 L1034.61 830.9 L1034.85 830.15 L1035.09 829.4 L1035.33 828.65 L1035.57 827.9 L1035.81 827.15 L1036.05 826.4 L1036.29 825.65 L1036.53 824.9 L1036.77 824.15 L1037.01 823.4 L1037.26 822.65 L1037.5 821.9 L1037.75 821.15 L1038.02 820.4 L1038.31 819.65 L1038.61 818.9 L1038.9 818.15 L1039.19 817.4 L1039.49 816.65 L1039.78 815.9 L1040.08 815.15 L1040.37 814.4 L1040.65 813.65 L1040.94 812.9 L1041.23 812.15 L1041.51 811.4 L1041.79 810.65 L1042.07 809.9 L1042.35 809.15 L1042.63 808.4 L1042.91 807.65 L1043.18 806.9 L1043.46 806.15 L1043.73 805.4 L1044 804.65 L1044.26 803.9 L1044.53 803.15 L1044.8 802.4 L1045.06 801.65 L1045.32 800.9 L1045.58 800.15 L1045.83 799.4 L1046.07 798.65 L1046.29 797.9 L1046.5 797.15 L1046.7 796.4 L1046.91 795.65 L1047.11 794.9 L1047.31 794.15 L1047.51 793.4 L1047.7 792.65 L1047.89 791.9 L1048.08 791.15 L1048.26 790.4 L1048.43 789.65 L1048.6 788.9 L1048.77 788.15 L1048.93 787.4 L1049.09 786.65 L1049.25 785.9 L1049.4 785.15 L1049.55 784.4 L1049.7 783.65 L1049.84 782.9 L1049.97 782.15 L1050.09 781.4 L1050.2 780.65 L1050.31 779.9 L1050.41 779.15 L1050.51 778.4 L1050.59 777.65 L1050.68 776.9 L1050.76 776.15 L1050.83 775.4 L1050.9 774.65 L1050.9 773.9 L1050.9 773.15 L1050.9 772.4 L1050.9 771.65 L1050.9 770.9 L1050.9 770.15 L1050.9 769.4 L1050.9 768.65 L1050.9 767.9 L1050.9 767.15 L1050.9 766.4 L1050.9 765.65 L1050.9 764.9 L1050.9 764.15 L1050.9 763.4 Z" fill="#E3726E" stroke="#000" stroke-width="2.2" stroke-linejoin="round"/>
<path d="M1041.2 819.9L1045.5 815.6L1049.8 819.9L1045.5 824.2Z"/>
<path d="M1044.5 819.9L1048.8 815.6L1053.1 819.9L1048.8 824.2Z"/>
<path d="M1047.8 819.9L1052.1 815.6L1056.4 819.9L1052.1 824.2Z"/>
<path d="M1040.9 842.16L1045.2 837.86L1049.5 842.16L1045.2 846.46Z"/>
<path d="M1043.94 842.16L1048.24 837.86L1052.54 842.16L1048.24 846.46Z"/>
<path d="M1046.98 842.16L1051.28 837.86L1055.58 842.16L1051.28 846.46Z"/>
<path d="M1050.02 842.16L1054.32 837.86L1058.62 842.16L1054.32 846.46Z"/>
<path d="M1053.06 842.16L1057.36 837.86L1061.66 842.16L1057.36 846.46Z"/>
<path d="M1056.1 842.16L1060.4 837.86L1064.7 842.16L1060.4 846.46Z"/>
<path d="M1043.3 864.42L1047.6 860.12L1051.9 864.42L1047.6 868.72Z"/>
<path d="M1046.97 864.42L1051.27 860.12L1055.57 864.42L1051.27 868.72Z"/>
<path d="M1050.63 864.42L1054.93 860.12L1059.23 864.42L1054.93 868.72Z"/>
<path d="M1054.3 864.42L1058.6 860.12L1062.9 864.42L1058.6 868.72Z"/>
<path d="M1037.3 886.68L1041.6 882.38L1045.9 886.68L1041.6 890.98Z"/>
<path d="M1040.41 886.68L1044.71 882.38L1049.01 886.68L1044.71 890.98Z"/>
<path d="M1043.52 886.68L1047.82 882.38L1052.12 886.68L1047.82 890.98Z"/>
<path d="M1046.64 886.68L1050.94 882.38L1055.24 886.68L1050.94 890.98Z"/>
<path d="M1049.75 886.68L1054.05 882.38L1058.35 886.68L1054.05 890.98Z"/>
<path d="M1052.86 886.68L1057.16 882.38L1061.46 886.68L1057.16 890.98Z"/>
<path d="M1055.98 886.68L1060.28 882.38L1064.58 886.68L1060.28 890.98Z"/>
<path d="M1059.09 886.68L1063.39 882.38L1067.69 886.68L1063.39 890.98Z"/>
<path d="M1062.2 886.68L1066.5 882.38L1070.8 886.68L1066.5 890.98Z"/>
<path d="M1041.9 908.94L1046.2 904.64L1050.5 908.94L1046.2 913.24Z"/>
<path d="M1045.07 908.94L1049.37 904.64L1053.67 908.94L1049.37 913.24Z"/>
<path d="M1048.23 908.94L1052.53 904.64L1056.83 908.94L1052.53 913.24Z"/>
<path d="M1051.4 908.94L1055.7 904.64L1060 908.94L1055.7 913.24Z"/>
<path d="M1039.7 931.2L1044 926.9L1048.3 931.2L1044 935.5Z"/>
<path d="M1043.18 931.2L1047.48 926.9L1051.78 931.2L1047.48 935.5Z"/>
<path d="M1046.66 931.2L1050.96 926.9L1055.26 931.2L1050.96 935.5Z"/>
<path d="M1050.14 931.2L1054.44 926.9L1058.74 931.2L1054.44 935.5Z"/>
<path d="M1053.62 931.2L1057.92 926.9L1062.22 931.2L1057.92 935.5Z"/>
<path d="M1057.1 931.2L1061.4 926.9L1065.7 931.2L1061.4 935.5Z"/>
<path d="M1035.4 953.46L1039.7 949.16L1044 953.46L1039.7 957.76Z"/>
<path d="M1038.67 953.46L1042.97 949.16L1047.27 953.46L1042.97 957.76Z"/>
<path d="M1041.93 953.46L1046.23 949.16L1050.53 953.46L1046.23 957.76Z"/>
<path d="M1045.2 953.46L1049.5 949.16L1053.8 953.46L1049.5 957.76Z"/>
<path d="M1048.47 953.46L1052.77 949.16L1057.07 953.46L1052.77 957.76Z"/>
<path d="M1051.73 953.46L1056.03 949.16L1060.33 953.46L1056.03 957.76Z"/>
<path d="M1055 953.46L1059.3 949.16L1063.6 953.46L1059.3 957.76Z"/>
<path d="M1035.8 975.72L1040.1 971.42L1044.4 975.72L1040.1 980.02Z"/>
<path d="M1038.8 975.72L1043.1 971.42L1047.4 975.72L1043.1 980.02Z"/>
<path d="M1041.8 975.72L1046.1 971.42L1050.4 975.72L1046.1 980.02Z"/>
<path d="M1044.8 975.72L1049.1 971.42L1053.4 975.72L1049.1 980.02Z"/>
<path d="M1047.8 975.72L1052.1 971.42L1056.4 975.72L1052.1 980.02Z"/>
<path d="M1050.8 975.72L1055.1 971.42L1059.4 975.72L1055.1 980.02Z"/>
<path d="M1053.8 975.72L1058.1 971.42L1062.4 975.72L1058.1 980.02Z"/>
<path d="M1040.5 997.98L1044.8 993.68L1049.1 997.98L1044.8 1002.28Z"/>
<path d="M1043.5 997.98L1047.8 993.68L1052.1 997.98L1047.8 1002.28Z"/>
<path d="M1046.5 997.98L1050.8 993.68L1055.1 997.98L1050.8 1002.28Z"/>
<path d="M1049.5 997.98L1053.8 993.68L1058.1 997.98L1053.8 1002.28Z"/>
<path d="M1052.1 1020.24L1056.4 1015.94L1060.7 1020.24L1056.4 1024.54Z"/>
<path d="M1052.95 1042.5L1057.25 1038.2L1061.55 1042.5L1057.25 1046.8Z"/>
<path d="M1040.7 1064.76L1045 1060.46L1049.3 1064.76L1045 1069.06Z"/>
<path d="M1043.35 1064.76L1047.65 1060.46L1051.95 1064.76L1047.65 1069.06Z"/>
<path d="M1046 1064.76L1050.3 1060.46L1054.6 1064.76L1050.3 1069.06Z"/>
<path d="M1258.1 762.1 L1258.1 762.85 L1258.1 763.6 L1258.1 764.35 L1258.1 765.1 L1258.1 765.85 L1258.1 766.6 L1258.1 767.35 L1258.1 768.1 L1258.1 768.85 L1258.1 769.6 L1258.1 770.35 L1258.1 771.1 L1258.1 771.85 L1258.1 772.6 L1258.1 773.35 L1258.1 774.1 L1258.1 774.85 L1258.1 775.6 L1258.1 776.35 L1258.1 777.1 L1258.1 777.85 L1258.1 778.6 L1258.1 779.35 L1258.1 780.1 L1258.1 780.85 L1258.1 781.6 L1258.1 782.35 L1258.1 783.1 L1258.1 783.85 L1258.1 784.6 L1258.1 785.35 L1258.1 786.1 L1258.1 786.85 L1258.1 787.6 L1258.1 788.35 L1258.1 789.1 L1258.13 789.85 L1258.16 790.6 L1258.2 791.35 L1258.23 792.1 L1258.27 792.85 L1258.32 793.6 L1258.36 794.35 L1258.41 795.1 L1258.45 795.85 L1258.5 796.6 L1258.55 797.35 L1258.59 798.1 L1258.63 798.85 L1258.67 799.6 L1258.71 800.35 L1258.75 801.1 L1258.78 801.85 L1258.82 802.6 L1258.85 803.35 L1258.88 804.1 L1258.91 804.85 L1258.95 805.6 L1258.99 806.35 L1259.03 807.1 L1259.08 807.85 L1259.13 808.6 L1259.19 809.35 L1259.27 810.1 L1259.34 810.85 L1259.43 811.6 L1259.52 812.35 L1259.62 813.1 L1259.72 813.85 L1259.82 814.6 L1259.92 815.35 L1260.02 816.1 L1260.12 816.85 L1260.21 817.6 L1260.31 818.35 L1260.4 819.1 L1260.5 819.85 L1260.6 820.6 L1260.69 821.35 L1260.79 822.1 L1260.89 822.85 L1261 823.6 L1261.1 824.35 L1261.2 825.1 L1261.31 825.85 L1261.42 826.6 L1261.54 827.35 L1261.65 828.1 L1261.77 828.85 L1261.88 829.6 L1262 830.35 L1262.12 831.1 L1262.24 831.85 L1262.36 832.6 L1262.48 833.35 L1262.59 834.1 L1262.71 834.85 L1262.83 835.6 L1262.95 836.35 L1263.08 837.1 L1263.22 837.85 L1263.35 838.6 L1263.49 839.35 L1263.62 840.1 L1263.76 840.85 L1263.89 841.6 L1264.02 842.35 L1264.15 843.1 L1264.29 843.85 L1264.42 844.6 L1264.55 845.35 L1264.67 846.1 L1264.8 846.85 L1264.92 847.6 L1265.04 848.35 L1265.15 849.1 L1265.25 849.85 L1265.35 850.6 L1265.45 851.35 L1265.54 852.1 L1265.62 852.85 L1265.7 853.6 L1265.78 854.35 L1265.86 855.1 L1265.94 855.85 L1266.02 856.6 L1266.1 857.35 L1266.19 858.1 L1266.28 858.85 L1266.38 859.6 L1266.48 860.35 L1266.58 861.1 L1266.68 861.85 L1266.79 862.6 L1266.9 863.35 L1267 864.1 L1267.11 864.85 L1267.22 865.6 L1267.32 866.35 L1267.42 867.1 L1267.52 867.85 L1267.62 868.6 L1267.71 869.35 L1267.81 870.1 L1267.9 870.85 L1267.99 871.6 L1268.08 872.35 L1268.18 873.1 L1268.27 873.85 L1268.35 874.6 L1268.44 875.35 L1268.53 876.1 L1268.62 876.85 L1268.7 877.6 L1268.79 878.35 L1268.87 879.1 L1268.96 879.85 L1269.04 880.6 L1269.12 881.35 L1269.2 882.1 L1269.28 882.85 L1269.36 883.6 L1269.44 884.35 L1269.52 885.1 L1269.59 885.85 L1269.67 886.6 L1269.74 887.35 L1269.81 888.1 L1269.88 888.85 L1269.95 889.6 L1270.02 890.35 L1270.09 891.1 L1270.16 891.85 L1270.23 892.6 L1270.29 893.35 L1270.36 894.1 L1270.43 894.85 L1270.49 895.6 L1270.55 896.35 L1270.62 897.1 L1270.68 897.85 L1270.73 898.6 L1270.79 899.35 L1270.84 900.1 L1270.89 900.85 L1270.94 901.6 L1270.98 902.35 L1271.02 903.1 L1271.06 903.85 L1271.1 904.6 L1271.13 905.35 L1271.17 906.1 L1271.21 906.85 L1271.26 907.6 L1271.31 908.35 L1271.36 909.1 L1271.42 909.85 L1271.49 910.6 L1271.57 911.35 L1271.65 912.1 L1271.74 912.85 L1271.83 913.6 L1271.94 914.35 L1272.05 915.1 L1272.18 915.85 L1272.32 916.6 L1272.49 917.35 L1272.68 918.1 L1272.9 918.85 L1273.14 919.6 L1273.4 920.35 L1273.69 921.1 L1273.99 921.85 L1274.31 922.6 L1274.63 923.35 L1274.97 924.1 L1275.31 924.85 L1275.66 925.6 L1276.03 926.35 L1276.42 927.1 L1276.81 927.85 L1277.23 928.6 L1277.65 929.35 L1278.08 930.1 L1278.51 930.85 L1278.93 931.6 L1279.36 932.35 L1279.77 933.1 L1280.18 933.85 L1280.59 934.6 L1281 935.35 L1281.4 936.1 L1281.81 936.85 L1282.2 937.6 L1282.59 938.35 L1282.96 939.1 L1283.32 939.85 L1283.66 940.6 L1283.98 941.35 L1284.29 942.1 L1284.59 942.85 L1284.87 943.6 L1285.14 944.35 L1285.41 945.1 L1285.66 945.85 L1285.89 946.6 L1286.11 947.35 L1286.31 948.1 L1286.49 948.85 L1286.65 949.6 L1286.8 950.35 L1286.93 951.1 L1287.05 951.85 L1287.16 952.6 L1287.26 953.35 L1287.36 954.1 L1287.45 954.85 L1287.52 955.6 L1287.58 956.35 L1287.62 957.1 L1287.65 957.85 L1287.65 958.6 L1287.63 959.35 L1287.58 960.1 L1287.51 960.85 L1287.41 961.6 L1287.29 962.35 L1287.16 963.1 L1287 963.85 L1286.84 964.6 L1286.66 965.35 L1286.48 966.1 L1286.27 966.85 L1286.05 967.6 L1285.81 968.35 L1285.54 969.1 L1285.24 969.85 L1284.91 970.6 L1284.56 971.35 L1284.2 972.1 L1283.81 972.85 L1283.41 973.6 L1283 974.35 L1282.57 975.1 L1282.12 975.85 L1281.64 976.6 L1281.14 977.35 L1280.61 978.1 L1280.06 978.85 L1279.5 979.6 L1278.94 980.35 L1278.38 981.1 L1277.84 981.85 L1277.32 982.6 L1276.82 983.35 L1276.34 984.1 L1275.89 984.85 L1275.45 985.6 L1275.03 986.35 L1274.61 987.1 L1274.19 987.85 L1273.77 988.6 L1273.35 989.35 L1272.91 990.1 L1272.47 990.85 L1272.01 991.6 L1271.54 992.35 L1271.07 993.1 L1270.52 993.85 L1269.97 994.6 L1269.43 995.35 L1268.9 996.1 L1268.39 996.85 L1267.89 997.6 L1267.42 998.35 L1266.95 999.1 L1266.51 999.85 L1266.07 1000.6 L1265.64 1001.35 L1265.23 1002.1 L1264.83 1002.85 L1264.44 1003.6 L1264.06 1004.35 L1263.7 1005.1 L1263.37 1005.85 L1263.04 1006.6 L1262.77 1007.35 L1262.52 1008.1 L1262.28 1008.85 L1262.05 1009.6 L1261.83 1010.35 L1261.61 1011.1 L1261.41 1011.85 L1261.22 1012.6 L1261.04 1013.35 L1260.88 1014.1 L1260.74 1014.85 L1260.62 1015.6 L1260.51 1016.35 L1260.41 1017.1 L1260.33 1017.85 L1260.25 1018.6 L1260.17 1019.35 L1260.11 1020.1 L1260.05 1020.85 L1259.99 1021.6 L1259.94 1022.35 L1259.9 1023.1 L1259.86 1023.85 L1259.82 1024.6 L1259.8 1025.35 L1259.77 1026.1 L1259.75 1026.85 L1259.73 1027.6 L1259.71 1028.35 L1259.69 1029.1 L1259.68 1029.85 L1259.66 1030.6 L1259.65 1031.35 L1259.63 1032.1 L1259.62 1032.85 L1259.6 1033.6 L1259.58 1034.35 L1259.57 1035.1 L1259.55 1035.85 L1259.53 1036.6 L1259.52 1037.35 L1259.5 1038.1 L1259.48 1038.85 L1259.47 1039.6 L1259.45 1040.35 L1259.43 1041.1 L1259.42 1041.85 L1259.4 1042.6 L1259.38 1043.35 L1259.37 1044.1 L1259.35 1044.85 L1259.34 1045.6 L1259.32 1046.35 L1259.3 1047.1 L1259.29 1047.85 L1259.27 1048.6 L1259.25 1049.35 L1259.23 1050.1 L1259.2 1050.85 L1259.18 1051.6 L1259.15 1052.35 L1259.11 1053.1 L1259.07 1053.85 L1259.03 1054.6 L1258.98 1055.35 L1258.94 1056.1 L1258.89 1056.85 L1258.84 1057.6 L1258.8 1058.35 L1258.75 1059.1 L1258.71 1059.85 L1258.67 1060.6 L1258.64 1061.35 L1258.6 1062.1 L1258.56 1062.85 L1258.53 1063.6 L1258.5 1064.35 L1258.46 1065.1 L1258.43 1065.85 L1258.39 1066.6 L1258.36 1067.35 L1258.33 1068.1 L1258.29 1068.85 L1258.26 1069.6 L1258.22 1070.35 L1258.19 1071.1 L1258.15 1071.85 L1258.12 1072.6 L1258.1 1073.35 L1258.1 1074.1 L1258.1 1074.85 L1258.1 1075.6 L1258.1 1076.35 L1258.1 1077.1 L1258.1 1077.85 L1258.1 1078.6 L1258.1 1079.35 L1258.1 1080.1 L1258.1 1080.85 L1258.1 1081.6 L1258.1 1082.35 L1258.1 1083.1 L1258.1 1083.85 L1258.1 1084.6 L1258.1 1085.35 L1258.1 1086.1 L1258.1 1086.85 L1258.1 1087.6 L1258.1 1088.35 L1258.1 1089.1 L1258.1 1089.85 L1258.1 1090.6 L1258.1 1091.35 L1258.1 1092.1 L1258.1 1092.85 L1258.1 1093.6 L1258.1 1094.35 L1258.1 1095.1 L1258.1 1095.85 L1258.1 1096.6 L1258.1 1097.35 L1258.1 1098.1 L1258.1 1098.85 L1258.1 1099.6 L1258.1 1100.35 L1258.1 1101.1 L1258.1 1101.85 L1258.1 1101.9 L1258.1 1101.9 L1258.1 1101.85 L1258.1 1101.1 L1258.1 1100.35 L1258.1 1099.6 L1258.1 1098.85 L1258.1 1098.1 L1258.1 1097.35 L1258.1 1096.6 L1258.1 1095.85 L1258.1 1095.1 L1258.1 1094.35 L1258.1 1093.6 L1258.1 1092.85 L1258.1 1092.1 L1258.1 1091.35 L1258.1 1090.6 L1258.1 1089.85 L1258.1 1089.1 L1258.1 1088.35 L1258.1 1087.6 L1258.1 1086.85 L1258.1 1086.1 L1258.1 1085.35 L1258.1 1084.6 L1258.1 1083.85 L1258.1 1083.1 L1258.1 1082.35 L1258.1 1081.6 L1258.1 1080.85 L1258.1 1080.1 L1258.1 1079.35 L1258.1 1078.6 L1258.1 1077.85 L1258.1 1077.1 L1258.1 1076.35 L1258.1 1075.6 L1258.1 1074.85 L1258.1 1074.1 L1258.1 1073.35 L1258.08 1072.6 L1258.05 1071.85 L1258.01 1071.1 L1257.98 1070.35 L1257.94 1069.6 L1257.91 1068.85 L1257.87 1068.1 L1257.84 1067.35 L1257.81 1066.6 L1257.77 1065.85 L1257.74 1065.1 L1257.7 1064.35 L1257.67 1063.6 L1257.64 1062.85 L1257.6 1062.1 L1257.56 1061.35 L1257.53 1060.6 L1257.49 1059.85 L1257.45 1059.1 L1257.4 1058.35 L1257.36 1057.6 L1257.31 1056.85 L1257.26 1056.1 L1257.22 1055.35 L1257.17 1054.6 L1257.13 1053.85 L1257.09 1053.1 L1257.05 1052.35 L1257.02 1051.6 L1257 1050.85 L1256.97 1050.1 L1256.95 1049.35 L1256.93 1048.6 L1256.91 1047.85 L1256.9 1047.1 L1256.88 1046.35 L1256.86 1045.6 L1256.85 1044.85 L1256.83 1044.1 L1256.82 1043.35 L1256.8 1042.6 L1256.78 1041.85 L1256.77 1041.1 L1256.75 1040.35 L1256.73 1039.6 L1256.72 1038.85 L1256.7 1038.1 L1256.68 1037.35 L1256.67 1036.6 L1256.65 1035.85 L1256.63 1035.1 L1256.62 1034.35 L1256.6 1033.6 L1256.58 1032.85 L1256.57 1032.1 L1256.55 1031.35 L1256.54 1030.6 L1256.52 1029.85 L1256.51 1029.1 L1256.49 1028.35 L1256.47 1027.6 L1256.45 1026.85 L1256.43 1026.1 L1256.4 1025.35 L1256.38 1024.6 L1256.34 1023.85 L1256.3 1023.1 L1256.26 1022.35 L1256.21 1021.6 L1256.15 1020.85 L1256.09 1020.1 L1256.03 1019.35 L1255.95 1018.6 L1255.87 1017.85 L1255.79 1017.1 L1255.69 1016.35 L1255.58 1015.6 L1255.46 1014.85 L1255.32 1014.1 L1255.16 1013.35 L1254.98 1012.6 L1254.79 1011.85 L1254.59 1011.1 L1254.37 1010.35 L1254.15 1009.6 L1253.92 1008.85 L1253.68 1008.1 L1253.43 1007.35 L1253.16 1006.6 L1252.83 1005.85 L1252.5 1005.1 L1252.14 1004.35 L1251.76 1003.6 L1251.37 1002.85 L1250.97 1002.1 L1250.56 1001.35 L1250.13 1000.6 L1249.69 999.85 L1249.25 999.1 L1248.78 998.35 L1248.31 997.6 L1247.81 996.85 L1247.3 996.1 L1246.77 995.35 L1246.23 994.6 L1245.68 993.85 L1245.13 993.1 L1244.66 992.35 L1244.19 991.6 L1243.73 990.85 L1243.29 990.1 L1242.85 989.35 L1242.43 988.6 L1242.01 987.85 L1241.59 987.1 L1241.17 986.35 L1240.75 985.6 L1240.31 984.85 L1239.86 984.1 L1239.38 983.35 L1238.88 982.6 L1238.36 981.85 L1237.82 981.1 L1237.26 980.35 L1236.7 979.6 L1236.14 978.85 L1235.59 978.1 L1235.06 977.35 L1234.56 976.6 L1234.08 975.85 L1233.63 975.1 L1233.2 974.35 L1232.79 973.6 L1232.39 972.85 L1232 972.1 L1231.64 971.35 L1231.29 970.6 L1230.96 969.85 L1230.66 969.1 L1230.39 968.35 L1230.15 967.6 L1229.93 966.85 L1229.72 966.1 L1229.54 965.35 L1229.36 964.6 L1229.2 963.85 L1229.04 963.1 L1228.91 962.35 L1228.79 961.6 L1228.69 960.85 L1228.62 960.1 L1228.57 959.35 L1228.55 958.6 L1228.55 957.85 L1228.58 957.1 L1228.62 956.35 L1228.68 955.6 L1228.75 954.85 L1228.84 954.1 L1228.94 953.35 L1229.04 952.6 L1229.15 951.85 L1229.27 951.1 L1229.4 950.35 L1229.55 949.6 L1229.71 948.85 L1229.89 948.1 L1230.09 947.35 L1230.31 946.6 L1230.54 945.85 L1230.79 945.1 L1231.06 944.35 L1231.33 943.6 L1231.61 942.85 L1231.91 942.1 L1232.22 941.35 L1232.54 940.6 L1232.88 939.85 L1233.24 939.1 L1233.61 938.35 L1234 937.6 L1234.39 936.85 L1234.8 936.1 L1235.2 935.35 L1235.61 934.6 L1236.02 933.85 L1236.43 933.1 L1236.84 932.35 L1237.27 931.6 L1237.69 930.85 L1238.12 930.1 L1238.55 929.35 L1238.97 928.6 L1239.39 927.85 L1239.78 927.1 L1240.17 926.35 L1240.54 925.6 L1240.89 924.85 L1241.23 924.1 L1241.57 923.35 L1241.89 922.6 L1242.21 921.85 L1242.51 921.1 L1242.8 920.35 L1243.06 919.6 L1243.3 918.85 L1243.52 918.1 L1243.71 917.35 L1243.88 916.6 L1244.02 915.85 L1244.15 915.1 L1244.26 914.35 L1244.37 913.6 L1244.46 912.85 L1244.55 912.1 L1244.63 911.35 L1244.71 910.6 L1244.78 909.85 L1244.84 909.1 L1244.89 908.35 L1244.94 907.6 L1244.99 906.85 L1245.03 906.1 L1245.07 905.35 L1245.1 904.6 L1245.14 903.85 L1245.18 903.1 L1245.22 902.35 L1245.26 901.6 L1245.31 900.85 L1245.36 900.1 L1245.41 899.35 L1245.47 898.6 L1245.52 897.85 L1245.58 897.1 L1245.65 896.35 L1245.71 895.6 L1245.77 894.85 L1245.84 894.1 L1245.91 893.35 L1245.97 892.6 L1246.04 891.85 L1246.11 891.1 L1246.18 890.35 L1246.25 889.6 L1246.32 888.85 L1246.39 888.1 L1246.46 887.35 L1246.53 886.6 L1246.61 885.85 L1246.68 885.1 L1246.76 884.35 L1246.84 883.6 L1246.92 882.85 L1247 882.1 L1247.08 881.35 L1247.16 880.6 L1247.24 879.85 L1247.33 879.1 L1247.41 878.35 L1247.5 877.6 L1247.58 876.85 L1247.67 876.1 L1247.76 875.35 L1247.85 874.6 L1247.93 873.85 L1248.02 873.1 L1248.12 872.35 L1248.21 871.6 L1248.3 870.85 L1248.39 870.1 L1248.49 869.35 L1248.58 868.6 L1248.68 867.85 L1248.78 867.1 L1248.88 866.35 L1248.98 865.6 L1249.09 864.85 L1249.2 864.1 L1249.3 863.35 L1249.41 862.6 L1249.52 861.85 L1249.62 861.1 L1249.72 860.35 L1249.82 859.6 L1249.92 858.85 L1250.01 858.1 L1250.1 857.35 L1250.18 856.6 L1250.26 855.85 L1250.34 855.1 L1250.42 854.35 L1250.5 853.6 L1250.58 852.85 L1250.66 852.1 L1250.75 851.35 L1250.85 850.6 L1250.95 849.85 L1251.05 849.1 L1251.16 848.35 L1251.28 847.6 L1251.4 846.85 L1251.53 846.1 L1251.65 845.35 L1251.78 844.6 L1251.91 843.85 L1252.05 843.1 L1252.18 842.35 L1252.31 841.6 L1252.44 840.85 L1252.58 840.1 L1252.71 839.35 L1252.85 838.6 L1252.98 837.85 L1253.12 837.1 L1253.25 836.35 L1253.37 835.6 L1253.49 834.85 L1253.61 834.1 L1253.72 833.35 L1253.84 832.6 L1253.96 831.85 L1254.08 831.1 L1254.2 830.35 L1254.32 829.6 L1254.43 828.85 L1254.55 828.1 L1254.66 827.35 L1254.78 826.6 L1254.89 825.85 L1255 825.1 L1255.1 824.35 L1255.2 823.6 L1255.31 822.85 L1255.41 822.1 L1255.51 821.35 L1255.6 820.6 L1255.7 819.85 L1255.8 819.1 L1255.89 818.35 L1255.99 817.6 L1256.08 816.85 L1256.18 816.1 L1256.28 815.35 L1256.38 814.6 L1256.48 813.85 L1256.58 813.1 L1256.68 812.35 L1256.77 811.6 L1256.86 810.85 L1256.93 810.1 L1257.01 809.35 L1257.07 808.6 L1257.12 807.85 L1257.17 807.1 L1257.21 806.35 L1257.25 805.6 L1257.29 804.85 L1257.32 804.1 L1257.35 803.35 L1257.38 802.6 L1257.42 801.85 L1257.45 801.1 L1257.49 800.35 L1257.53 799.6 L1257.57 798.85 L1257.61 798.1 L1257.65 797.35 L1257.7 796.6 L1257.75 795.85 L1257.79 795.1 L1257.84 794.35 L1257.88 793.6 L1257.93 792.85 L1257.97 792.1 L1258 791.35 L1258.04 790.6 L1258.07 789.85 L1258.1 789.1 L1258.1 788.35 L1258.1 787.6 L1258.1 786.85 L1258.1 786.1 L1258.1 785.35 L1258.1 784.6 L1258.1 783.85 L1258.1 783.1 L1258.1 782.35 L1258.1 781.6 L1258.1 780.85 L1258.1 780.1 L1258.1 779.35 L1258.1 778.6 L1258.1 777.85 L1258.1 777.1 L1258.1 776.35 L1258.1 775.6 L1258.1 774.85 L1258.1 774.1 L1258.1 773.35 L1258.1 772.6 L1258.1 771.85 L1258.1 771.1 L1258.1 770.35 L1258.1 769.6 L1258.1 768.85 L1258.1 768.1 L1258.1 767.35 L1258.1 766.6 L1258.1 765.85 L1258.1 765.1 L1258.1 764.35 L1258.1 763.6 L1258.1 762.85 L1258.1 762.1 Z" fill="#B0D5E8" stroke="#000" stroke-width="2.2" stroke-linejoin="round"/>
<path d="M1253.2 797.64L1257.5 793.34L1261.8 797.64L1257.5 801.94Z"/>
<path d="M1248.1 842.16L1252.4 837.86L1256.7 842.16L1252.4 846.46Z"/>
<path d="M1250.97 842.16L1255.27 837.86L1259.57 842.16L1255.27 846.46Z"/>
<path d="M1253.85 842.16L1258.15 837.86L1262.45 842.16L1258.15 846.46Z"/>
<path d="M1256.73 842.16L1261.03 837.86L1265.33 842.16L1261.03 846.46Z"/>
<path d="M1259.6 842.16L1263.9 837.86L1268.2 842.16L1263.9 846.46Z"/>
<path d="M1245 864.42L1249.3 860.12L1253.6 864.42L1249.3 868.72Z"/>
<path d="M1248.2 864.42L1252.5 860.12L1256.8 864.42L1252.5 868.72Z"/>
<path d="M1251.4 864.42L1255.7 860.12L1260 864.42L1255.7 868.72Z"/>
<path d="M1249 886.68L1253.3 882.38L1257.6 886.68L1253.3 890.98Z"/>
<path d="M1252.8 886.68L1257.1 882.38L1261.4 886.68L1257.1 890.98Z"/>
<path d="M1256.6 886.68L1260.9 882.38L1265.2 886.68L1260.9 890.98Z"/>
<path d="M1245 908.94L1249.3 904.64L1253.6 908.94L1249.3 913.24Z"/>
<path d="M1248.48 908.94L1252.78 904.64L1257.08 908.94L1252.78 913.24Z"/>
<path d="M1251.96 908.94L1256.26 904.64L1260.56 908.94L1256.26 913.24Z"/>
<path d="M1255.44 908.94L1259.74 904.64L1264.04 908.94L1259.74 913.24Z"/>
<path d="M1258.92 908.94L1263.22 904.64L1267.52 908.94L1263.22 913.24Z"/>
<path d="M1262.4 908.94L1266.7 904.64L1271 908.94L1266.7 913.24Z"/>
<path d="M1248.1 931.2L1252.4 926.9L1256.7 931.2L1252.4 935.5Z"/>
<path d="M1251.8 931.2L1256.1 926.9L1260.4 931.2L1256.1 935.5Z"/>
<path d="M1255.5 931.2L1259.8 926.9L1264.1 931.2L1259.8 935.5Z"/>
<path d="M1249 953.46L1253.3 949.16L1257.6 953.46L1253.3 957.76Z"/>
<path d="M1252.35 953.46L1256.65 949.16L1260.95 953.46L1256.65 957.76Z"/>
<path d="M1255.7 953.46L1260 949.16L1264.3 953.46L1260 957.76Z"/>
<path d="M1259.05 953.46L1263.35 949.16L1267.65 953.46L1263.35 957.76Z"/>
<path d="M1262.4 953.46L1266.7 949.16L1271 953.46L1266.7 957.76Z"/>
<path d="M1245 975.72L1249.3 971.42L1253.6 975.72L1249.3 980.02Z"/>
<path d="M1248.2 975.72L1252.5 971.42L1256.8 975.72L1252.5 980.02Z"/>
<path d="M1251.4 975.72L1255.7 971.42L1260 975.72L1255.7 980.02Z"/>
<path d="M1254.6 975.72L1258.9 971.42L1263.2 975.72L1258.9 980.02Z"/>
<path d="M1257.8 975.72L1262.1 971.42L1266.4 975.72L1262.1 980.02Z"/>
<path d="M1261 975.72L1265.3 971.42L1269.6 975.72L1265.3 980.02Z"/>
<path d="M1261.75 997.98L1266.05 993.68L1270.35 997.98L1266.05 1002.28Z"/>
<path d="M1254 1020.24L1258.3 1015.94L1262.6 1020.24L1258.3 1024.54Z"/>
<path d="M1250.25 1042.5L1254.55 1038.2L1258.85 1042.5L1254.55 1046.8Z"/>
<path d="M1254.9 1064.76L1259.2 1060.46L1263.5 1064.76L1259.2 1069.06Z"/>
<path d="M1465.4 857.2 L1465.4 857.95 L1465.4 858.7 L1465.4 859.45 L1465.4 860.2 L1465.4 860.95 L1465.4 861.7 L1465.4 862.45 L1465.4 863.2 L1465.4 863.95 L1465.4 864.7 L1465.4 865.45 L1465.43 866.2 L1465.55 866.95 L1465.67 867.7 L1465.79 868.45 L1465.92 869.2 L1466.05 869.95 L1466.19 870.7 L1466.33 871.45 L1466.48 872.2 L1466.64 872.95 L1466.8 873.7 L1466.97 874.45 L1467.14 875.2 L1467.32 875.95 L1467.51 876.7 L1467.72 877.45 L1467.92 878.2 L1468.14 878.95 L1468.37 879.7 L1468.6 880.45 L1468.84 881.2 L1469.09 881.95 L1469.34 882.7 L1469.6 883.45 L1469.87 884.2 L1470.16 884.95 L1470.47 885.7 L1470.82 886.45 L1471.18 887.2 L1471.54 887.95 L1471.91 888.7 L1472.28 889.45 L1472.65 890.2 L1473.01 890.95 L1473.36 891.7 L1473.71 892.45 L1474.06 893.2 L1474.39 893.95 L1474.73 894.7 L1475.07 895.45 L1475.4 896.2 L1475.74 896.95 L1476.08 897.7 L1476.43 898.45 L1476.78 899.2 L1477.14 899.95 L1477.5 900.7 L1477.87 901.45 L1478.25 902.2 L1478.6 902.95 L1478.93 903.7 L1479.27 904.45 L1479.61 905.2 L1479.96 905.95 L1480.31 906.7 L1480.66 907.45 L1481.02 908.2 L1481.38 908.95 L1481.74 909.7 L1482.11 910.45 L1482.48 911.2 L1482.85 911.95 L1483.23 912.7 L1483.61 913.45 L1484 914.2 L1484.39 914.95 L1484.78 915.7 L1485.17 916.45 L1485.56 917.2 L1485.96 917.95 L1486.36 918.7 L1486.76 919.45 L1487.17 920.2 L1487.57 920.95 L1487.99 921.7 L1488.4 922.45 L1488.82 923.2 L1489.24 923.95 L1489.66 924.7 L1490.09 925.45 L1490.52 926.2 L1490.96 926.95 L1491.4 927.7 L1491.84 928.45 L1492.28 929.2 L1492.73 929.95 L1493.19 930.7 L1493.65 931.45 L1494.12 932.2 L1494.6 932.95 L1495.09 933.7 L1495.6 934.45 L1496.12 935.2 L1496.64 935.95 L1497.18 936.7 L1497.73 937.45 L1498.27 938.2 L1498.81 938.95 L1499.33 939.7 L1499.85 940.45 L1500.35 941.2 L1500.84 941.95 L1501.31 942.7 L1501.76 943.45 L1502.2 944.2 L1502.62 944.95 L1503.02 945.7 L1503.39 946.45 L1503.75 947.2 L1504.08 947.95 L1504.37 948.7 L1504.64 949.45 L1504.87 950.2 L1505.06 950.95 L1505.21 951.7 L1505.31 952.45 L1505.34 953.2 L1505.32 953.95 L1505.23 954.7 L1505.08 955.45 L1504.89 956.2 L1504.66 956.95 L1504.4 957.7 L1504.1 958.45 L1503.77 959.2 L1503.41 959.95 L1503.01 960.7 L1502.57 961.45 L1502.09 962.2 L1501.58 962.95 L1501.01 963.7 L1500.41 964.45 L1499.78 965.2 L1499.12 965.95 L1498.45 966.7 L1497.77 967.45 L1497.09 968.2 L1496.43 968.95 L1495.77 969.7 L1495.13 970.45 L1494.51 971.2 L1493.89 971.95 L1493.27 972.7 L1492.67 973.45 L1492.06 974.2 L1491.46 974.95 L1490.87 975.7 L1490.28 976.45 L1489.7 977.2 L1489.13 977.95 L1488.56 978.7 L1488 979.45 L1487.45 980.2 L1486.9 980.95 L1486.36 981.7 L1485.82 982.45 L1485.3 983.2 L1484.78 983.95 L1484.27 984.7 L1483.78 985.45 L1483.3 986.2 L1482.83 986.95 L1482.36 987.7 L1481.91 988.45 L1481.46 989.2 L1481.03 989.95 L1480.6 990.7 L1480.19 991.45 L1479.78 992.2 L1479.4 992.95 L1479.03 993.7 L1478.67 994.45 L1478.32 995.2 L1477.95 995.95 L1477.59 996.7 L1477.25 997.45 L1476.92 998.2 L1476.61 998.95 L1476.3 999.7 L1476 1000.45 L1475.71 1001.2 L1475.43 1001.95 L1475.15 1002.7 L1474.88 1003.45 L1474.61 1004.2 L1474.34 1004.95 L1474.09 1005.7 L1473.83 1006.45 L1473.59 1007.2 L1473.34 1007.95 L1473.11 1008.7 L1472.88 1009.45 L1472.65 1010.2 L1472.43 1010.95 L1472.22 1011.7 L1472.02 1012.45 L1471.82 1013.2 L1471.63 1013.95 L1471.44 1014.7 L1471.26 1015.45 L1471.08 1016.2 L1470.9 1016.95 L1470.71 1017.7 L1470.53 1018.45 L1470.34 1019.2 L1470.16 1019.95 L1469.99 1020.7 L1469.8 1021.45 L1469.61 1022.2 L1469.41 1022.95 L1469.21 1023.7 L1469.01 1024.45 L1468.82 1025.2 L1468.62 1025.95 L1468.44 1026.7 L1468.27 1027.45 L1468.1 1028.2 L1467.95 1028.95 L1467.81 1029.7 L1467.67 1030.45 L1467.54 1031.2 L1467.42 1031.95 L1467.3 1032.7 L1467.18 1033.45 L1467.07 1034.2 L1466.97 1034.95 L1466.87 1035.7 L1466.77 1036.45 L1466.68 1037.2 L1466.6 1037.95 L1466.51 1038.7 L1466.43 1039.45 L1466.35 1040.2 L1466.27 1040.95 L1466.2 1041.7 L1466.14 1042.45 L1466.07 1043.2 L1466.01 1043.95 L1465.96 1044.7 L1465.9 1045.45 L1465.85 1046.2 L1465.81 1046.95 L1465.76 1047.7 L1465.72 1048.45 L1465.68 1049.2 L1465.64 1049.95 L1465.61 1050.7 L1465.58 1051.45 L1465.55 1052.2 L1465.53 1052.95 L1465.51 1053.7 L1465.49 1054.45 L1465.47 1055.2 L1465.46 1055.95 L1465.44 1056.7 L1465.43 1057.45 L1465.41 1058.2 L1465.4 1058.95 L1465.4 1059.7 L1465.4 1060.45 L1465.4 1061.2 L1465.4 1061.95 L1465.4 1062.7 L1465.4 1063.45 L1465.4 1064.2 L1465.4 1064.95 L1465.4 1065.7 L1465.4 1066.45 L1465.4 1067.2 L1465.4 1067.95 L1465.4 1068.7 L1465.4 1069.45 L1465.4 1070.2 L1465.4 1070.95 L1465.4 1071.7 L1465.4 1072.45 L1465.4 1073.2 L1465.4 1073.95 L1465.4 1074.7 L1465.4 1075.45 L1465.4 1076.2 L1465.4 1076.95 L1465.4 1077.7 L1465.4 1078.45 L1465.4 1079.2 L1465.4 1079.95 L1465.4 1080.7 L1465.4 1081.45 L1465.4 1082.2 L1465.4 1082.95 L1465.4 1083.7 L1465.4 1084.45 L1465.4 1085.2 L1465.4 1085.95 L1465.4 1086.7 L1465.4 1087.45 L1465.4 1088.2 L1465.4 1088.95 L1465.4 1089.7 L1465.4 1090.45 L1465.4 1091.2 L1465.4 1091.95 L1465.4 1092.7 L1465.4 1093.45 L1465.4 1094.2 L1465.4 1094.95 L1465.4 1095.7 L1465.4 1096.45 L1465.4 1097.2 L1465.4 1097.95 L1465.4 1098.7 L1465.4 1099.45 L1465.4 1100.2 L1465.4 1100.95 L1465.4 1101.7 L1465.4 1102.45 L1465.4 1103.2 L1465.4 1103.95 L1465.4 1104.7 L1465.4 1105.45 L1465.4 1106.2 L1465.4 1106.95 L1465.4 1107.7 L1465.4 1108.45 L1465.4 1109.2 L1465.4 1109.95 L1465.4 1110.7 L1465.4 1111.45 L1465.4 1112.2 L1465.4 1112.95 L1465.4 1113.7 L1465.4 1114.45 L1465.4 1115.2 L1465.4 1115.95 L1465.4 1116.7 L1465.4 1117.45 L1465.4 1118.2 L1465.4 1118.95 L1465.4 1119.7 L1465.4 1120.45 L1465.4 1121.2 L1465.4 1121.95 L1465.4 1122.7 L1465.4 1123.45 L1465.4 1124.2 L1465.4 1124.95 L1465.4 1125.7 L1465.4 1126.45 L1465.4 1127.2 L1465.4 1127.95 L1465.4 1128.7 L1465.4 1129.45 L1465.4 1130.2 L1465.4 1130.95 L1465.4 1131.7 L1465.4 1132.45 L1465.4 1133.2 L1465.4 1133.95 L1465.4 1134.7 L1465.4 1135.45 L1465.4 1136.2 L1465.4 1136.95 L1465.4 1137.7 L1465.4 1138.45 L1465.4 1139.2 L1465.4 1139.95 L1465.4 1140.7 L1465.4 1141.45 L1465.4 1142.2 L1465.4 1142.95 L1465.4 1143.7 L1465.4 1144.45 L1465.4 1145.2 L1465.4 1145.95 L1465.4 1146.7 L1465.4 1147.45 L1465.4 1148.2 L1465.4 1148.95 L1465.4 1149.7 L1465.4 1150.45 L1465.4 1151.2 L1465.4 1151.95 L1465.4 1152.7 L1465.4 1153.45 L1465.4 1154.2 L1465.4 1154.95 L1465.4 1155.7 L1465.4 1156.45 L1465.4 1157.2 L1465.4 1157.95 L1465.4 1158.7 L1465.4 1159.45 L1465.4 1160.2 L1465.4 1160.95 L1465.4 1161.7 L1465.4 1162.45 L1465.4 1163.2 L1465.4 1163.95 L1465.4 1164.7 L1465.4 1165.45 L1465.4 1166.2 L1465.4 1166.95 L1465.4 1167.7 L1465.4 1168.45 L1465.4 1169.2 L1465.4 1169.95 L1465.4 1170.7 L1465.4 1171.45 L1465.4 1172.2 L1465.4 1172.95 L1465.4 1173.7 L1465.4 1174.45 L1465.4 1175.2 L1465.4 1175.2 L1465.4 1174.45 L1465.4 1173.7 L1465.4 1172.95 L1465.4 1172.2 L1465.4 1171.45 L1465.4 1170.7 L1465.4 1169.95 L1465.4 1169.2 L1465.4 1168.45 L1465.4 1167.7 L1465.4 1166.95 L1465.4 1166.2 L1465.4 1165.45 L1465.4 1164.7 L1465.4 1163.95 L1465.4 1163.2 L1465.4 1162.45 L1465.4 1161.7 L1465.4 1160.95 L1465.4 1160.2 L1465.4 1159.45 L1465.4 1158.7 L1465.4 1157.95 L1465.4 1157.2 L1465.4 1156.45 L1465.4 1155.7 L1465.4 1154.95 L1465.4 1154.2 L1465.4 1153.45 L1465.4 1152.7 L1465.4 1151.95 L1465.4 1151.2 L1465.4 1150.45 L1465.4 1149.7 L1465.4 1148.95 L1465.4 1148.2 L1465.4 1147.45 L1465.4 1146.7 L1465.4 1145.95 L1465.4 1145.2 L1465.4 1144.45 L1465.4 1143.7 L1465.4 1142.95 L1465.4 1142.2 L1465.4 1141.45 L1465.4 1140.7 L1465.4 1139.95 L1465.4 1139.2 L1465.4 1138.45 L1465.4 1137.7 L1465.4 1136.95 L1465.4 1136.2 L1465.4 1135.45 L1465.4 1134.7 L1465.4 1133.95 L1465.4 1133.2 L1465.4 1132.45 L1465.4 1131.7 L1465.4 1130.95 L1465.4 1130.2 L1465.4 1129.45 L1465.4 1128.7 L1465.4 1127.95 L1465.4 1127.2 L1465.4 1126.45 L1465.4 1125.7 L1465.4 1124.95 L1465.4 1124.2 L1465.4 1123.45 L1465.4 1122.7 L1465.4 1121.95 L1465.4 1121.2 L1465.4 1120.45 L1465.4 1119.7 L1465.4 1118.95 L1465.4 1118.2 L1465.4 1117.45 L1465.4 1116.7 L1465.4 1115.95 L1465.4 1115.2 L1465.4 1114.45 L1465.4 1113.7 L1465.4 1112.95 L1465.4 1112.2 L1465.4 1111.45 L1465.4 1110.7 L1465.4 1109.95 L1465.4 1109.2 L1465.4 1108.45 L1465.4 1107.7 L1465.4 1106.95 L1465.4 1106.2 L1465.4 1105.45 L1465.4 1104.7 L1465.4 1103.95 L1465.4 1103.2 L1465.4 1102.45 L1465.4 1101.7 L1465.4 1100.95 L1465.4 1100.2 L1465.4 1099.45 L1465.4 1098.7 L1465.4 1097.95 L1465.4 1097.2 L1465.4 1096.45 L1465.4 1095.7 L1465.4 1094.95 L1465.4 1094.2 L1465.4 1093.45 L1465.4 1092.7 L1465.4 1091.95 L1465.4 1091.2 L1465.4 1090.45 L1465.4 1089.7 L1465.4 1088.95 L1465.4 1088.2 L1465.4 1087.45 L1465.4 1086.7 L1465.4 1085.95 L1465.4 1085.2 L1465.4 1084.45 L1465.4 1083.7 L1465.4 1082.95 L1465.4 1082.2 L1465.4 1081.45 L1465.4 1080.7 L1465.4 1079.95 L1465.4 1079.2 L1465.4 1078.45 L1465.4 1077.7 L1465.4 1076.95 L1465.4 1076.2 L1465.4 1075.45 L1465.4 1074.7 L1465.4 1073.95 L1465.4 1073.2 L1465.4 1072.45 L1465.4 1071.7 L1465.4 1070.95 L1465.4 1070.2 L1465.4 1069.45 L1465.4 1068.7 L1465.4 1067.95 L1465.4 1067.2 L1465.4 1066.45 L1465.4 1065.7 L1465.4 1064.95 L1465.4 1064.2 L1465.4 1063.45 L1465.4 1062.7 L1465.4 1061.95 L1465.4 1061.2 L1465.4 1060.45 L1465.4 1059.7 L1465.4 1058.95 L1465.39 1058.2 L1465.37 1057.45 L1465.36 1056.7 L1465.34 1055.95 L1465.33 1055.2 L1465.31 1054.45 L1465.29 1053.7 L1465.27 1052.95 L1465.25 1052.2 L1465.22 1051.45 L1465.19 1050.7 L1465.16 1049.95 L1465.12 1049.2 L1465.08 1048.45 L1465.04 1047.7 L1464.99 1046.95 L1464.95 1046.2 L1464.9 1045.45 L1464.84 1044.7 L1464.79 1043.95 L1464.73 1043.2 L1464.66 1042.45 L1464.6 1041.7 L1464.53 1040.95 L1464.45 1040.2 L1464.37 1039.45 L1464.29 1038.7 L1464.2 1037.95 L1464.12 1037.2 L1464.03 1036.45 L1463.93 1035.7 L1463.83 1034.95 L1463.73 1034.2 L1463.62 1033.45 L1463.5 1032.7 L1463.38 1031.95 L1463.26 1031.2 L1463.13 1030.45 L1462.99 1029.7 L1462.85 1028.95 L1462.7 1028.2 L1462.53 1027.45 L1462.36 1026.7 L1462.18 1025.95 L1461.98 1025.2 L1461.79 1024.45 L1461.59 1023.7 L1461.39 1022.95 L1461.19 1022.2 L1461 1021.45 L1460.81 1020.7 L1460.64 1019.95 L1460.46 1019.2 L1460.27 1018.45 L1460.09 1017.7 L1459.9 1016.95 L1459.72 1016.2 L1459.54 1015.45 L1459.36 1014.7 L1459.17 1013.95 L1458.98 1013.2 L1458.78 1012.45 L1458.58 1011.7 L1458.37 1010.95 L1458.15 1010.2 L1457.92 1009.45 L1457.69 1008.7 L1457.46 1007.95 L1457.21 1007.2 L1456.97 1006.45 L1456.71 1005.7 L1456.46 1004.95 L1456.19 1004.2 L1455.92 1003.45 L1455.65 1002.7 L1455.37 1001.95 L1455.09 1001.2 L1454.8 1000.45 L1454.5 999.7 L1454.19 998.95 L1453.88 998.2 L1453.55 997.45 L1453.21 996.7 L1452.85 995.95 L1452.48 995.2 L1452.13 994.45 L1451.77 993.7 L1451.4 992.95 L1451.02 992.2 L1450.61 991.45 L1450.2 990.7 L1449.77 989.95 L1449.34 989.2 L1448.89 988.45 L1448.44 987.7 L1447.97 986.95 L1447.5 986.2 L1447.02 985.45 L1446.53 984.7 L1446.02 983.95 L1445.5 983.2 L1444.98 982.45 L1444.44 981.7 L1443.9 980.95 L1443.35 980.2 L1442.8 979.45 L1442.24 978.7 L1441.67 977.95 L1441.1 977.2 L1440.52 976.45 L1439.93 975.7 L1439.34 974.95 L1438.74 974.2 L1438.13 973.45 L1437.53 972.7 L1436.91 971.95 L1436.29 971.2 L1435.67 970.45 L1435.03 969.7 L1434.37 968.95 L1433.71 968.2 L1433.03 967.45 L1432.35 966.7 L1431.68 965.95 L1431.02 965.2 L1430.39 964.45 L1429.79 963.7 L1429.22 962.95 L1428.71 962.2 L1428.23 961.45 L1427.79 960.7 L1427.39 959.95 L1427.03 959.2 L1426.7 958.45 L1426.4 957.7 L1426.14 956.95 L1425.91 956.2 L1425.72 955.45 L1425.57 954.7 L1425.48 953.95 L1425.46 953.2 L1425.49 952.45 L1425.59 951.7 L1425.74 950.95 L1425.93 950.2 L1426.16 949.45 L1426.43 948.7 L1426.72 947.95 L1427.05 947.2 L1427.41 946.45 L1427.78 945.7 L1428.18 944.95 L1428.6 944.2 L1429.04 943.45 L1429.49 942.7 L1429.96 941.95 L1430.45 941.2 L1430.95 940.45 L1431.47 939.7 L1431.99 938.95 L1432.53 938.2 L1433.07 937.45 L1433.62 936.7 L1434.16 935.95 L1434.68 935.2 L1435.2 934.45 L1435.71 933.7 L1436.2 932.95 L1436.68 932.2 L1437.15 931.45 L1437.61 930.7 L1438.07 929.95 L1438.52 929.2 L1438.96 928.45 L1439.4 927.7 L1439.84 926.95 L1440.28 926.2 L1440.71 925.45 L1441.14 924.7 L1441.56 923.95 L1441.98 923.2 L1442.4 922.45 L1442.81 921.7 L1443.23 920.95 L1443.63 920.2 L1444.04 919.45 L1444.44 918.7 L1444.84 917.95 L1445.24 917.2 L1445.63 916.45 L1446.02 915.7 L1446.41 914.95 L1446.8 914.2 L1447.19 913.45 L1447.57 912.7 L1447.95 911.95 L1448.32 911.2 L1448.69 910.45 L1449.06 909.7 L1449.42 908.95 L1449.78 908.2 L1450.14 907.45 L1450.49 906.7 L1450.84 905.95 L1451.19 905.2 L1451.53 904.45 L1451.87 903.7 L1452.2 902.95 L1452.55 902.2 L1452.93 901.45 L1453.3 900.7 L1453.66 899.95 L1454.02 899.2 L1454.37 898.45 L1454.72 897.7 L1455.06 896.95 L1455.4 896.2 L1455.73 895.45 L1456.07 894.7 L1456.41 893.95 L1456.74 893.2 L1457.09 892.45 L1457.44 891.7 L1457.79 890.95 L1458.15 890.2 L1458.52 889.45 L1458.89 888.7 L1459.26 887.95 L1459.62 887.2 L1459.98 886.45 L1460.33 885.7 L1460.64 884.95 L1460.93 884.2 L1461.2 883.45 L1461.46 882.7 L1461.71 881.95 L1461.96 881.2 L1462.2 880.45 L1462.43 879.7 L1462.66 878.95 L1462.88 878.2 L1463.08 877.45 L1463.29 876.7 L1463.48 875.95 L1463.66 875.2 L1463.83 874.45 L1464 873.7 L1464.16 872.95 L1464.32 872.2 L1464.47 871.45 L1464.61 870.7 L1464.75 869.95 L1464.88 869.2 L1465.01 868.45 L1465.13 867.7 L1465.25 866.95 L1465.37 866.2 L1465.4 865.45 L1465.4 864.7 L1465.4 863.95 L1465.4 863.2 L1465.4 862.45 L1465.4 861.7 L1465.4 860.95 L1465.4 860.2 L1465.4 859.45 L1465.4 858.7 L1465.4 857.95 L1465.4 857.2 Z" fill="#BEB5E1" stroke="#000" stroke-width="2.2" stroke-linejoin="round"/>
<path d="M1461.8 886.68L1466.1 882.38L1470.4 886.68L1466.1 890.98Z"/>
<path d="M1466.1 886.68L1470.4 882.38L1474.7 886.68L1470.4 890.98Z"/>
<path d="M1456.1 908.94L1460.4 904.64L1464.7 908.94L1460.4 913.24Z"/>
<path d="M1458.92 908.94L1463.22 904.64L1467.52 908.94L1463.22 913.24Z"/>
<path d="M1461.75 908.94L1466.05 904.64L1470.35 908.94L1466.05 913.24Z"/>
<path d="M1464.58 908.94L1468.88 904.64L1473.17 908.94L1468.88 913.24Z"/>
<path d="M1467.4 908.94L1471.7 904.64L1476 908.94L1471.7 913.24Z"/>
<path d="M1451.8 931.2L1456.1 926.9L1460.4 931.2L1456.1 935.5Z"/>
<path d="M1454.75 931.2L1459.05 926.9L1463.35 931.2L1459.05 935.5Z"/>
<path d="M1457.7 931.2L1462 926.9L1466.3 931.2L1462 935.5Z"/>
<path d="M1460.65 931.2L1464.95 926.9L1469.25 931.2L1464.95 935.5Z"/>
<path d="M1463.6 931.2L1467.9 926.9L1472.2 931.2L1467.9 935.5Z"/>
<path d="M1466.55 931.2L1470.85 926.9L1475.15 931.2L1470.85 935.5Z"/>
<path d="M1469.5 931.2L1473.8 926.9L1478.1 931.2L1473.8 935.5Z"/>
<path d="M1450.3 953.46L1454.6 949.16L1458.9 953.46L1454.6 957.76Z"/>
<path d="M1453.44 953.46L1457.74 949.16L1462.04 953.46L1457.74 957.76Z"/>
<path d="M1456.59 953.46L1460.89 949.16L1465.19 953.46L1460.89 957.76Z"/>
<path d="M1459.73 953.46L1464.03 949.16L1468.33 953.46L1464.03 957.76Z"/>
<path d="M1462.87 953.46L1467.17 949.16L1471.47 953.46L1467.17 957.76Z"/>
<path d="M1466.01 953.46L1470.31 949.16L1474.61 953.46L1470.31 957.76Z"/>
<path d="M1469.16 953.46L1473.46 949.16L1477.76 953.46L1473.46 957.76Z"/>
<path d="M1472.3 953.46L1476.6 949.16L1480.9 953.46L1476.6 957.76Z"/>
<path d="M1453.8 975.72L1458.1 971.42L1462.4 975.72L1458.1 980.02Z"/>
<path d="M1456.94 975.72L1461.24 971.42L1465.54 975.72L1461.24 980.02Z"/>
<path d="M1460.08 975.72L1464.38 971.42L1468.68 975.72L1464.38 980.02Z"/>
<path d="M1463.22 975.72L1467.52 971.42L1471.82 975.72L1467.52 980.02Z"/>
<path d="M1466.36 975.72L1470.66 971.42L1474.96 975.72L1470.66 980.02Z"/>
<path d="M1469.5 975.72L1473.8 971.42L1478.1 975.72L1473.8 980.02Z"/>
<path d="M1457.7 997.98L1462 993.68L1466.3 997.98L1462 1002.28Z"/>
<path d="M1460.68 997.98L1464.98 993.68L1469.28 997.98L1464.98 1002.28Z"/>
<path d="M1463.66 997.98L1467.96 993.68L1472.26 997.98L1467.96 1002.28Z"/>
<path d="M1466.64 997.98L1470.94 993.68L1475.24 997.98L1470.94 1002.28Z"/>
<path d="M1469.62 997.98L1473.92 993.68L1478.22 997.98L1473.92 1002.28Z"/>
<path d="M1472.6 997.98L1476.9 993.68L1481.2 997.98L1476.9 1002.28Z"/>
<path d="M1460.2 1020.24L1464.5 1015.94L1468.8 1020.24L1464.5 1024.54Z"/>
<path d="M1461.8 1020.24L1466.1 1015.94L1470.4 1020.24L1466.1 1024.54Z"/>
<path d="M1465 1153.8L1469.3 1149.5L1473.6 1153.8L1469.3 1158.1Z"/>
<line x1="906" y1="707.6" x2="906" y2="1210.8" stroke="#000" stroke-width="2"/>
<line x1="896.6" y1="1153.8" x2="906" y2="1153.8" stroke="#000" stroke-width="2"/>
<line x1="896.6" y1="1042.5" x2="906" y2="1042.5" stroke="#000" stroke-width="2"/>
<line x1="896.6" y1="931.2" x2="906" y2="931.2" stroke="#000" stroke-width="2"/>
<line x1="896.6" y1="819.9" x2="906" y2="819.9" stroke="#000" stroke-width="2"/>
<line x1="896.6" y1="708.6" x2="906" y2="708.6" stroke="#000" stroke-width="2"/>
<line x1="901.1" y1="1209.45" x2="906" y2="1209.45" stroke="#000" stroke-width="2"/>
<line x1="901.1" y1="1098.15" x2="906" y2="1098.15" stroke="#000" stroke-width="2"/>
<line x1="901.1" y1="986.85" x2="906" y2="986.85" stroke="#000" stroke-width="2"/>
<line x1="901.1" y1="875.55" x2="906" y2="875.55" stroke="#000" stroke-width="2"/>
<line x1="901.1" y1="764.25" x2="906" y2="764.25" stroke="#000" stroke-width="2"/>
<text x="889" y="1159.7" text-anchor="end" font-size="22">0</text>
<text x="889" y="1048.4" text-anchor="end" font-size="22">5</text>
<text x="889" y="937.1" text-anchor="end" font-size="22">10</text>
<text x="889" y="825.8" text-anchor="end" font-size="22">15</text>
<text x="889" y="714.5" text-anchor="end" font-size="22">20</text>
<line x1="901.1" y1="1209.8" x2="1528" y2="1209.8" stroke="#000" stroke-width="2"/>
<line x1="1009.2" y1="1209.8" x2="1009.2" y2="1219.3" stroke="#000" stroke-width="2"/>
<line x1="1216.7" y1="1209.8" x2="1216.7" y2="1219.3" stroke="#000" stroke-width="2"/>
<line x1="1423.9" y1="1209.8" x2="1423.9" y2="1219.3" stroke="#000" stroke-width="2"/>
<text x="1010" y="1242" text-anchor="middle" font-size="21.3">YouTube</text>
<text x="1216.9" y="1242" text-anchor="middle" font-size="21.3">Bilibili</text>
<text x="1423.7" y="1242" text-anchor="middle" font-size="21.3">TikTok</text>
<text x="1209.2" y="1291.6" text-anchor="middle" font-size="26.2">PEMAT-sum</text>
<text x="858" y="959.1" text-anchor="middle" font-size="26.2" transform="rotate(-90 858 959.1)">Range</text>
<text x="819.2" y="699.9" text-anchor="start" font-size="46.5" font-weight="bold">D</text>
</svg>
</body></html>
